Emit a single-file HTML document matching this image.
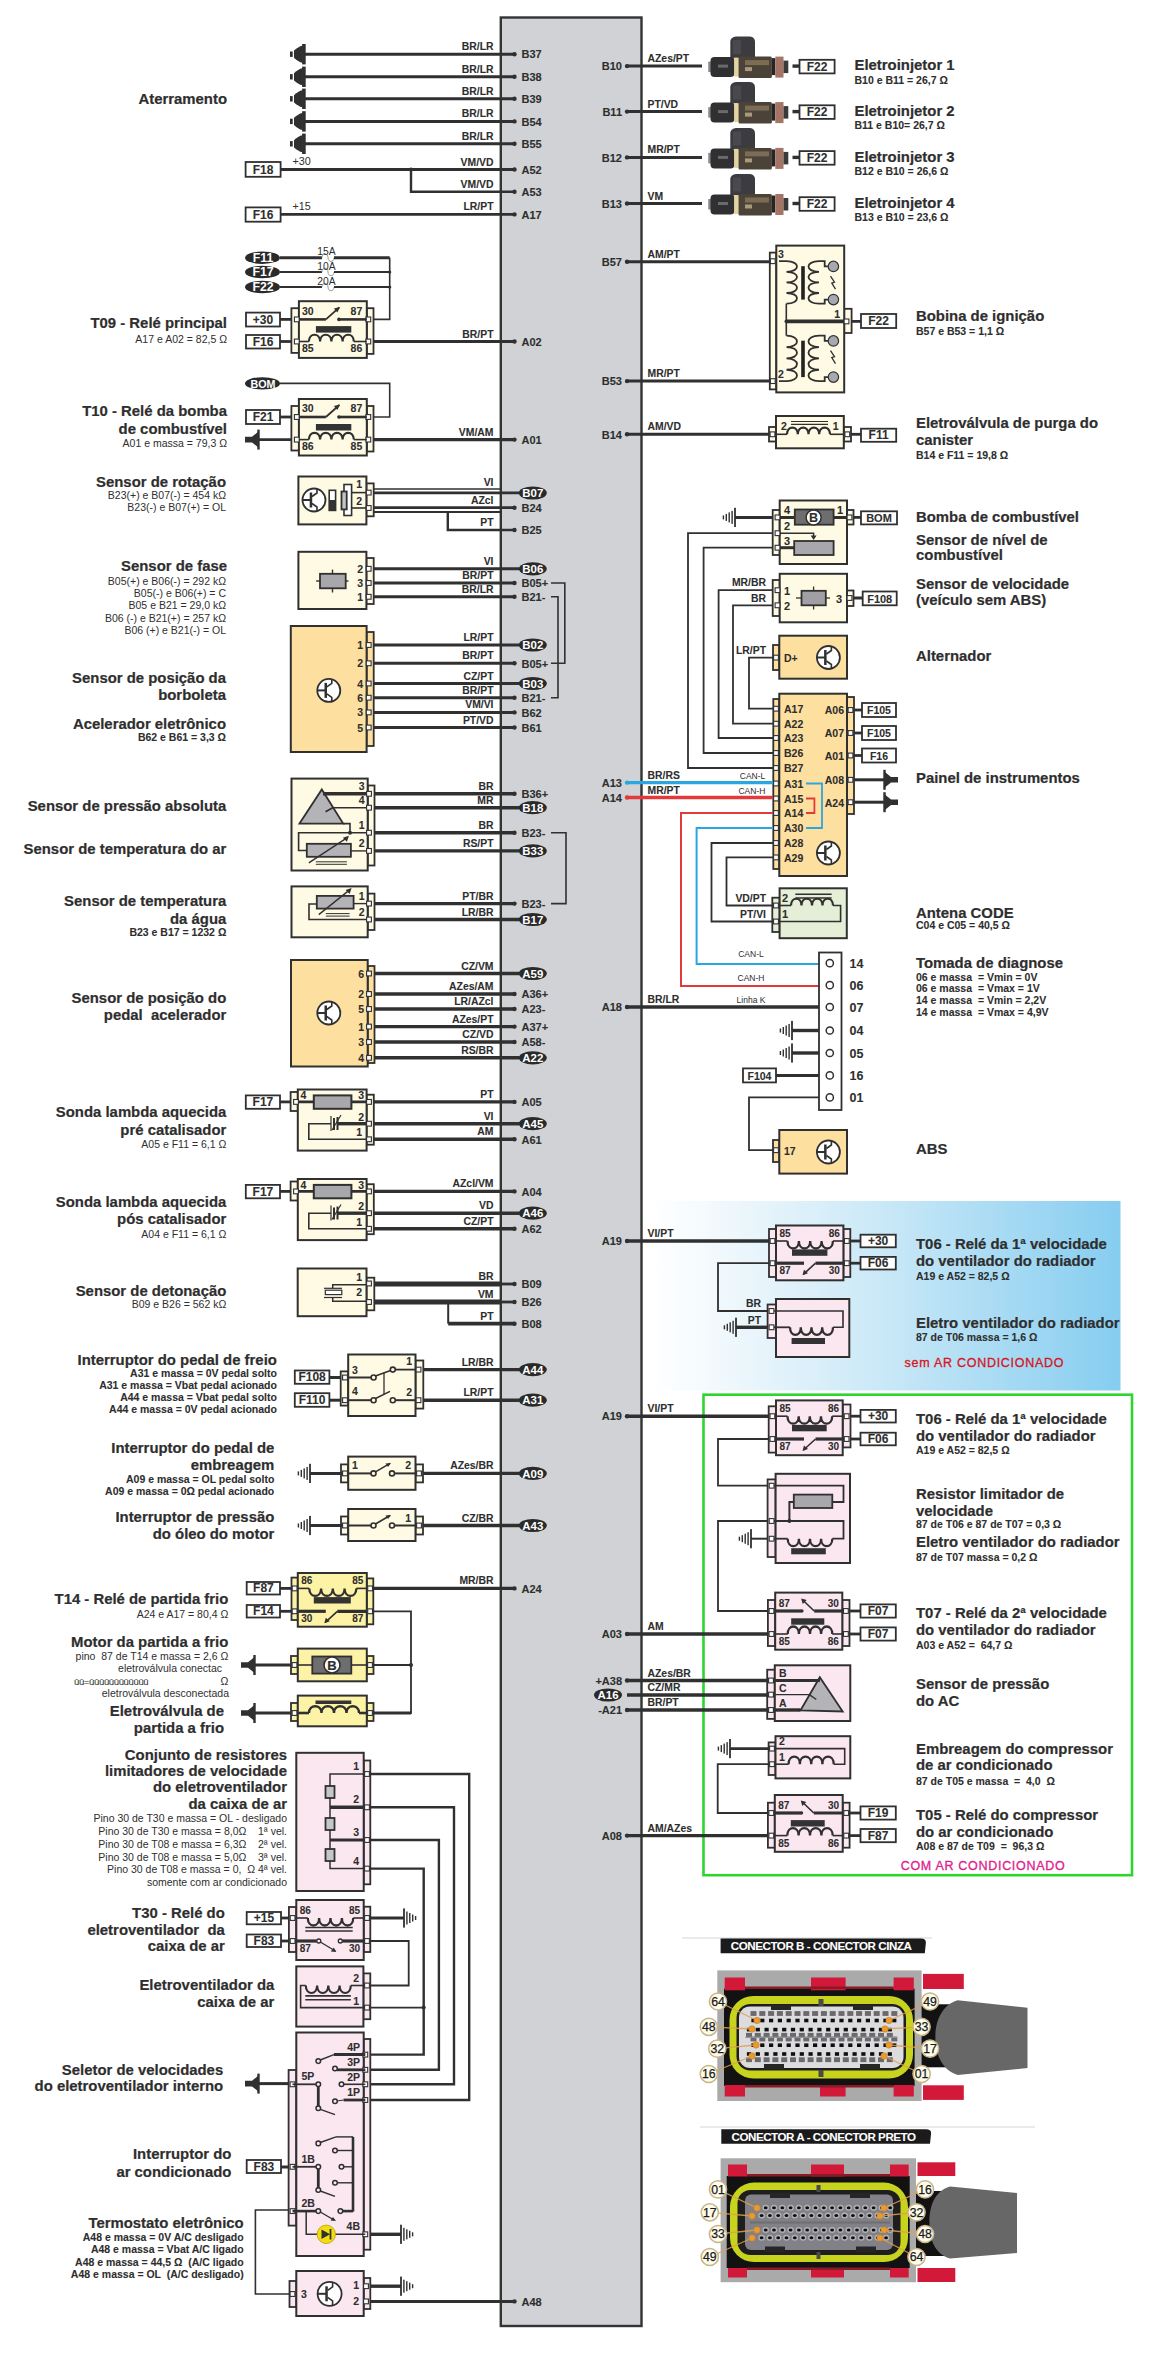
<!DOCTYPE html>
<html><head><meta charset="utf-8"><style>
html,body{margin:0;padding:0;background:#fff;}
svg{display:block;font-family:"Liberation Sans", sans-serif;}
text{white-space:pre;}
</style></head><body>
<svg width="1155" height="2357" viewBox="0 0 1155 2357">
<rect x="500.8" y="17.5" width="140.7" height="2308.5" fill="#d0d2d5" stroke="#333" stroke-width="2.4" rx="0"/>
<text x="227.0" y="104.0" font-size="14.9" font-weight="bold" text-anchor="end" fill="#2e2e2e" stroke="#2e2e2e" stroke-width="0.2" >Aterramento</text>
<rect x="302.1" y="44.0" width="3.6" height="20.4" fill="#303030"/>
<polygon points="302.7,45.7 300.2,46.2 296.2,48.7 294.0,50.6 294.0,57.800000000000004 296.2,59.7 300.2,62.2 302.7,62.7" fill="#303030"/>
<rect x="290.0" y="51.5" width="2.7" height="5.4" fill="#303030"/>
<line x1="305.0" y1="54.2" x2="514.5" y2="54.2" stroke="#303030" stroke-width="3.0"/>
<circle cx="514.5" cy="54.2" r="2.2" fill="#303030"/>
<text x="521.5" y="58.4" font-size="11" font-weight="bold" text-anchor="start" fill="#2e2e2e" stroke="#2e2e2e" stroke-width="0.08" >B37</text>
<text x="493.5" y="50.2" font-size="10.4" font-weight="bold" text-anchor="end" fill="#2e2e2e" stroke="#2e2e2e" stroke-width="0.08" >BR/LR</text>
<rect x="302.1" y="66.6" width="3.6" height="20.4" fill="#303030"/>
<polygon points="302.7,68.3 300.2,68.8 296.2,71.3 294.0,73.2 294.0,80.39999999999999 296.2,82.3 300.2,84.8 302.7,85.3" fill="#303030"/>
<rect x="290.0" y="74.1" width="2.7" height="5.4" fill="#303030"/>
<line x1="305.0" y1="76.8" x2="514.5" y2="76.8" stroke="#303030" stroke-width="3.0"/>
<circle cx="514.5" cy="76.8" r="2.2" fill="#303030"/>
<text x="521.5" y="81.0" font-size="11" font-weight="bold" text-anchor="start" fill="#2e2e2e" stroke="#2e2e2e" stroke-width="0.08" >B38</text>
<text x="493.5" y="72.8" font-size="10.4" font-weight="bold" text-anchor="end" fill="#2e2e2e" stroke="#2e2e2e" stroke-width="0.08" >BR/LR</text>
<rect x="302.1" y="88.6" width="3.6" height="20.4" fill="#303030"/>
<polygon points="302.7,90.3 300.2,90.8 296.2,93.3 294.0,95.2 294.0,102.39999999999999 296.2,104.3 300.2,106.8 302.7,107.3" fill="#303030"/>
<rect x="290.0" y="96.1" width="2.7" height="5.4" fill="#303030"/>
<line x1="305.0" y1="98.8" x2="514.5" y2="98.8" stroke="#303030" stroke-width="3.0"/>
<circle cx="514.5" cy="98.8" r="2.2" fill="#303030"/>
<text x="521.5" y="103.0" font-size="11" font-weight="bold" text-anchor="start" fill="#2e2e2e" stroke="#2e2e2e" stroke-width="0.08" >B39</text>
<text x="493.5" y="94.8" font-size="10.4" font-weight="bold" text-anchor="end" fill="#2e2e2e" stroke="#2e2e2e" stroke-width="0.08" >BR/LR</text>
<rect x="302.1" y="111.2" width="3.6" height="20.4" fill="#303030"/>
<polygon points="302.7,112.9 300.2,113.4 296.2,115.9 294.0,117.80000000000001 294.0,125.0 296.2,126.9 300.2,129.4 302.7,129.9" fill="#303030"/>
<rect x="290.0" y="118.7" width="2.7" height="5.4" fill="#303030"/>
<line x1="305.0" y1="121.4" x2="514.5" y2="121.4" stroke="#303030" stroke-width="3.0"/>
<circle cx="514.5" cy="121.4" r="2.2" fill="#303030"/>
<text x="521.5" y="125.6" font-size="11" font-weight="bold" text-anchor="start" fill="#2e2e2e" stroke="#2e2e2e" stroke-width="0.08" >B54</text>
<text x="493.5" y="117.4" font-size="10.4" font-weight="bold" text-anchor="end" fill="#2e2e2e" stroke="#2e2e2e" stroke-width="0.08" >BR/LR</text>
<rect x="302.1" y="133.6" width="3.6" height="20.4" fill="#303030"/>
<polygon points="302.7,135.3 300.2,135.8 296.2,138.3 294.0,140.20000000000002 294.0,147.4 296.2,149.3 300.2,151.8 302.7,152.3" fill="#303030"/>
<rect x="290.0" y="141.1" width="2.7" height="5.4" fill="#303030"/>
<line x1="305.0" y1="143.8" x2="514.5" y2="143.8" stroke="#303030" stroke-width="3.0"/>
<circle cx="514.5" cy="143.8" r="2.2" fill="#303030"/>
<text x="521.5" y="148.0" font-size="11" font-weight="bold" text-anchor="start" fill="#2e2e2e" stroke="#2e2e2e" stroke-width="0.08" >B55</text>
<text x="493.5" y="139.8" font-size="10.4" font-weight="bold" text-anchor="end" fill="#2e2e2e" stroke="#2e2e2e" stroke-width="0.08" >BR/LR</text>
<rect x="245.6" y="162.0" width="35.0" height="14.8" fill="#fff" stroke="#303030" stroke-width="1.8" rx="0"/>
<text x="263.1" y="173.5" font-size="12" font-weight="bold" text-anchor="middle" fill="#2e2e2e" stroke="#2e2e2e" stroke-width="0.08" >F18</text>
<text x="292.5" y="165.0" font-size="10.8" font-weight="normal" text-anchor="start" fill="#2e2e2e"  >+30</text>
<line x1="280.6" y1="169.5" x2="514.5" y2="169.5" stroke="#303030" stroke-width="2.8"/>
<circle cx="514.5" cy="169.5" r="2.2" fill="#303030"/>
<text x="521.5" y="173.7" font-size="11" font-weight="bold" text-anchor="start" fill="#2e2e2e" stroke="#2e2e2e" stroke-width="0.08" >A52</text>
<text x="493.5" y="165.5" font-size="10.4" font-weight="bold" text-anchor="end" fill="#2e2e2e" stroke="#2e2e2e" stroke-width="0.08" >VM/VD</text>
<polyline points="411.0,169.5 411.0,191.8 514.5,191.8" fill="none" stroke="#303030" stroke-width="2.4" stroke-linejoin="miter"/>
<circle cx="411.0" cy="169.5" r="2" fill="#303030"/>
<circle cx="514.5" cy="191.8" r="2.2" fill="#303030"/>
<text x="521.5" y="196.0" font-size="11" font-weight="bold" text-anchor="start" fill="#2e2e2e" stroke="#2e2e2e" stroke-width="0.08" >A53</text>
<text x="493.5" y="187.8" font-size="10.4" font-weight="bold" text-anchor="end" fill="#2e2e2e" stroke="#2e2e2e" stroke-width="0.08" >VM/VD</text>
<rect x="245.6" y="207.4" width="35.0" height="14.3" fill="#fff" stroke="#303030" stroke-width="1.8" rx="0"/>
<text x="263.1" y="218.7" font-size="12" font-weight="bold" text-anchor="middle" fill="#2e2e2e" stroke="#2e2e2e" stroke-width="0.08" >F16</text>
<text x="292.5" y="210.0" font-size="10.8" font-weight="normal" text-anchor="start" fill="#2e2e2e"  >+15</text>
<line x1="280.6" y1="214.4" x2="514.5" y2="214.4" stroke="#303030" stroke-width="2.8"/>
<circle cx="514.5" cy="214.4" r="2.2" fill="#303030"/>
<text x="521.5" y="218.6" font-size="11" font-weight="bold" text-anchor="start" fill="#2e2e2e" stroke="#2e2e2e" stroke-width="0.08" >A17</text>
<text x="493.5" y="210.4" font-size="10.4" font-weight="bold" text-anchor="end" fill="#2e2e2e" stroke="#2e2e2e" stroke-width="0.08" >LR/PT</text>
<ellipse cx="262.5" cy="257.7" rx="17.5" ry="6.2" fill="#2a2a2a"/>
<text x="263" y="262.09999999999997" font-size="12.3" font-weight="bold" text-anchor="middle" fill="#fff">F11</text>
<line x1="280.0" y1="257.7" x2="322.0" y2="257.7" stroke="#303030" stroke-width="3.0"/>
<path d="M322,257.7 C322,252.7 328,252.7 328,257.7 C328,262.7 334,262.7 334,257.7" fill="none" stroke="#999" stroke-width="1"/>
<line x1="334.0" y1="257.7" x2="389.7" y2="257.7" stroke="#303030" stroke-width="3.0"/>
<text x="326.5" y="255.2" font-size="10.3" font-weight="normal" text-anchor="middle" fill="#2e2e2e"  >15A</text>
<ellipse cx="262.5" cy="272" rx="17.5" ry="6.2" fill="#2a2a2a"/>
<text x="263" y="276.4" font-size="12.3" font-weight="bold" text-anchor="middle" fill="#fff">F17</text>
<line x1="280.0" y1="272.0" x2="322.0" y2="272.0" stroke="#303030" stroke-width="1.8"/>
<path d="M322,272 C322,267 328,267 328,272 C328,277 334,277 334,272" fill="none" stroke="#999" stroke-width="1"/>
<line x1="334.0" y1="272.0" x2="389.7" y2="272.0" stroke="#303030" stroke-width="1.8"/>
<text x="326.5" y="269.5" font-size="10.3" font-weight="normal" text-anchor="middle" fill="#2e2e2e"  >10A</text>
<ellipse cx="262.5" cy="287" rx="17.5" ry="6.2" fill="#2a2a2a"/>
<text x="263" y="291.4" font-size="12.3" font-weight="bold" text-anchor="middle" fill="#fff">F22</text>
<line x1="280.0" y1="287.0" x2="322.0" y2="287.0" stroke="#303030" stroke-width="1.8"/>
<path d="M322,287 C322,282 328,282 328,287 C328,292 334,292 334,287" fill="none" stroke="#999" stroke-width="1"/>
<line x1="334.0" y1="287.0" x2="389.7" y2="287.0" stroke="#303030" stroke-width="1.8"/>
<text x="326.5" y="284.5" font-size="10.3" font-weight="normal" text-anchor="middle" fill="#2e2e2e"  >20A</text>
<polyline points="389.7,257.7 389.7,319.4 373.5,319.4" fill="none" stroke="#303030" stroke-width="1.6" stroke-linejoin="miter"/>
<circle cx="389.7" cy="272.0" r="1.6" fill="#303030"/>
<circle cx="389.7" cy="287.0" r="1.6" fill="#303030"/>
<rect x="291.4" y="308.2" width="7.5" height="44.7" fill="#fefae4" stroke="#303030" stroke-width="1.8" rx="0"/>
<rect x="366.8" y="308.2" width="6.7" height="45.7" fill="#fefae4" stroke="#303030" stroke-width="1.8" rx="0"/>
<rect x="298.9" y="301.2" width="67.9" height="56.7" fill="#fefae4" stroke="#303030" stroke-width="2" rx="0"/>
<rect x="294.4" y="317.0" width="4.8" height="4.8" fill="#fff" stroke="#303030" stroke-width="1.1"/>
<rect x="365.9" y="317.0" width="4.8" height="4.8" fill="#fff" stroke="#303030" stroke-width="1.1"/>
<rect x="294.4" y="339.1" width="4.8" height="4.8" fill="#fff" stroke="#303030" stroke-width="1.1"/>
<rect x="365.9" y="339.1" width="4.8" height="4.8" fill="#fff" stroke="#303030" stroke-width="1.1"/>
<text x="301.9" y="314.7" font-size="10.5" font-weight="bold" text-anchor="start" fill="#2e2e2e" stroke="#2e2e2e" stroke-width="0.08" >30</text>
<text x="362.3" y="314.7" font-size="10.5" font-weight="bold" text-anchor="end" fill="#2e2e2e" stroke="#2e2e2e" stroke-width="0.08" >87</text>
<text x="301.9" y="352.0" font-size="10.5" font-weight="bold" text-anchor="start" fill="#2e2e2e" stroke="#2e2e2e" stroke-width="0.08" >85</text>
<text x="362.3" y="352.0" font-size="10.5" font-weight="bold" text-anchor="end" fill="#2e2e2e" stroke="#2e2e2e" stroke-width="0.08" >86</text>
<line x1="298.9" y1="319.4" x2="325.9" y2="319.4" stroke="#303030" stroke-width="2.6"/>
<line x1="325.9" y1="319.4" x2="339.4" y2="307.4" stroke="#303030" stroke-width="1.8"/>
<polygon points="339.9,306.9 333.9,308.4 337.4,312.4" fill="#303030"/>
<circle cx="338.9" cy="319.4" r="1.8" fill="#303030"/>
<line x1="338.9" y1="319.4" x2="366.8" y2="319.4" stroke="#303030" stroke-width="2.6"/>
<line x1="298.9" y1="341.5" x2="308.9" y2="341.5" stroke="#303030" stroke-width="1.6"/>
<path d="M308.9,341.5 C308.9,332.5 320.1,332.5 320.1,341.5 C320.1,332.5 331.4,332.5 331.4,341.5 C331.4,332.5 342.6,332.5 342.6,341.5 C342.6,332.5 353.8,332.5 353.8,341.5 " fill="none" stroke="#303030" stroke-width="2.2"/>
<line x1="353.8" y1="341.5" x2="366.8" y2="341.5" stroke="#303030" stroke-width="1.6"/>
<rect x="315.9" y="326.1" width="35.4" height="6.5" fill="#333"/>
<rect x="246.0" y="312.6" width="34.0" height="13.9" fill="#fff" stroke="#303030" stroke-width="1.8" rx="0"/>
<text x="263.0" y="323.7" font-size="12" font-weight="bold" text-anchor="middle" fill="#2e2e2e" stroke="#2e2e2e" stroke-width="0.08" >+30</text>
<rect x="246.0" y="335.0" width="34.0" height="13.5" fill="#fff" stroke="#303030" stroke-width="1.8" rx="0"/>
<text x="263.0" y="345.9" font-size="12" font-weight="bold" text-anchor="middle" fill="#2e2e2e" stroke="#2e2e2e" stroke-width="0.08" >F16</text>
<line x1="280.0" y1="319.4" x2="292.0" y2="319.4" stroke="#303030" stroke-width="2.8"/>
<line x1="280.0" y1="341.5" x2="292.0" y2="341.5" stroke="#303030" stroke-width="2.8"/>
<line x1="373.5" y1="341.5" x2="514.5" y2="341.5" stroke="#303030" stroke-width="3.1999999999999997"/>
<circle cx="514.5" cy="341.5" r="2.2" fill="#303030"/>
<text x="521.5" y="345.7" font-size="11" font-weight="bold" text-anchor="start" fill="#2e2e2e" stroke="#2e2e2e" stroke-width="0.08" >A02</text>
<text x="493.5" y="337.5" font-size="10.4" font-weight="bold" text-anchor="end" fill="#2e2e2e" stroke="#2e2e2e" stroke-width="0.08" >BR/PT</text>
<text x="227.0" y="328.0" font-size="14.9" font-weight="bold" text-anchor="end" fill="#2e2e2e" stroke="#2e2e2e" stroke-width="0.2" >T09 - Relé principal</text>
<text x="227.0" y="343.0" font-size="10.5" font-weight="normal" text-anchor="end" fill="#2e2e2e"  >A17 e A02 = 82,5 Ω</text>
<ellipse cx="262.5" cy="383.4" rx="17.5" ry="6.2" fill="#2a2a2a"/>
<text x="263" y="387.6" font-size="11.5" font-weight="bold" text-anchor="middle" fill="#fff" textLength="25" lengthAdjust="spacingAndGlyphs">BOM</text>
<polyline points="280.0,383.4 389.7,383.4 389.7,417.0 373.5,417.0" fill="none" stroke="#303030" stroke-width="1.6" stroke-linejoin="miter"/>
<rect x="291.4" y="406.0" width="7.5" height="44.5" fill="#fefae4" stroke="#303030" stroke-width="1.8" rx="0"/>
<rect x="366.8" y="406.0" width="6.7" height="45.5" fill="#fefae4" stroke="#303030" stroke-width="1.8" rx="0"/>
<rect x="298.9" y="399.0" width="67.9" height="56.5" fill="#fefae4" stroke="#303030" stroke-width="2" rx="0"/>
<rect x="294.4" y="414.6" width="4.8" height="4.8" fill="#fff" stroke="#303030" stroke-width="1.1"/>
<rect x="365.9" y="414.6" width="4.8" height="4.8" fill="#fff" stroke="#303030" stroke-width="1.1"/>
<rect x="294.4" y="437.2" width="4.8" height="4.8" fill="#fff" stroke="#303030" stroke-width="1.1"/>
<rect x="365.9" y="437.2" width="4.8" height="4.8" fill="#fff" stroke="#303030" stroke-width="1.1"/>
<text x="301.9" y="412.3" font-size="10.5" font-weight="bold" text-anchor="start" fill="#2e2e2e" stroke="#2e2e2e" stroke-width="0.08" >30</text>
<text x="362.3" y="412.3" font-size="10.5" font-weight="bold" text-anchor="end" fill="#2e2e2e" stroke="#2e2e2e" stroke-width="0.08" >87</text>
<text x="301.9" y="450.1" font-size="10.5" font-weight="bold" text-anchor="start" fill="#2e2e2e" stroke="#2e2e2e" stroke-width="0.08" >86</text>
<text x="362.3" y="450.1" font-size="10.5" font-weight="bold" text-anchor="end" fill="#2e2e2e" stroke="#2e2e2e" stroke-width="0.08" >85</text>
<line x1="298.9" y1="417.0" x2="325.9" y2="417.0" stroke="#303030" stroke-width="2.6"/>
<line x1="325.9" y1="417.0" x2="339.4" y2="405.0" stroke="#303030" stroke-width="1.8"/>
<polygon points="339.9,404.5 333.9,406 337.4,410" fill="#303030"/>
<circle cx="338.9" cy="417.0" r="1.8" fill="#303030"/>
<line x1="338.9" y1="417.0" x2="366.8" y2="417.0" stroke="#303030" stroke-width="2.6"/>
<line x1="298.9" y1="439.6" x2="308.9" y2="439.6" stroke="#303030" stroke-width="1.6"/>
<path d="M308.9,439.6 C308.9,430.6 320.1,430.6 320.1,439.6 C320.1,430.6 331.4,430.6 331.4,439.6 C331.4,430.6 342.6,430.6 342.6,439.6 C342.6,430.6 353.8,430.6 353.8,439.6 " fill="none" stroke="#303030" stroke-width="2.2"/>
<line x1="353.8" y1="439.6" x2="366.8" y2="439.6" stroke="#303030" stroke-width="1.6"/>
<rect x="315.9" y="424.0" width="35.4" height="6.5" fill="#333"/>
<rect x="246.0" y="410.0" width="34.0" height="14.0" fill="#fff" stroke="#303030" stroke-width="1.8" rx="0"/>
<text x="263.0" y="421.1" font-size="12" font-weight="bold" text-anchor="middle" fill="#2e2e2e" stroke="#2e2e2e" stroke-width="0.08" >F21</text>
<line x1="280.0" y1="417.0" x2="292.0" y2="417.0" stroke="#303030" stroke-width="2.8"/>
<rect x="257.3" y="429.6" width="2.4" height="20.0" fill="#303030"/>
<polygon points="258.5,431.6 252.0,436.8 245.0,436.8 245.0,442.4 252.0,442.4 258.5,447.6" fill="#303030"/>
<line x1="258.5" y1="439.6" x2="292.0" y2="439.6" stroke="#303030" stroke-width="2.8"/>
<line x1="373.5" y1="439.6" x2="514.5" y2="439.6" stroke="#303030" stroke-width="3.1999999999999997"/>
<circle cx="514.5" cy="439.6" r="2.2" fill="#303030"/>
<text x="521.5" y="443.8" font-size="11" font-weight="bold" text-anchor="start" fill="#2e2e2e" stroke="#2e2e2e" stroke-width="0.08" >A01</text>
<text x="493.5" y="435.6" font-size="10.4" font-weight="bold" text-anchor="end" fill="#2e2e2e" stroke="#2e2e2e" stroke-width="0.08" >VM/AM</text>
<text x="227.0" y="416.0" font-size="14.9" font-weight="bold" text-anchor="end" fill="#2e2e2e" stroke="#2e2e2e" stroke-width="0.2" >T10 - Relé da bomba</text>
<text x="227.0" y="433.5" font-size="14.9" font-weight="bold" text-anchor="end" fill="#2e2e2e" stroke="#2e2e2e" stroke-width="0.2" >de combustível</text>
<text x="227.0" y="447.0" font-size="10.5" font-weight="normal" text-anchor="end" fill="#2e2e2e"  >A01 e massa = 79,3 Ω</text>
<rect x="366.4" y="483.4" width="7.3" height="32.9" fill="#fefae4" stroke="#303030" stroke-width="1.8" rx="0"/>
<rect x="298.4" y="476.5" width="68.0" height="47.9" fill="#fefae4" stroke="#303030" stroke-width="2" rx="0"/>
<circle cx="314.0" cy="500.0" r="11.5" fill="#fff" stroke="#303030" stroke-width="1.8"/>
<line x1="302.5" y1="500.0" x2="311.0" y2="500.0" stroke="#303030" stroke-width="2"/>
<rect x="309.7" y="492.5" width="2.5" height="15.0" fill="#303030"/>
<path d="M312,496.5 L317,493 L317,489.0" fill="none" stroke="#303030" stroke-width="1.6"/>
<path d="M312,503.5 L317,507 L317,511.0" fill="none" stroke="#303030" stroke-width="1.6"/>
<rect x="329.2" y="490.3" width="6.4" height="20.1" fill="#fff" stroke="#303030" stroke-width="1.6" rx="0"/>
<rect x="329.2" y="500.0" width="6.4" height="10.4" fill="#333"/>
<rect x="344.0" y="484.5" width="7.6" height="31.0" fill="#fff" stroke="#303030" stroke-width="1.6" rx="0"/>
<line x1="351.6" y1="492.6" x2="367.0" y2="492.6" stroke="#303030" stroke-width="1.6"/>
<line x1="351.6" y1="508.0" x2="367.0" y2="508.0" stroke="#303030" stroke-width="1.6"/>
<rect x="341.5" y="491.5" width="5.2" height="17.9" fill="#c4c4c8" stroke="#303030" stroke-width="1.8" rx="0"/>
<rect x="366.3" y="490.2" width="4.8" height="4.8" fill="#fff" stroke="#303030" stroke-width="1.1"/>
<rect x="366.3" y="505.6" width="4.8" height="4.8" fill="#fff" stroke="#303030" stroke-width="1.1"/>
<text x="362.0" y="488.0" font-size="10.5" font-weight="bold" text-anchor="end" fill="#2e2e2e" stroke="#2e2e2e" stroke-width="0.08" >1</text>
<text x="362.0" y="505.0" font-size="10.5" font-weight="bold" text-anchor="end" fill="#2e2e2e" stroke="#2e2e2e" stroke-width="0.08" >2</text>
<line x1="373.7" y1="489.0" x2="501.0" y2="489.0" stroke="#303030" stroke-width="1.6"/>
<line x1="373.7" y1="492.8" x2="519.0" y2="492.8" stroke="#303030" stroke-width="2.8"/>
<line x1="373.7" y1="507.7" x2="514.5" y2="507.7" stroke="#303030" stroke-width="2.8"/>
<line x1="373.7" y1="512.0" x2="501.0" y2="512.0" stroke="#303030" stroke-width="1.8"/>
<polyline points="447.8,512.0 447.8,530.0 514.5,530.0" fill="none" stroke="#303030" stroke-width="2.4" stroke-linejoin="miter"/>
<ellipse cx="532.8" cy="493.0" rx="14" ry="6.6" fill="#2a2a2a"/>
<text x="532.8" y="497.1" font-size="11" font-weight="bold" text-anchor="middle" fill="#fff" textLength="21" lengthAdjust="spacingAndGlyphs">B07</text>
<text x="493.5" y="486.0" font-size="10.4" font-weight="bold" text-anchor="end" fill="#2e2e2e" stroke="#2e2e2e" stroke-width="0.08" >VI</text>
<circle cx="514.5" cy="507.7" r="2.2" fill="#303030"/>
<text x="521.5" y="511.9" font-size="11" font-weight="bold" text-anchor="start" fill="#2e2e2e" stroke="#2e2e2e" stroke-width="0.08" >B24</text>
<text x="493.5" y="503.7" font-size="10.4" font-weight="bold" text-anchor="end" fill="#2e2e2e" stroke="#2e2e2e" stroke-width="0.08" >AZcl</text>
<circle cx="514.5" cy="530.0" r="2.2" fill="#303030"/>
<text x="521.5" y="534.2" font-size="11" font-weight="bold" text-anchor="start" fill="#2e2e2e" stroke="#2e2e2e" stroke-width="0.08" >B25</text>
<text x="493.5" y="526.0" font-size="10.4" font-weight="bold" text-anchor="end" fill="#2e2e2e" stroke="#2e2e2e" stroke-width="0.08" >PT</text>
<text x="226.0" y="486.6" font-size="14.9" font-weight="bold" text-anchor="end" fill="#2e2e2e" stroke="#2e2e2e" stroke-width="0.2" >Sensor de rotação</text>
<text x="226.0" y="499.0" font-size="10.5" font-weight="normal" text-anchor="end" fill="#2e2e2e"  >B23(+) e B07(-) = 454 kΩ</text>
<text x="226.0" y="511.4" font-size="10.5" font-weight="normal" text-anchor="end" fill="#2e2e2e"  >B23(-) e B07(+) = OL</text>
<rect x="366.4" y="558.0" width="7.3" height="46.0" fill="#fefae4" stroke="#303030" stroke-width="1.8" rx="0"/>
<rect x="298.4" y="551.8" width="68.0" height="57.2" fill="#fefae4" stroke="#303030" stroke-width="2" rx="0"/>
<rect x="320.0" y="573.8" width="25.7" height="14.5" fill="#a8a8ac" stroke="#303030" stroke-width="1.8" rx="0"/>
<line x1="316.1" y1="581.0" x2="320.0" y2="581.0" stroke="#303030" stroke-width="1.4"/>
<line x1="345.7" y1="581.0" x2="348.5" y2="581.0" stroke="#303030" stroke-width="1.4"/>
<line x1="332.5" y1="569.6" x2="332.5" y2="573.8" stroke="#303030" stroke-width="1.4"/>
<line x1="332.5" y1="588.3" x2="332.5" y2="592.5" stroke="#303030" stroke-width="1.4"/>
<rect x="366.3" y="566.4" width="4.8" height="4.8" fill="#fff" stroke="#303030" stroke-width="1.1"/>
<text x="363.0" y="572.8" font-size="10.5" font-weight="bold" text-anchor="end" fill="#2e2e2e" stroke="#2e2e2e" stroke-width="0.08" >2</text>
<line x1="373.7" y1="568.8" x2="519.0" y2="568.8" stroke="#303030" stroke-width="3.0"/>
<rect x="366.3" y="580.6" width="4.8" height="4.8" fill="#fff" stroke="#303030" stroke-width="1.1"/>
<text x="363.0" y="587.0" font-size="10.5" font-weight="bold" text-anchor="end" fill="#2e2e2e" stroke="#2e2e2e" stroke-width="0.08" >3</text>
<line x1="373.7" y1="583.0" x2="514.5" y2="583.0" stroke="#303030" stroke-width="3.0"/>
<rect x="366.3" y="594.4" width="4.8" height="4.8" fill="#fff" stroke="#303030" stroke-width="1.1"/>
<text x="363.0" y="600.8" font-size="10.5" font-weight="bold" text-anchor="end" fill="#2e2e2e" stroke="#2e2e2e" stroke-width="0.08" >1</text>
<line x1="373.7" y1="596.8" x2="514.5" y2="596.8" stroke="#303030" stroke-width="3.0"/>
<ellipse cx="532.8" cy="568.8" rx="14" ry="6.6" fill="#2a2a2a"/>
<text x="532.8" y="572.9" font-size="11" font-weight="bold" text-anchor="middle" fill="#fff" textLength="21" lengthAdjust="spacingAndGlyphs">B06</text>
<text x="493.5" y="564.8" font-size="10.4" font-weight="bold" text-anchor="end" fill="#2e2e2e" stroke="#2e2e2e" stroke-width="0.08" >VI</text>
<circle cx="514.5" cy="583.0" r="2.2" fill="#303030"/>
<text x="521.5" y="587.2" font-size="11" font-weight="bold" text-anchor="start" fill="#2e2e2e" stroke="#2e2e2e" stroke-width="0.08" >B05+</text>
<text x="493.5" y="579.0" font-size="10.4" font-weight="bold" text-anchor="end" fill="#2e2e2e" stroke="#2e2e2e" stroke-width="0.08" >BR/PT</text>
<circle cx="514.5" cy="596.8" r="2.2" fill="#303030"/>
<text x="521.5" y="601.0" font-size="11" font-weight="bold" text-anchor="start" fill="#2e2e2e" stroke="#2e2e2e" stroke-width="0.08" >B21-</text>
<text x="493.5" y="592.8" font-size="10.4" font-weight="bold" text-anchor="end" fill="#2e2e2e" stroke="#2e2e2e" stroke-width="0.08" >BR/LR</text>
<text x="227.0" y="571.0" font-size="14.9" font-weight="bold" text-anchor="end" fill="#2e2e2e" stroke="#2e2e2e" stroke-width="0.2" >Sensor de fase</text>
<text x="226.0" y="584.9" font-size="10.5" font-weight="normal" text-anchor="end" fill="#2e2e2e"  >B05(+) e B06(-) = 292 kΩ</text>
<text x="226.0" y="596.6" font-size="10.5" font-weight="normal" text-anchor="end" fill="#2e2e2e"  >B05(-) e B06(+) = C</text>
<text x="226.0" y="609.4" font-size="10.5" font-weight="normal" text-anchor="end" fill="#2e2e2e"  >B05 e B21 = 29,0 kΩ</text>
<text x="226.0" y="622.4" font-size="10.5" font-weight="normal" text-anchor="end" fill="#2e2e2e"  >B06 (-) e B21(+) = 257 kΩ</text>
<text x="226.0" y="634.2" font-size="10.5" font-weight="normal" text-anchor="end" fill="#2e2e2e"  >B06 (+) e B21(-) = OL</text>
<polyline points="551.0,583.0 564.8,583.0 564.8,663.3 551.0,663.3" fill="none" stroke="#303030" stroke-width="1.6" stroke-linejoin="miter"/>
<polyline points="551.0,596.8 558.0,596.8 558.0,697.7 551.0,697.7" fill="none" stroke="#303030" stroke-width="1.6" stroke-linejoin="miter"/>
<rect x="366.6" y="632.0" width="7.1" height="114.0" fill="#fde0a0" stroke="#303030" stroke-width="1.8" rx="0"/>
<rect x="290.8" y="626.0" width="75.8" height="126.0" fill="#fde0a0" stroke="#303030" stroke-width="2" rx="0"/>
<circle cx="328.8" cy="690.4" r="11.5" fill="#fff" stroke="#303030" stroke-width="1.8"/>
<line x1="317.3" y1="690.4" x2="325.8" y2="690.4" stroke="#303030" stroke-width="2"/>
<rect x="324.5" y="682.9" width="2.5" height="15.0" fill="#303030"/>
<path d="M326.8,686.9 L331.8,683.4 L331.8,679.4" fill="none" stroke="#303030" stroke-width="1.6"/>
<path d="M326.8,693.9 L331.8,697.4 L331.8,701.4" fill="none" stroke="#303030" stroke-width="1.6"/>
<rect x="366.3" y="642.6" width="4.8" height="4.8" fill="#fff" stroke="#303030" stroke-width="1.1"/>
<text x="363.0" y="649.0" font-size="10.5" font-weight="bold" text-anchor="end" fill="#2e2e2e" stroke="#2e2e2e" stroke-width="0.08" >1</text>
<line x1="373.7" y1="645.0" x2="519.0" y2="645.0" stroke="#303030" stroke-width="3.0"/>
<ellipse cx="532.8" cy="645.0" rx="14" ry="6.6" fill="#2a2a2a"/>
<text x="532.8" y="649.1" font-size="11" font-weight="bold" text-anchor="middle" fill="#fff" textLength="21" lengthAdjust="spacingAndGlyphs">B02</text>
<text x="493.5" y="641.0" font-size="10.4" font-weight="bold" text-anchor="end" fill="#2e2e2e" stroke="#2e2e2e" stroke-width="0.08" >LR/PT</text>
<rect x="366.3" y="660.9" width="4.8" height="4.8" fill="#fff" stroke="#303030" stroke-width="1.1"/>
<text x="363.0" y="667.3" font-size="10.5" font-weight="bold" text-anchor="end" fill="#2e2e2e" stroke="#2e2e2e" stroke-width="0.08" >2</text>
<line x1="373.7" y1="663.3" x2="514.5" y2="663.3" stroke="#303030" stroke-width="3.0"/>
<circle cx="514.5" cy="663.3" r="2.2" fill="#303030"/>
<text x="521.5" y="667.5" font-size="11" font-weight="bold" text-anchor="start" fill="#2e2e2e" stroke="#2e2e2e" stroke-width="0.08" >B05+</text>
<text x="493.5" y="659.3" font-size="10.4" font-weight="bold" text-anchor="end" fill="#2e2e2e" stroke="#2e2e2e" stroke-width="0.08" >BR/PT</text>
<rect x="366.3" y="681.1" width="4.8" height="4.8" fill="#fff" stroke="#303030" stroke-width="1.1"/>
<text x="363.0" y="687.5" font-size="10.5" font-weight="bold" text-anchor="end" fill="#2e2e2e" stroke="#2e2e2e" stroke-width="0.08" >4</text>
<line x1="373.7" y1="683.5" x2="519.0" y2="683.5" stroke="#303030" stroke-width="3.0"/>
<ellipse cx="532.8" cy="683.5" rx="14" ry="6.6" fill="#2a2a2a"/>
<text x="532.8" y="687.6" font-size="11" font-weight="bold" text-anchor="middle" fill="#fff" textLength="21" lengthAdjust="spacingAndGlyphs">B03</text>
<text x="493.5" y="679.5" font-size="10.4" font-weight="bold" text-anchor="end" fill="#2e2e2e" stroke="#2e2e2e" stroke-width="0.08" >CZ/PT</text>
<rect x="366.3" y="695.3" width="4.8" height="4.8" fill="#fff" stroke="#303030" stroke-width="1.1"/>
<text x="363.0" y="701.7" font-size="10.5" font-weight="bold" text-anchor="end" fill="#2e2e2e" stroke="#2e2e2e" stroke-width="0.08" >6</text>
<line x1="373.7" y1="697.7" x2="514.5" y2="697.7" stroke="#303030" stroke-width="3.0"/>
<circle cx="514.5" cy="697.7" r="2.2" fill="#303030"/>
<text x="521.5" y="701.9" font-size="11" font-weight="bold" text-anchor="start" fill="#2e2e2e" stroke="#2e2e2e" stroke-width="0.08" >B21-</text>
<text x="493.5" y="693.7" font-size="10.4" font-weight="bold" text-anchor="end" fill="#2e2e2e" stroke="#2e2e2e" stroke-width="0.08" >BR/PT</text>
<rect x="366.3" y="710.0" width="4.8" height="4.8" fill="#fff" stroke="#303030" stroke-width="1.1"/>
<text x="363.0" y="716.4" font-size="10.5" font-weight="bold" text-anchor="end" fill="#2e2e2e" stroke="#2e2e2e" stroke-width="0.08" >3</text>
<line x1="373.7" y1="712.4" x2="514.5" y2="712.4" stroke="#303030" stroke-width="3.0"/>
<circle cx="514.5" cy="712.4" r="2.2" fill="#303030"/>
<text x="521.5" y="716.6" font-size="11" font-weight="bold" text-anchor="start" fill="#2e2e2e" stroke="#2e2e2e" stroke-width="0.08" >B62</text>
<text x="493.5" y="708.4" font-size="10.4" font-weight="bold" text-anchor="end" fill="#2e2e2e" stroke="#2e2e2e" stroke-width="0.08" >VM/VI</text>
<rect x="366.3" y="725.1" width="4.8" height="4.8" fill="#fff" stroke="#303030" stroke-width="1.1"/>
<text x="363.0" y="731.5" font-size="10.5" font-weight="bold" text-anchor="end" fill="#2e2e2e" stroke="#2e2e2e" stroke-width="0.08" >5</text>
<line x1="373.7" y1="727.5" x2="514.5" y2="727.5" stroke="#303030" stroke-width="3.0"/>
<circle cx="514.5" cy="727.5" r="2.2" fill="#303030"/>
<text x="521.5" y="731.7" font-size="11" font-weight="bold" text-anchor="start" fill="#2e2e2e" stroke="#2e2e2e" stroke-width="0.08" >B61</text>
<text x="493.5" y="723.5" font-size="10.4" font-weight="bold" text-anchor="end" fill="#2e2e2e" stroke="#2e2e2e" stroke-width="0.08" >PT/VD</text>
<text x="226.0" y="682.6" font-size="14.9" font-weight="bold" text-anchor="end" fill="#2e2e2e" stroke="#2e2e2e" stroke-width="0.2" >Sensor de posição da</text>
<text x="226.0" y="699.6" font-size="14.9" font-weight="bold" text-anchor="end" fill="#2e2e2e" stroke="#2e2e2e" stroke-width="0.2" >borboleta</text>
<text x="226.0" y="728.5" font-size="14.9" font-weight="bold" text-anchor="end" fill="#2e2e2e" stroke="#2e2e2e" stroke-width="0.2" >Acelerador eletrônico</text>
<text x="226.0" y="741.0" font-size="10.5" font-weight="bold" text-anchor="end" fill="#2e2e2e" stroke="#2e2e2e" stroke-width="0.08" >B62 e B61 = 3,3 Ω</text>
<rect x="367.7" y="785.5" width="6.8" height="80.0" fill="#fefae4" stroke="#303030" stroke-width="1.8" rx="0"/>
<rect x="291.5" y="778.6" width="76.2" height="91.9" fill="#fefae4" stroke="#303030" stroke-width="2" rx="0"/>
<polygon points="299.5,823.6 321.8,789.5 343.2,823.6" fill="#b4b4b8" stroke="#303030" stroke-width="1.8"/>
<line x1="323.0" y1="793.8" x2="369.0" y2="793.8" stroke="#303030" stroke-width="3.4"/>
<line x1="332.7" y1="807.7" x2="369.0" y2="807.7" stroke="#303030" stroke-width="1.4"/>
<line x1="332.7" y1="807.7" x2="325.5" y2="811.8" stroke="#303030" stroke-width="1.6"/>
<polyline points="343.2,823.6 350.0,823.6 350.0,832.7" fill="none" stroke="#303030" stroke-width="1.6" stroke-linejoin="miter"/>
<polyline points="369.0,832.7 298.6,832.7 298.6,850.5 306.8,850.5" fill="none" stroke="#303030" stroke-width="1.6" stroke-linejoin="miter"/>
<circle cx="350.0" cy="832.7" r="2" fill="#303030"/>
<line x1="350.9" y1="850.9" x2="369.0" y2="850.9" stroke="#303030" stroke-width="1.4"/>
<rect x="306.8" y="843.8" width="44.1" height="13.0" fill="#b4b4b8" stroke="#303030" stroke-width="1.8" rx="0"/>
<line x1="308.8" y1="862.8" x2="346.9" y2="837.8" stroke="#303030" stroke-width="1.4"/>
<polygon points="348.9,835.8 342.9,837.8 346.9,841.8" fill="#303030"/>
<line x1="315.8" y1="861.8" x2="346.9" y2="861.8" stroke="#303030" stroke-width="1"/>
<line x1="315.8" y1="864.3" x2="346.9" y2="864.3" stroke="#303030" stroke-width="1"/>
<rect x="366.6" y="791.4" width="4.8" height="4.8" fill="#fff" stroke="#303030" stroke-width="1.1"/>
<text x="364.5" y="790.3" font-size="10.5" font-weight="bold" text-anchor="end" fill="#2e2e2e" stroke="#2e2e2e" stroke-width="0.08" >3</text>
<rect x="366.6" y="805.3" width="4.8" height="4.8" fill="#fff" stroke="#303030" stroke-width="1.1"/>
<text x="364.5" y="804.2" font-size="10.5" font-weight="bold" text-anchor="end" fill="#2e2e2e" stroke="#2e2e2e" stroke-width="0.08" >4</text>
<rect x="366.6" y="830.3" width="4.8" height="4.8" fill="#fff" stroke="#303030" stroke-width="1.1"/>
<text x="364.5" y="829.2" font-size="10.5" font-weight="bold" text-anchor="end" fill="#2e2e2e" stroke="#2e2e2e" stroke-width="0.08" >1</text>
<rect x="366.6" y="848.5" width="4.8" height="4.8" fill="#fff" stroke="#303030" stroke-width="1.1"/>
<text x="364.5" y="847.4" font-size="10.5" font-weight="bold" text-anchor="end" fill="#2e2e2e" stroke="#2e2e2e" stroke-width="0.08" >2</text>
<line x1="374.5" y1="793.8" x2="514.5" y2="793.8" stroke="#303030" stroke-width="3.4"/>
<circle cx="514.5" cy="793.8" r="2.2" fill="#303030"/>
<text x="521.5" y="798.0" font-size="11" font-weight="bold" text-anchor="start" fill="#2e2e2e" stroke="#2e2e2e" stroke-width="0.08" >B36+</text>
<text x="493.5" y="789.8" font-size="10.4" font-weight="bold" text-anchor="end" fill="#2e2e2e" stroke="#2e2e2e" stroke-width="0.08" >BR</text>
<line x1="374.5" y1="807.7" x2="519.0" y2="807.7" stroke="#303030" stroke-width="3.4"/>
<ellipse cx="532.8" cy="807.7" rx="14" ry="6.6" fill="#2a2a2a"/>
<text x="532.8" y="811.8" font-size="11" font-weight="bold" text-anchor="middle" fill="#fff" textLength="21" lengthAdjust="spacingAndGlyphs">B18</text>
<text x="493.5" y="803.7" font-size="10.4" font-weight="bold" text-anchor="end" fill="#2e2e2e" stroke="#2e2e2e" stroke-width="0.08" >MR</text>
<line x1="374.5" y1="832.7" x2="514.5" y2="832.7" stroke="#303030" stroke-width="3.4"/>
<circle cx="514.5" cy="832.7" r="2.2" fill="#303030"/>
<text x="521.5" y="836.9" font-size="11" font-weight="bold" text-anchor="start" fill="#2e2e2e" stroke="#2e2e2e" stroke-width="0.08" >B23-</text>
<text x="493.5" y="828.7" font-size="10.4" font-weight="bold" text-anchor="end" fill="#2e2e2e" stroke="#2e2e2e" stroke-width="0.08" >BR</text>
<line x1="374.5" y1="850.9" x2="519.0" y2="850.9" stroke="#303030" stroke-width="3.4"/>
<ellipse cx="532.8" cy="850.9" rx="14" ry="6.6" fill="#2a2a2a"/>
<text x="532.8" y="855.0" font-size="11" font-weight="bold" text-anchor="middle" fill="#fff" textLength="21" lengthAdjust="spacingAndGlyphs">B33</text>
<text x="493.5" y="846.9" font-size="10.4" font-weight="bold" text-anchor="end" fill="#2e2e2e" stroke="#2e2e2e" stroke-width="0.08" >RS/PT</text>
<text x="226.3" y="811.0" font-size="14.9" font-weight="bold" text-anchor="end" fill="#2e2e2e" stroke="#2e2e2e" stroke-width="0.2" >Sensor de pressão absoluta</text>
<text x="226.3" y="853.5" font-size="14.9" font-weight="bold" text-anchor="end" fill="#2e2e2e" stroke="#2e2e2e" stroke-width="0.2" >Sensor de temperatura do ar</text>
<polyline points="551.0,832.7 566.0,832.7 566.0,903.6 551.0,903.6" fill="none" stroke="#303030" stroke-width="1.6" stroke-linejoin="miter"/>
<rect x="367.7" y="893.6" width="6.8" height="36.4" fill="#fefae4" stroke="#303030" stroke-width="1.8" rx="0"/>
<rect x="291.5" y="886.4" width="76.2" height="50.9" fill="#fefae4" stroke="#303030" stroke-width="2" rx="0"/>
<line x1="353.6" y1="903.6" x2="369.0" y2="903.6" stroke="#303030" stroke-width="1.4"/>
<polyline points="369.0,919.5 309.0,919.5 309.0,904.0 316.8,904.0" fill="none" stroke="#303030" stroke-width="1.6" stroke-linejoin="miter"/>
<rect x="316.8" y="895.9" width="36.8" height="12.7" fill="#b4b4b8" stroke="#303030" stroke-width="1.8" rx="0"/>
<line x1="318.8" y1="914.6" x2="349.6" y2="889.9" stroke="#303030" stroke-width="1.4"/>
<polygon points="351.6,887.9 345.6,889.9 349.6,893.9" fill="#303030"/>
<line x1="325.8" y1="913.6" x2="349.6" y2="913.6" stroke="#303030" stroke-width="1"/>
<line x1="325.8" y1="916.1" x2="349.6" y2="916.1" stroke="#303030" stroke-width="1"/>
<rect x="366.6" y="901.2" width="4.8" height="4.8" fill="#fff" stroke="#303030" stroke-width="1.1"/>
<text x="364.5" y="900.0" font-size="10.5" font-weight="bold" text-anchor="end" fill="#2e2e2e" stroke="#2e2e2e" stroke-width="0.08" >1</text>
<rect x="366.6" y="917.1" width="4.8" height="4.8" fill="#fff" stroke="#303030" stroke-width="1.1"/>
<text x="364.5" y="916.0" font-size="10.5" font-weight="bold" text-anchor="end" fill="#2e2e2e" stroke="#2e2e2e" stroke-width="0.08" >2</text>
<line x1="374.5" y1="903.6" x2="514.5" y2="903.6" stroke="#303030" stroke-width="3.4"/>
<circle cx="514.5" cy="903.6" r="2.2" fill="#303030"/>
<text x="521.5" y="907.8" font-size="11" font-weight="bold" text-anchor="start" fill="#2e2e2e" stroke="#2e2e2e" stroke-width="0.08" >B23-</text>
<text x="493.5" y="899.6" font-size="10.4" font-weight="bold" text-anchor="end" fill="#2e2e2e" stroke="#2e2e2e" stroke-width="0.08" >PT/BR</text>
<line x1="374.5" y1="919.5" x2="519.0" y2="919.5" stroke="#303030" stroke-width="3.4"/>
<ellipse cx="532.8" cy="919.5" rx="14" ry="6.6" fill="#2a2a2a"/>
<text x="532.8" y="923.6" font-size="11" font-weight="bold" text-anchor="middle" fill="#fff" textLength="21" lengthAdjust="spacingAndGlyphs">B17</text>
<text x="493.5" y="915.5" font-size="10.4" font-weight="bold" text-anchor="end" fill="#2e2e2e" stroke="#2e2e2e" stroke-width="0.08" >LR/BR</text>
<text x="226.3" y="905.6" font-size="14.9" font-weight="bold" text-anchor="end" fill="#2e2e2e" stroke="#2e2e2e" stroke-width="0.2" >Sensor de temperatura</text>
<text x="226.3" y="923.5" font-size="14.9" font-weight="bold" text-anchor="end" fill="#2e2e2e" stroke="#2e2e2e" stroke-width="0.2" >da água</text>
<text x="226.3" y="936.2" font-size="10.5" font-weight="bold" text-anchor="end" fill="#2e2e2e" stroke="#2e2e2e" stroke-width="0.08" >B23 e B17 = 1232 Ω</text>
<rect x="367.7" y="966.0" width="6.8" height="97.0" fill="#fde0a0" stroke="#303030" stroke-width="1.8" rx="0"/>
<rect x="291.0" y="960.0" width="76.7" height="106.5" fill="#fde0a0" stroke="#303030" stroke-width="2" rx="0"/>
<circle cx="328.8" cy="1013.0" r="11.5" fill="#fff" stroke="#303030" stroke-width="1.8"/>
<line x1="317.3" y1="1013.0" x2="325.8" y2="1013.0" stroke="#303030" stroke-width="2"/>
<rect x="324.5" y="1005.5" width="2.5" height="15.0" fill="#303030"/>
<path d="M326.8,1009.5 L331.8,1006 L331.8,1002.0" fill="none" stroke="#303030" stroke-width="1.6"/>
<path d="M326.8,1016.5 L331.8,1020 L331.8,1024.0" fill="none" stroke="#303030" stroke-width="1.6"/>
<rect x="366.6" y="971.1" width="4.8" height="4.8" fill="#fff" stroke="#303030" stroke-width="1.1"/>
<text x="364.0" y="977.5" font-size="10.5" font-weight="bold" text-anchor="end" fill="#2e2e2e" stroke="#2e2e2e" stroke-width="0.08" >6</text>
<line x1="374.5" y1="973.5" x2="519.0" y2="973.5" stroke="#303030" stroke-width="3.4"/>
<ellipse cx="532.8" cy="973.5" rx="14" ry="6.6" fill="#2a2a2a"/>
<text x="532.8" y="977.6" font-size="11" font-weight="bold" text-anchor="middle" fill="#fff" textLength="21" lengthAdjust="spacingAndGlyphs">A59</text>
<text x="493.5" y="969.5" font-size="10.4" font-weight="bold" text-anchor="end" fill="#2e2e2e" stroke="#2e2e2e" stroke-width="0.08" >CZ/VM</text>
<rect x="366.6" y="991.6" width="4.8" height="4.8" fill="#fff" stroke="#303030" stroke-width="1.1"/>
<text x="364.0" y="998.0" font-size="10.5" font-weight="bold" text-anchor="end" fill="#2e2e2e" stroke="#2e2e2e" stroke-width="0.08" >2</text>
<line x1="374.5" y1="994.0" x2="514.5" y2="994.0" stroke="#303030" stroke-width="3.4"/>
<circle cx="514.5" cy="994.0" r="2.2" fill="#303030"/>
<text x="521.5" y="998.2" font-size="11" font-weight="bold" text-anchor="start" fill="#2e2e2e" stroke="#2e2e2e" stroke-width="0.08" >A36+</text>
<text x="493.5" y="990.0" font-size="10.4" font-weight="bold" text-anchor="end" fill="#2e2e2e" stroke="#2e2e2e" stroke-width="0.08" >AZes/AM</text>
<rect x="366.6" y="1006.6" width="4.8" height="4.8" fill="#fff" stroke="#303030" stroke-width="1.1"/>
<text x="364.0" y="1013.0" font-size="10.5" font-weight="bold" text-anchor="end" fill="#2e2e2e" stroke="#2e2e2e" stroke-width="0.08" >5</text>
<line x1="374.5" y1="1009.0" x2="514.5" y2="1009.0" stroke="#303030" stroke-width="3.4"/>
<circle cx="514.5" cy="1009.0" r="2.2" fill="#303030"/>
<text x="521.5" y="1013.2" font-size="11" font-weight="bold" text-anchor="start" fill="#2e2e2e" stroke="#2e2e2e" stroke-width="0.08" >A23-</text>
<text x="493.5" y="1005.0" font-size="10.4" font-weight="bold" text-anchor="end" fill="#2e2e2e" stroke="#2e2e2e" stroke-width="0.08" >LR/AZcl</text>
<rect x="366.6" y="1024.2" width="4.8" height="4.8" fill="#fff" stroke="#303030" stroke-width="1.1"/>
<text x="364.0" y="1030.6" font-size="10.5" font-weight="bold" text-anchor="end" fill="#2e2e2e" stroke="#2e2e2e" stroke-width="0.08" >1</text>
<line x1="374.5" y1="1026.6" x2="514.5" y2="1026.6" stroke="#303030" stroke-width="3.4"/>
<circle cx="514.5" cy="1026.6" r="2.2" fill="#303030"/>
<text x="521.5" y="1030.8" font-size="11" font-weight="bold" text-anchor="start" fill="#2e2e2e" stroke="#2e2e2e" stroke-width="0.08" >A37+</text>
<text x="493.5" y="1022.6" font-size="10.4" font-weight="bold" text-anchor="end" fill="#2e2e2e" stroke="#2e2e2e" stroke-width="0.08" >AZes/PT</text>
<rect x="366.6" y="1039.6" width="4.8" height="4.8" fill="#fff" stroke="#303030" stroke-width="1.1"/>
<text x="364.0" y="1046.0" font-size="10.5" font-weight="bold" text-anchor="end" fill="#2e2e2e" stroke="#2e2e2e" stroke-width="0.08" >3</text>
<line x1="374.5" y1="1042.0" x2="514.5" y2="1042.0" stroke="#303030" stroke-width="3.4"/>
<circle cx="514.5" cy="1042.0" r="2.2" fill="#303030"/>
<text x="521.5" y="1046.2" font-size="11" font-weight="bold" text-anchor="start" fill="#2e2e2e" stroke="#2e2e2e" stroke-width="0.08" >A58-</text>
<text x="493.5" y="1038.0" font-size="10.4" font-weight="bold" text-anchor="end" fill="#2e2e2e" stroke="#2e2e2e" stroke-width="0.08" >CZ/VD</text>
<rect x="366.6" y="1055.4" width="4.8" height="4.8" fill="#fff" stroke="#303030" stroke-width="1.1"/>
<text x="364.0" y="1061.8" font-size="10.5" font-weight="bold" text-anchor="end" fill="#2e2e2e" stroke="#2e2e2e" stroke-width="0.08" >4</text>
<line x1="374.5" y1="1057.8" x2="519.0" y2="1057.8" stroke="#303030" stroke-width="3.4"/>
<ellipse cx="532.8" cy="1057.8" rx="14" ry="6.6" fill="#2a2a2a"/>
<text x="532.8" y="1061.9" font-size="11" font-weight="bold" text-anchor="middle" fill="#fff" textLength="21" lengthAdjust="spacingAndGlyphs">A22</text>
<text x="493.5" y="1053.8" font-size="10.4" font-weight="bold" text-anchor="end" fill="#2e2e2e" stroke="#2e2e2e" stroke-width="0.08" >RS/BR</text>
<text x="226.3" y="1002.6" font-size="14.9" font-weight="bold" text-anchor="end" fill="#2e2e2e" stroke="#2e2e2e" stroke-width="0.2" >Sensor de posição do</text>
<text x="226.3" y="1019.5" font-size="14.9" font-weight="bold" text-anchor="end" fill="#2e2e2e" stroke="#2e2e2e" stroke-width="0.2" >pedal  acelerador</text>
<rect x="290.6" y="1092.0" width="7.2" height="19.0" fill="#fefae4" stroke="#303030" stroke-width="1.8" rx="0"/>
<rect x="366.6" y="1094.7" width="7.2" height="50.0" fill="#fefae4" stroke="#303030" stroke-width="1.8" rx="0"/>
<rect x="297.8" y="1089.5" width="68.8" height="61.1" fill="#fefae4" stroke="#303030" stroke-width="2" rx="0"/>
<rect x="245.8" y="1095.4" width="34.2" height="13.4" fill="#fff" stroke="#303030" stroke-width="1.8" rx="0"/>
<text x="262.9" y="1106.2" font-size="12" font-weight="bold" text-anchor="middle" fill="#2e2e2e" stroke="#2e2e2e" stroke-width="0.08" >F17</text>
<line x1="280.0" y1="1101.9" x2="291.0" y2="1101.9" stroke="#303030" stroke-width="2.8"/>
<line x1="296.0" y1="1101.9" x2="369.0" y2="1101.9" stroke="#303030" stroke-width="2.6"/>
<rect x="313.8" y="1095.4" width="37.6" height="13.4" fill="#a8a8ac" stroke="#303030" stroke-width="2" rx="0"/>
<polyline points="369.0,1139.3 308.8,1139.3 308.8,1123.7 331.0,1123.7" fill="none" stroke="#303030" stroke-width="1.6" stroke-linejoin="miter"/>
<line x1="338.0" y1="1123.7" x2="369.0" y2="1123.7" stroke="#303030" stroke-width="3.4"/>
<line x1="331.0" y1="1116.0" x2="331.0" y2="1131.0" stroke="#303030" stroke-width="1.2"/>
<line x1="334.0" y1="1118.0" x2="334.0" y2="1130.0" stroke="#303030" stroke-width="2"/>
<line x1="337.5" y1="1117.0" x2="337.5" y2="1130.0" stroke="#303030" stroke-width="2"/>
<line x1="332.0" y1="1130.0" x2="341.0" y2="1115.0" stroke="#303030" stroke-width="1.2"/>
<rect x="293.6" y="1099.5" width="4.8" height="4.8" fill="#fff" stroke="#303030" stroke-width="1.1"/>
<rect x="366.6" y="1099.5" width="4.8" height="4.8" fill="#fff" stroke="#303030" stroke-width="1.1"/>
<rect x="366.6" y="1121.3" width="4.8" height="4.8" fill="#fff" stroke="#303030" stroke-width="1.1"/>
<rect x="366.6" y="1136.9" width="4.8" height="4.8" fill="#fff" stroke="#303030" stroke-width="1.1"/>
<text x="300.5" y="1099.0" font-size="10.5" font-weight="bold" text-anchor="start" fill="#2e2e2e" stroke="#2e2e2e" stroke-width="0.08" >4</text>
<text x="364.0" y="1099.0" font-size="10.5" font-weight="bold" text-anchor="end" fill="#2e2e2e" stroke="#2e2e2e" stroke-width="0.08" >3</text>
<text x="364.0" y="1120.5" font-size="10.5" font-weight="bold" text-anchor="end" fill="#2e2e2e" stroke="#2e2e2e" stroke-width="0.08" >2</text>
<text x="362.0" y="1136.0" font-size="10.5" font-weight="bold" text-anchor="end" fill="#2e2e2e" stroke="#2e2e2e" stroke-width="0.08" >1</text>
<line x1="373.8" y1="1101.9" x2="514.5" y2="1101.9" stroke="#303030" stroke-width="3.4"/>
<circle cx="514.5" cy="1101.9" r="2.2" fill="#303030"/>
<text x="521.5" y="1106.1" font-size="11" font-weight="bold" text-anchor="start" fill="#2e2e2e" stroke="#2e2e2e" stroke-width="0.08" >A05</text>
<text x="493.5" y="1097.9" font-size="10.4" font-weight="bold" text-anchor="end" fill="#2e2e2e" stroke="#2e2e2e" stroke-width="0.08" >PT</text>
<line x1="373.8" y1="1123.7" x2="519.0" y2="1123.7" stroke="#303030" stroke-width="3.4"/>
<ellipse cx="532.8" cy="1123.7" rx="14" ry="6.6" fill="#2a2a2a"/>
<text x="532.8" y="1127.8" font-size="11" font-weight="bold" text-anchor="middle" fill="#fff" textLength="21" lengthAdjust="spacingAndGlyphs">A45</text>
<text x="493.5" y="1119.7" font-size="10.4" font-weight="bold" text-anchor="end" fill="#2e2e2e" stroke="#2e2e2e" stroke-width="0.08" >VI</text>
<line x1="373.8" y1="1139.3" x2="514.5" y2="1139.3" stroke="#303030" stroke-width="3.4"/>
<circle cx="514.5" cy="1139.3" r="2.2" fill="#303030"/>
<text x="521.5" y="1143.5" font-size="11" font-weight="bold" text-anchor="start" fill="#2e2e2e" stroke="#2e2e2e" stroke-width="0.08" >A61</text>
<text x="493.5" y="1135.3" font-size="10.4" font-weight="bold" text-anchor="end" fill="#2e2e2e" stroke="#2e2e2e" stroke-width="0.08" >AM</text>
<text x="226.3" y="1117.3" font-size="14.9" font-weight="bold" text-anchor="end" fill="#2e2e2e" stroke="#2e2e2e" stroke-width="0.2" >Sonda lambda aquecida</text>
<text x="226.3" y="1134.7" font-size="14.9" font-weight="bold" text-anchor="end" fill="#2e2e2e" stroke="#2e2e2e" stroke-width="0.2" >pré catalisador</text>
<text x="226.3" y="1148.0" font-size="10.5" font-weight="normal" text-anchor="end" fill="#2e2e2e"  >A05 e F11 = 6,1 Ω</text>
<rect x="290.6" y="1181.5" width="7.2" height="19.0" fill="#fefae4" stroke="#303030" stroke-width="1.8" rx="0"/>
<rect x="366.6" y="1184.2" width="7.2" height="50.0" fill="#fefae4" stroke="#303030" stroke-width="1.8" rx="0"/>
<rect x="297.8" y="1179.0" width="68.8" height="61.1" fill="#fefae4" stroke="#303030" stroke-width="2" rx="0"/>
<rect x="245.8" y="1184.9" width="34.2" height="13.4" fill="#fff" stroke="#303030" stroke-width="1.8" rx="0"/>
<text x="262.9" y="1195.7" font-size="12" font-weight="bold" text-anchor="middle" fill="#2e2e2e" stroke="#2e2e2e" stroke-width="0.08" >F17</text>
<line x1="280.0" y1="1191.4" x2="291.0" y2="1191.4" stroke="#303030" stroke-width="2.8"/>
<line x1="296.0" y1="1191.4" x2="369.0" y2="1191.4" stroke="#303030" stroke-width="2.6"/>
<rect x="313.8" y="1184.9" width="37.6" height="13.4" fill="#a8a8ac" stroke="#303030" stroke-width="2" rx="0"/>
<polyline points="369.0,1228.8 308.8,1228.8 308.8,1213.2 331.0,1213.2" fill="none" stroke="#303030" stroke-width="1.6" stroke-linejoin="miter"/>
<line x1="338.0" y1="1213.2" x2="369.0" y2="1213.2" stroke="#303030" stroke-width="3.4"/>
<line x1="331.0" y1="1205.5" x2="331.0" y2="1220.5" stroke="#303030" stroke-width="1.2"/>
<line x1="334.0" y1="1207.5" x2="334.0" y2="1219.5" stroke="#303030" stroke-width="2"/>
<line x1="337.5" y1="1206.5" x2="337.5" y2="1219.5" stroke="#303030" stroke-width="2"/>
<line x1="332.0" y1="1219.5" x2="341.0" y2="1204.5" stroke="#303030" stroke-width="1.2"/>
<rect x="293.6" y="1189.0" width="4.8" height="4.8" fill="#fff" stroke="#303030" stroke-width="1.1"/>
<rect x="366.6" y="1189.0" width="4.8" height="4.8" fill="#fff" stroke="#303030" stroke-width="1.1"/>
<rect x="366.6" y="1210.8" width="4.8" height="4.8" fill="#fff" stroke="#303030" stroke-width="1.1"/>
<rect x="366.6" y="1226.4" width="4.8" height="4.8" fill="#fff" stroke="#303030" stroke-width="1.1"/>
<text x="300.5" y="1188.5" font-size="10.5" font-weight="bold" text-anchor="start" fill="#2e2e2e" stroke="#2e2e2e" stroke-width="0.08" >4</text>
<text x="364.0" y="1188.5" font-size="10.5" font-weight="bold" text-anchor="end" fill="#2e2e2e" stroke="#2e2e2e" stroke-width="0.08" >3</text>
<text x="364.0" y="1210.0" font-size="10.5" font-weight="bold" text-anchor="end" fill="#2e2e2e" stroke="#2e2e2e" stroke-width="0.08" >2</text>
<text x="362.0" y="1225.5" font-size="10.5" font-weight="bold" text-anchor="end" fill="#2e2e2e" stroke="#2e2e2e" stroke-width="0.08" >1</text>
<line x1="373.8" y1="1191.4" x2="514.5" y2="1191.4" stroke="#303030" stroke-width="3.4"/>
<circle cx="514.5" cy="1191.4" r="2.2" fill="#303030"/>
<text x="521.5" y="1195.6" font-size="11" font-weight="bold" text-anchor="start" fill="#2e2e2e" stroke="#2e2e2e" stroke-width="0.08" >A04</text>
<text x="493.5" y="1187.4" font-size="10.4" font-weight="bold" text-anchor="end" fill="#2e2e2e" stroke="#2e2e2e" stroke-width="0.08" >AZcl/VM</text>
<line x1="373.8" y1="1213.2" x2="519.0" y2="1213.2" stroke="#303030" stroke-width="3.4"/>
<ellipse cx="532.8" cy="1213.2" rx="14" ry="6.6" fill="#2a2a2a"/>
<text x="532.8" y="1217.3" font-size="11" font-weight="bold" text-anchor="middle" fill="#fff" textLength="21" lengthAdjust="spacingAndGlyphs">A46</text>
<text x="493.5" y="1209.2" font-size="10.4" font-weight="bold" text-anchor="end" fill="#2e2e2e" stroke="#2e2e2e" stroke-width="0.08" >VD</text>
<line x1="373.8" y1="1228.8" x2="514.5" y2="1228.8" stroke="#303030" stroke-width="3.4"/>
<circle cx="514.5" cy="1228.8" r="2.2" fill="#303030"/>
<text x="521.5" y="1233.0" font-size="11" font-weight="bold" text-anchor="start" fill="#2e2e2e" stroke="#2e2e2e" stroke-width="0.08" >A62</text>
<text x="493.5" y="1224.8" font-size="10.4" font-weight="bold" text-anchor="end" fill="#2e2e2e" stroke="#2e2e2e" stroke-width="0.08" >CZ/PT</text>
<text x="226.3" y="1206.8" font-size="14.9" font-weight="bold" text-anchor="end" fill="#2e2e2e" stroke="#2e2e2e" stroke-width="0.2" >Sonda lambda aquecida</text>
<text x="226.3" y="1224.2" font-size="14.9" font-weight="bold" text-anchor="end" fill="#2e2e2e" stroke="#2e2e2e" stroke-width="0.2" >pós catalisador</text>
<text x="226.3" y="1237.5" font-size="10.5" font-weight="normal" text-anchor="end" fill="#2e2e2e"  >A04 e F11 = 6,1 Ω</text>
<rect x="366.5" y="1277.7" width="7.8" height="32.6" fill="#fefae4" stroke="#303030" stroke-width="1.8" rx="0"/>
<rect x="297.7" y="1268.5" width="68.8" height="47.7" fill="#fefae4" stroke="#303030" stroke-width="2" rx="0"/>
<polyline points="369.0,1284.7 332.7,1284.7 332.7,1288.3" fill="none" stroke="#303030" stroke-width="1.5" stroke-linejoin="miter"/>
<polyline points="369.0,1301.2 332.7,1301.2 332.7,1297.5" fill="none" stroke="#303030" stroke-width="1.5" stroke-linejoin="miter"/>
<line x1="324.0" y1="1288.3" x2="342.0" y2="1288.3" stroke="#303030" stroke-width="1.2"/>
<line x1="324.0" y1="1297.5" x2="342.0" y2="1297.5" stroke="#303030" stroke-width="1.2"/>
<rect x="325.3" y="1290.2" width="16.5" height="4.4" fill="#fff" stroke="#303030" stroke-width="1.2" rx="0"/>
<rect x="366.6" y="1281.1" width="4.8" height="4.8" fill="#fff" stroke="#303030" stroke-width="1.1"/>
<rect x="366.6" y="1299.6" width="4.8" height="4.8" fill="#fff" stroke="#303030" stroke-width="1.1"/>
<text x="362.0" y="1281.0" font-size="10.5" font-weight="bold" text-anchor="end" fill="#2e2e2e" stroke="#2e2e2e" stroke-width="0.08" >1</text>
<text x="362.0" y="1296.0" font-size="10.5" font-weight="bold" text-anchor="end" fill="#2e2e2e" stroke="#2e2e2e" stroke-width="0.08" >2</text>
<line x1="374.3" y1="1284.0" x2="501.0" y2="1284.0" stroke="#303030" stroke-width="5.0"/>
<line x1="501.0" y1="1284.0" x2="514.5" y2="1284.0" stroke="#303030" stroke-width="2.8"/>
<line x1="374.3" y1="1302.0" x2="501.0" y2="1302.0" stroke="#303030" stroke-width="5.0"/>
<line x1="501.0" y1="1302.0" x2="514.5" y2="1302.0" stroke="#303030" stroke-width="2.8"/>
<circle cx="514.5" cy="1284.0" r="2.2" fill="#303030"/>
<text x="521.5" y="1288.2" font-size="11" font-weight="bold" text-anchor="start" fill="#2e2e2e" stroke="#2e2e2e" stroke-width="0.08" >B09</text>
<text x="493.5" y="1280.0" font-size="10.4" font-weight="bold" text-anchor="end" fill="#2e2e2e" stroke="#2e2e2e" stroke-width="0.08" >BR</text>
<circle cx="514.5" cy="1302.0" r="2.2" fill="#303030"/>
<text x="521.5" y="1306.2" font-size="11" font-weight="bold" text-anchor="start" fill="#2e2e2e" stroke="#2e2e2e" stroke-width="0.08" >B26</text>
<text x="493.5" y="1298.0" font-size="10.4" font-weight="bold" text-anchor="end" fill="#2e2e2e" stroke="#2e2e2e" stroke-width="0.08" >VM</text>
<polyline points="448.2,1302.0 448.2,1323.7" fill="none" stroke="#303030" stroke-width="2" stroke-linejoin="miter"/>
<line x1="448.2" y1="1323.7" x2="514.5" y2="1323.7" stroke="#303030" stroke-width="3.8"/>
<circle cx="514.5" cy="1323.7" r="2.2" fill="#303030"/>
<text x="521.5" y="1327.9" font-size="11" font-weight="bold" text-anchor="start" fill="#2e2e2e" stroke="#2e2e2e" stroke-width="0.08" >B08</text>
<text x="493.5" y="1319.7" font-size="10.4" font-weight="bold" text-anchor="end" fill="#2e2e2e" stroke="#2e2e2e" stroke-width="0.08" >PT</text>
<text x="226.3" y="1295.6" font-size="14.9" font-weight="bold" text-anchor="end" fill="#2e2e2e" stroke="#2e2e2e" stroke-width="0.2" >Sensor de detonação</text>
<text x="226.3" y="1308.0" font-size="10.5" font-weight="normal" text-anchor="end" fill="#2e2e2e"  >B09 e B26 = 562 kΩ</text>
<rect x="340.7" y="1371.4" width="7.5" height="34.2" fill="#fefae4" stroke="#303030" stroke-width="1.8" rx="0"/>
<rect x="415.5" y="1360.5" width="7.8" height="48.1" fill="#fefae4" stroke="#303030" stroke-width="1.8" rx="0"/>
<rect x="348.2" y="1354.5" width="67.3" height="61.5" fill="#fefae4" stroke="#303030" stroke-width="2" rx="0"/>
<rect x="294.8" y="1370.5" width="34.6" height="13.3" fill="#fff" stroke="#303030" stroke-width="1.8" rx="0"/>
<text x="312.1" y="1381.2" font-size="12" font-weight="bold" text-anchor="middle" fill="#2e2e2e" stroke="#2e2e2e" stroke-width="0.08" >F108</text>
<rect x="294.8" y="1393.2" width="34.6" height="13.6" fill="#fff" stroke="#303030" stroke-width="1.8" rx="0"/>
<text x="312.1" y="1404.1" font-size="12" font-weight="bold" text-anchor="middle" fill="#2e2e2e" stroke="#2e2e2e" stroke-width="0.08" >F110</text>
<line x1="329.4" y1="1377.5" x2="341.0" y2="1377.5" stroke="#303030" stroke-width="3.0"/>
<line x1="329.4" y1="1400.2" x2="341.0" y2="1400.2" stroke="#303030" stroke-width="3.0"/>
<line x1="345.0" y1="1377.5" x2="371.0" y2="1377.5" stroke="#303030" stroke-width="2"/>
<line x1="345.0" y1="1400.2" x2="371.0" y2="1400.2" stroke="#303030" stroke-width="2"/>
<line x1="395.5" y1="1369.6" x2="418.0" y2="1369.6" stroke="#303030" stroke-width="1.8"/>
<line x1="395.5" y1="1400.2" x2="418.0" y2="1400.2" stroke="#303030" stroke-width="2"/>
<circle cx="373.6" cy="1377.5" r="2.5" fill="#fefae4" stroke="#303030" stroke-width="1.6"/>
<circle cx="392.8" cy="1369.6" r="2.5" fill="#fefae4" stroke="#303030" stroke-width="1.6"/>
<circle cx="373.6" cy="1400.2" r="2.5" fill="#fefae4" stroke="#303030" stroke-width="1.6"/>
<circle cx="392.8" cy="1400.2" r="2.5" fill="#fefae4" stroke="#303030" stroke-width="1.6"/>
<line x1="375.5" y1="1376.0" x2="390.5" y2="1370.5" stroke="#303030" stroke-width="1.5"/>
<line x1="375.5" y1="1398.5" x2="390.0" y2="1391.4" stroke="#303030" stroke-width="1.5"/>
<line x1="384.0" y1="1372.5" x2="384.0" y2="1394.5" stroke="#303030" stroke-width="1.3"/>
<rect x="342.6" y="1375.1" width="4.8" height="4.8" fill="#fff" stroke="#303030" stroke-width="1.1"/>
<rect x="342.6" y="1397.8" width="4.8" height="4.8" fill="#fff" stroke="#303030" stroke-width="1.1"/>
<rect x="416.1" y="1367.2" width="4.8" height="4.8" fill="#fff" stroke="#303030" stroke-width="1.1"/>
<rect x="416.1" y="1397.8" width="4.8" height="4.8" fill="#fff" stroke="#303030" stroke-width="1.1"/>
<text x="352.0" y="1374.0" font-size="10.5" font-weight="bold" text-anchor="start" fill="#2e2e2e" stroke="#2e2e2e" stroke-width="0.08" >3</text>
<text x="352.0" y="1395.0" font-size="10.5" font-weight="bold" text-anchor="start" fill="#2e2e2e" stroke="#2e2e2e" stroke-width="0.08" >4</text>
<text x="412.0" y="1365.0" font-size="10.5" font-weight="bold" text-anchor="end" fill="#2e2e2e" stroke="#2e2e2e" stroke-width="0.08" >1</text>
<text x="412.0" y="1396.0" font-size="10.5" font-weight="bold" text-anchor="end" fill="#2e2e2e" stroke="#2e2e2e" stroke-width="0.08" >2</text>
<line x1="423.3" y1="1369.6" x2="519.0" y2="1369.6" stroke="#303030" stroke-width="3.4"/>
<ellipse cx="532.8" cy="1369.6" rx="14" ry="6.6" fill="#2a2a2a"/>
<text x="532.8" y="1373.7" font-size="11" font-weight="bold" text-anchor="middle" fill="#fff" textLength="21" lengthAdjust="spacingAndGlyphs">A44</text>
<text x="493.5" y="1365.6" font-size="10.4" font-weight="bold" text-anchor="end" fill="#2e2e2e" stroke="#2e2e2e" stroke-width="0.08" >LR/BR</text>
<line x1="423.3" y1="1400.2" x2="519.0" y2="1400.2" stroke="#303030" stroke-width="3.4"/>
<ellipse cx="532.8" cy="1400.2" rx="14" ry="6.6" fill="#2a2a2a"/>
<text x="532.8" y="1404.3" font-size="11" font-weight="bold" text-anchor="middle" fill="#fff" textLength="21" lengthAdjust="spacingAndGlyphs">A31</text>
<text x="493.5" y="1396.2" font-size="10.4" font-weight="bold" text-anchor="end" fill="#2e2e2e" stroke="#2e2e2e" stroke-width="0.08" >LR/PT</text>
<text x="276.9" y="1365.0" font-size="14.9" font-weight="bold" text-anchor="end" fill="#2e2e2e" stroke="#2e2e2e" stroke-width="0.2" >Interruptor do pedal de freio</text>
<text x="276.9" y="1377.3" font-size="10.5" font-weight="bold" text-anchor="end" fill="#2e2e2e" stroke="#2e2e2e" stroke-width="0.08" >A31 e massa = 0V pedal solto</text>
<text x="276.9" y="1389.0" font-size="10.5" font-weight="bold" text-anchor="end" fill="#2e2e2e" stroke="#2e2e2e" stroke-width="0.08" >A31 e massa = Vbat pedal acionado</text>
<text x="276.9" y="1400.8" font-size="10.5" font-weight="bold" text-anchor="end" fill="#2e2e2e" stroke="#2e2e2e" stroke-width="0.08" >A44 e massa = Vbat pedal solto</text>
<text x="276.9" y="1413.0" font-size="10.5" font-weight="bold" text-anchor="end" fill="#2e2e2e" stroke="#2e2e2e" stroke-width="0.08" >A44 e massa = 0V pedal acionado</text>
<rect x="341.0" y="1464.4" width="7.2" height="18.0" fill="#fefae4" stroke="#303030" stroke-width="1.8" rx="0"/>
<rect x="415.5" y="1464.4" width="7.5" height="18.0" fill="#fefae4" stroke="#303030" stroke-width="1.8" rx="0"/>
<rect x="348.2" y="1456.6" width="67.3" height="33.2" fill="#fefae4" stroke="#303030" stroke-width="2" rx="0"/>
<rect x="309.1" y="1463.8" width="1.8" height="19.2" fill="#303030"/>
<rect x="306.4" y="1466.9" width="1.4" height="13.0" fill="#303030"/>
<rect x="303.5" y="1468.4" width="1.4" height="10.0" fill="#303030"/>
<rect x="300.6" y="1469.9" width="1.4" height="7.0" fill="#303030"/>
<rect x="297.7" y="1471.4" width="1.4" height="4.0" fill="#303030"/>
<line x1="310.0" y1="1473.4" x2="345.0" y2="1473.4" stroke="#303030" stroke-width="3.0"/>
<line x1="345.0" y1="1473.4" x2="371.0" y2="1473.4" stroke="#303030" stroke-width="2"/>
<circle cx="373.5" cy="1473.4" r="2.5" fill="#fefae4" stroke="#303030" stroke-width="1.6"/>
<circle cx="392.0" cy="1473.4" r="2.5" fill="#fefae4" stroke="#303030" stroke-width="1.6"/>
<line x1="375.5" y1="1471.9" x2="390.0" y2="1463.4" stroke="#303030" stroke-width="1.5"/>
<polygon points="391,1462.9 385.5,1463.4 388,1466.9" fill="#303030"/>
<line x1="394.5" y1="1473.4" x2="420.0" y2="1473.4" stroke="#303030" stroke-width="2"/>
<rect x="342.6" y="1471.0" width="4.8" height="4.8" fill="#fff" stroke="#303030" stroke-width="1.1"/>
<rect x="416.6" y="1471.0" width="4.8" height="4.8" fill="#fff" stroke="#303030" stroke-width="1.1"/>
<text x="352.0" y="1469.4" font-size="10.5" font-weight="bold" text-anchor="start" fill="#2e2e2e" stroke="#2e2e2e" stroke-width="0.08" >1</text>
<text x="411.0" y="1469.4" font-size="10.5" font-weight="bold" text-anchor="end" fill="#2e2e2e" stroke="#2e2e2e" stroke-width="0.08" >2</text>
<line x1="423.0" y1="1473.4" x2="519.0" y2="1473.4" stroke="#303030" stroke-width="3.4"/>
<ellipse cx="532.8" cy="1473.4" rx="14" ry="6.6" fill="#2a2a2a"/>
<text x="532.8" y="1477.5" font-size="11" font-weight="bold" text-anchor="middle" fill="#fff" textLength="21" lengthAdjust="spacingAndGlyphs">A09</text>
<text x="493.5" y="1469.4" font-size="10.4" font-weight="bold" text-anchor="end" fill="#2e2e2e" stroke="#2e2e2e" stroke-width="0.08" >AZes/BR</text>
<text x="274.3" y="1453.0" font-size="14.9" font-weight="bold" text-anchor="end" fill="#2e2e2e" stroke="#2e2e2e" stroke-width="0.2" >Interruptor do pedal de</text>
<text x="274.3" y="1469.8" font-size="14.9" font-weight="bold" text-anchor="end" fill="#2e2e2e" stroke="#2e2e2e" stroke-width="0.2" >embreagem</text>
<rect x="341.0" y="1516.5" width="7.2" height="18.0" fill="#fefae4" stroke="#303030" stroke-width="1.8" rx="0"/>
<rect x="415.5" y="1516.5" width="7.5" height="18.0" fill="#fefae4" stroke="#303030" stroke-width="1.8" rx="0"/>
<rect x="348.2" y="1509.0" width="67.3" height="32.0" fill="#fefae4" stroke="#303030" stroke-width="2" rx="0"/>
<rect x="309.1" y="1515.9" width="1.8" height="19.2" fill="#303030"/>
<rect x="306.4" y="1519.0" width="1.4" height="13.0" fill="#303030"/>
<rect x="303.5" y="1520.5" width="1.4" height="10.0" fill="#303030"/>
<rect x="300.6" y="1522.0" width="1.4" height="7.0" fill="#303030"/>
<rect x="297.7" y="1523.5" width="1.4" height="4.0" fill="#303030"/>
<line x1="310.0" y1="1525.5" x2="345.0" y2="1525.5" stroke="#303030" stroke-width="3.0"/>
<line x1="345.0" y1="1525.5" x2="371.0" y2="1525.5" stroke="#303030" stroke-width="2"/>
<circle cx="373.5" cy="1525.5" r="2.5" fill="#fefae4" stroke="#303030" stroke-width="1.6"/>
<circle cx="392.0" cy="1525.5" r="2.5" fill="#fefae4" stroke="#303030" stroke-width="1.6"/>
<line x1="375.5" y1="1524.0" x2="390.0" y2="1515.5" stroke="#303030" stroke-width="1.5"/>
<polygon points="391,1515.0 385.5,1515.5 388,1519.0" fill="#303030"/>
<line x1="394.5" y1="1525.5" x2="420.0" y2="1525.5" stroke="#303030" stroke-width="2"/>
<rect x="342.6" y="1523.1" width="4.8" height="4.8" fill="#fff" stroke="#303030" stroke-width="1.1"/>
<rect x="416.6" y="1523.1" width="4.8" height="4.8" fill="#fff" stroke="#303030" stroke-width="1.1"/>
<text x="411.0" y="1521.5" font-size="10.5" font-weight="bold" text-anchor="end" fill="#2e2e2e" stroke="#2e2e2e" stroke-width="0.08" >1</text>
<line x1="423.0" y1="1525.5" x2="519.0" y2="1525.5" stroke="#303030" stroke-width="3.4"/>
<ellipse cx="532.8" cy="1525.5" rx="14" ry="6.6" fill="#2a2a2a"/>
<text x="532.8" y="1529.6" font-size="11" font-weight="bold" text-anchor="middle" fill="#fff" textLength="21" lengthAdjust="spacingAndGlyphs">A43</text>
<text x="493.5" y="1521.5" font-size="10.4" font-weight="bold" text-anchor="end" fill="#2e2e2e" stroke="#2e2e2e" stroke-width="0.08" >CZ/BR</text>
<text x="274.3" y="1522.0" font-size="14.9" font-weight="bold" text-anchor="end" fill="#2e2e2e" stroke="#2e2e2e" stroke-width="0.2" >Interruptor de pressão</text>
<text x="274.3" y="1538.8" font-size="14.9" font-weight="bold" text-anchor="end" fill="#2e2e2e" stroke="#2e2e2e" stroke-width="0.2" >do óleo do motor</text>
<text x="274.3" y="1482.6" font-size="10.5" font-weight="bold" text-anchor="end" fill="#2e2e2e" stroke="#2e2e2e" stroke-width="0.08" >A09 e massa = OL pedal solto</text>
<text x="274.3" y="1494.9" font-size="10.5" font-weight="bold" text-anchor="end" fill="#2e2e2e" stroke="#2e2e2e" stroke-width="0.08" >A09 e massa = 0Ω pedal acionado</text>
<rect x="291.5" y="1577.6" width="6.3" height="42.4" fill="#fcf3a6" stroke="#303030" stroke-width="1.8" rx="0"/>
<rect x="366.8" y="1578.4" width="6.5" height="45.9" fill="#fcf3a6" stroke="#303030" stroke-width="1.8" rx="0"/>
<rect x="297.8" y="1573.0" width="69.0" height="53.7" fill="#fcf3a6" stroke="#303030" stroke-width="2" rx="0"/>
<text x="301.3" y="1583.9" font-size="10" font-weight="bold" text-anchor="start" fill="#2e2e2e" stroke="#2e2e2e" stroke-width="0.08" >86</text>
<text x="363.3" y="1583.9" font-size="10" font-weight="bold" text-anchor="end" fill="#2e2e2e" stroke="#2e2e2e" stroke-width="0.08" >85</text>
<text x="301.3" y="1622.3" font-size="10" font-weight="bold" text-anchor="start" fill="#2e2e2e" stroke="#2e2e2e" stroke-width="0.08" >30</text>
<text x="363.3" y="1622.3" font-size="10" font-weight="bold" text-anchor="end" fill="#2e2e2e" stroke="#2e2e2e" stroke-width="0.08" >87</text>
<line x1="294.6" y1="1588.4" x2="309.3" y2="1588.4" stroke="#303030" stroke-width="1.6"/>
<path d="M309.3,1588.4 C309.3,1598.4 321.1,1598.4 321.1,1588.4 C321.1,1598.4 332.8,1598.4 332.8,1588.4 C332.8,1598.4 344.6,1598.4 344.6,1588.4 C344.6,1598.4 356.3,1598.4 356.3,1588.4 " fill="none" stroke="#303030" stroke-width="2.3"/>
<line x1="356.3" y1="1588.4" x2="370.1" y2="1588.4" stroke="#303030" stroke-width="1.6"/>
<rect x="313.8" y="1597.1" width="37.0" height="6.4" fill="#333"/>
<line x1="294.6" y1="1611.3" x2="325.8" y2="1611.3" stroke="#303030" stroke-width="3.1999999999999997"/>
<line x1="337.3" y1="1611.3" x2="370.1" y2="1611.3" stroke="#303030" stroke-width="3.1999999999999997"/>
<line x1="337.3" y1="1611.3" x2="325.3" y2="1622.3" stroke="#303030" stroke-width="1.6"/>
<polygon points="324.3,1623.3 325.8,1617.8 329.8,1621.3" fill="#303030"/>
<rect x="292.2" y="1586.0" width="4.8" height="4.8" fill="#fff" stroke="#303030" stroke-width="1.1"/>
<rect x="367.7" y="1586.0" width="4.8" height="4.8" fill="#fff" stroke="#303030" stroke-width="1.1"/>
<rect x="292.2" y="1608.9" width="4.8" height="4.8" fill="#fff" stroke="#303030" stroke-width="1.1"/>
<rect x="367.7" y="1608.9" width="4.8" height="4.8" fill="#fff" stroke="#303030" stroke-width="1.1"/>
<rect x="246.7" y="1582.0" width="33.3" height="12.5" fill="#fff" stroke="#303030" stroke-width="1.8" rx="0"/>
<text x="263.4" y="1592.3" font-size="12" font-weight="bold" text-anchor="middle" fill="#2e2e2e" stroke="#2e2e2e" stroke-width="0.08" >F87</text>
<rect x="246.7" y="1605.0" width="33.3" height="12.5" fill="#fff" stroke="#303030" stroke-width="1.8" rx="0"/>
<text x="263.4" y="1615.3" font-size="12" font-weight="bold" text-anchor="middle" fill="#2e2e2e" stroke="#2e2e2e" stroke-width="0.08" >F14</text>
<line x1="280.0" y1="1588.4" x2="291.0" y2="1588.4" stroke="#303030" stroke-width="2.8"/>
<line x1="280.0" y1="1611.3" x2="291.0" y2="1611.3" stroke="#303030" stroke-width="2.8"/>
<line x1="373.5" y1="1588.4" x2="514.5" y2="1588.4" stroke="#303030" stroke-width="3.4"/>
<circle cx="514.5" cy="1588.4" r="2.2" fill="#303030"/>
<text x="521.5" y="1592.6" font-size="11" font-weight="bold" text-anchor="start" fill="#2e2e2e" stroke="#2e2e2e" stroke-width="0.08" >A24</text>
<text x="493.5" y="1584.4" font-size="10.4" font-weight="bold" text-anchor="end" fill="#2e2e2e" stroke="#2e2e2e" stroke-width="0.08" >MR/BR</text>
<polyline points="373.5,1611.3 411.0,1611.3 411.0,1713.0 373.5,1713.0" fill="none" stroke="#303030" stroke-width="1.8" stroke-linejoin="miter"/>
<line x1="373.5" y1="1713.0" x2="411.0" y2="1713.0" stroke="#303030" stroke-width="3.0"/>
<text x="228.3" y="1603.7" font-size="14.9" font-weight="bold" text-anchor="end" fill="#2e2e2e" stroke="#2e2e2e" stroke-width="0.2" >T14 - Relé de partida frio</text>
<text x="228.3" y="1617.5" font-size="10.5" font-weight="normal" text-anchor="end" fill="#2e2e2e"  >A24 e A17 = 80,4 Ω</text>
<rect x="291.0" y="1656.0" width="6.8" height="18.0" fill="#fcf3a6" stroke="#303030" stroke-width="1.8" rx="0"/>
<rect x="366.8" y="1656.0" width="6.7" height="18.0" fill="#fcf3a6" stroke="#303030" stroke-width="1.8" rx="0"/>
<rect x="297.8" y="1648.6" width="69.0" height="32.7" fill="#fcf3a6" stroke="#303030" stroke-width="2" rx="0"/>
<line x1="297.8" y1="1665.0" x2="312.6" y2="1665.0" stroke="#303030" stroke-width="1.6"/>
<line x1="351.4" y1="1665.0" x2="366.8" y2="1665.0" stroke="#303030" stroke-width="1.6"/>
<rect x="312.3" y="1656.5" width="39.0" height="17.1" fill="#6e6e6e" stroke="#303030" stroke-width="1.8" rx="0"/>
<circle cx="332.0" cy="1665.0" r="8" fill="#fff" stroke="#303030" stroke-width="1.6"/>
<text x="332.0" y="1669.8" font-size="13" font-weight="bold" text-anchor="middle" fill="#2e2e2e" stroke="#2e2e2e" stroke-width="0.2" >B</text>
<rect x="292.1" y="1662.6" width="4.8" height="4.8" fill="#fff" stroke="#303030" stroke-width="1.1"/>
<rect x="367.6" y="1662.6" width="4.8" height="4.8" fill="#fff" stroke="#303030" stroke-width="1.1"/>
<rect x="253.3" y="1655.0" width="2.4" height="20.0" fill="#303030"/>
<polygon points="254.5,1657.0 248.0,1662.2 241.0,1662.2 241.0,1667.8 248.0,1667.8 254.5,1673.0" fill="#303030"/>
<line x1="254.5" y1="1665.0" x2="291.0" y2="1665.0" stroke="#303030" stroke-width="3.0"/>
<line x1="373.5" y1="1665.0" x2="411.0" y2="1665.0" stroke="#303030" stroke-width="1.8"/>
<circle cx="411.0" cy="1665.0" r="2" fill="#303030"/>
<rect x="291.0" y="1703.0" width="6.8" height="18.0" fill="#fcf3a6" stroke="#303030" stroke-width="1.8" rx="0"/>
<rect x="366.8" y="1703.0" width="6.7" height="18.0" fill="#fcf3a6" stroke="#303030" stroke-width="1.8" rx="0"/>
<rect x="297.8" y="1695.6" width="69.0" height="30.7" fill="#fcf3a6" stroke="#303030" stroke-width="2" rx="0"/>
<line x1="297.8" y1="1713.0" x2="309.0" y2="1713.0" stroke="#303030" stroke-width="2.6"/>
<path d="M309.0,1713.0 C309.0,1704.0 321.5,1704.0 321.5,1713.0 C321.5,1704.0 334.0,1704.0 334.0,1713.0 C334.0,1704.0 346.5,1704.0 346.5,1713.0 C346.5,1704.0 359.0,1704.0 359.0,1713.0 " fill="none" stroke="#303030" stroke-width="2.4"/>
<line x1="359.0" y1="1713.0" x2="366.8" y2="1713.0" stroke="#303030" stroke-width="2.6"/>
<rect x="315.5" y="1700.5" width="35.8" height="3.5" fill="#333"/>
<rect x="292.1" y="1710.6" width="4.8" height="4.8" fill="#fff" stroke="#303030" stroke-width="1.1"/>
<rect x="367.6" y="1710.6" width="4.8" height="4.8" fill="#fff" stroke="#303030" stroke-width="1.1"/>
<rect x="253.3" y="1703.0" width="2.4" height="20.0" fill="#303030"/>
<polygon points="254.5,1705.0 248.0,1710.2 241.0,1710.2 241.0,1715.8 248.0,1715.8 254.5,1721.0" fill="#303030"/>
<line x1="254.5" y1="1713.0" x2="291.0" y2="1713.0" stroke="#303030" stroke-width="3.0"/>
<text x="228.3" y="1647.0" font-size="14.9" font-weight="bold" text-anchor="end" fill="#2e2e2e" stroke="#2e2e2e" stroke-width="0.2" >Motor da partida a frio</text>
<text x="228.3" y="1659.9" font-size="10.5" font-weight="normal" text-anchor="end" fill="#2e2e2e"  >pino  87 de T14 e massa = 2,6 Ω</text>
<text x="222.0" y="1671.6" font-size="10.5" font-weight="normal" text-anchor="end" fill="#2e2e2e"  >eletroválvula conectac</text>
<text x="74.0" y="1685.4" font-size="9.6" font-weight="normal" text-anchor="start" fill="#2e2e2e"  letter-spacing="-0.4">ūū=ūūūūūūūūūūūū</text>
<text x="228.3" y="1685.4" font-size="10.5" font-weight="normal" text-anchor="end" fill="#2e2e2e"  >Ω</text>
<text x="229.0" y="1696.6" font-size="10.5" font-weight="normal" text-anchor="end" fill="#2e2e2e"  >eletroválvula desconectada</text>
<text x="224.0" y="1716.0" font-size="14.9" font-weight="bold" text-anchor="end" fill="#2e2e2e" stroke="#2e2e2e" stroke-width="0.2" >Eletroválvula de</text>
<text x="224.0" y="1733.0" font-size="14.9" font-weight="bold" text-anchor="end" fill="#2e2e2e" stroke="#2e2e2e" stroke-width="0.2" >partida a frio</text>
<rect x="363.7" y="1760.5" width="6.6" height="123.8" fill="#fbe7f0" stroke="#303030" stroke-width="1.8" rx="0"/>
<rect x="296.3" y="1752.8" width="67.4" height="138.2" fill="#fbe7f0" stroke="#303030" stroke-width="2" rx="0"/>
<rect x="364.6" y="1771.6" width="4.8" height="4.8" fill="#fff" stroke="#303030" stroke-width="1.1"/>
<text x="359.0" y="1770.0" font-size="10.5" font-weight="bold" text-anchor="end" fill="#2e2e2e" stroke="#2e2e2e" stroke-width="0.08" >1</text>
<rect x="364.6" y="1804.9" width="4.8" height="4.8" fill="#fff" stroke="#303030" stroke-width="1.1"/>
<text x="359.0" y="1803.3" font-size="10.5" font-weight="bold" text-anchor="end" fill="#2e2e2e" stroke="#2e2e2e" stroke-width="0.08" >2</text>
<rect x="364.6" y="1837.6" width="4.8" height="4.8" fill="#fff" stroke="#303030" stroke-width="1.1"/>
<text x="359.0" y="1836.0" font-size="10.5" font-weight="bold" text-anchor="end" fill="#2e2e2e" stroke="#2e2e2e" stroke-width="0.08" >3</text>
<rect x="364.6" y="1866.2" width="4.8" height="4.8" fill="#fff" stroke="#303030" stroke-width="1.1"/>
<text x="359.0" y="1864.6" font-size="10.5" font-weight="bold" text-anchor="end" fill="#2e2e2e" stroke="#2e2e2e" stroke-width="0.08" >4</text>
<polyline points="364.0,1774.0 330.0,1774.0 330.0,1868.6 364.0,1868.6" fill="none" stroke="#303030" stroke-width="1.5" stroke-linejoin="miter"/>
<line x1="330.0" y1="1807.3" x2="364.0" y2="1807.3" stroke="#303030" stroke-width="3.6"/>
<line x1="330.0" y1="1840.0" x2="364.0" y2="1840.0" stroke="#303030" stroke-width="2.8"/>
<rect x="325.5" y="1786.0" width="9.0" height="12.0" fill="#c4c6c8" stroke="#303030" stroke-width="1.8" rx="0"/>
<rect x="325.5" y="1818.0" width="9.0" height="12.0" fill="#c4c6c8" stroke="#303030" stroke-width="1.8" rx="0"/>
<rect x="325.5" y="1849.0" width="9.0" height="12.0" fill="#c4c6c8" stroke="#303030" stroke-width="1.8" rx="0"/>
<polyline points="370.0,1774.0 469.2,1774.0 469.2,2100.0 370.0,2100.0" fill="none" stroke="#303030" stroke-width="2.4" stroke-linejoin="miter"/>
<polyline points="370.0,1807.3 454.0,1807.3 454.0,2084.3 370.0,2084.3" fill="none" stroke="#303030" stroke-width="2.4" stroke-linejoin="miter"/>
<polyline points="370.0,1840.0 438.9,1840.0 438.9,2069.8 370.0,2069.8" fill="none" stroke="#303030" stroke-width="2.4" stroke-linejoin="miter"/>
<polyline points="370.0,1868.6 423.7,1868.6 423.7,2054.6 370.0,2054.6" fill="none" stroke="#303030" stroke-width="2.4" stroke-linejoin="miter"/>
<text x="287.0" y="1759.5" font-size="14.9" font-weight="bold" text-anchor="end" fill="#2e2e2e" stroke="#2e2e2e" stroke-width="0.2" >Conjunto de resistores</text>
<text x="287.0" y="1775.8" font-size="14.9" font-weight="bold" text-anchor="end" fill="#2e2e2e" stroke="#2e2e2e" stroke-width="0.2" >limitadores de velocidade</text>
<text x="287.0" y="1792.0" font-size="14.9" font-weight="bold" text-anchor="end" fill="#2e2e2e" stroke="#2e2e2e" stroke-width="0.2" >do eletroventilador</text>
<text x="287.0" y="1809.3" font-size="14.9" font-weight="bold" text-anchor="end" fill="#2e2e2e" stroke="#2e2e2e" stroke-width="0.2" >da caixa de ar</text>
<text x="287.0" y="1821.5" font-size="10.5" font-weight="normal" text-anchor="end" fill="#2e2e2e"  >Pino 30 de T30 e massa = OL - desligado</text>
<text x="287.0" y="1835.0" font-size="10.5" font-weight="normal" text-anchor="end" fill="#2e2e2e"  >Pino 30 de T30 e massa = 8,0Ω    1ª vel.</text>
<text x="287.0" y="1848.0" font-size="10.5" font-weight="normal" text-anchor="end" fill="#2e2e2e"  >Pino 30 de T08 e massa = 6,3Ω    2ª vel.</text>
<text x="287.0" y="1860.8" font-size="10.5" font-weight="normal" text-anchor="end" fill="#2e2e2e"  >Pino 30 de T08 e massa = 5,0Ω    3ª vel.</text>
<text x="287.0" y="1873.3" font-size="10.5" font-weight="normal" text-anchor="end" fill="#2e2e2e"  >Pino 30 de T08 e massa = 0,  Ω 4ª vel.</text>
<text x="287.0" y="1885.5" font-size="10.5" font-weight="normal" text-anchor="end" fill="#2e2e2e"  >somente com ar condicionado</text>
<rect x="288.9" y="1907.0" width="7.4" height="45.0" fill="#fbe7f0" stroke="#303030" stroke-width="1.8" rx="0"/>
<rect x="363.7" y="1906.7" width="6.6" height="45.3" fill="#fbe7f0" stroke="#303030" stroke-width="1.8" rx="0"/>
<rect x="296.3" y="1900.0" width="67.4" height="60.0" fill="#fbe7f0" stroke="#303030" stroke-width="2" rx="0"/>
<text x="299.8" y="1913.5" font-size="10" font-weight="bold" text-anchor="start" fill="#2e2e2e" stroke="#2e2e2e" stroke-width="0.08" >86</text>
<text x="360.2" y="1913.5" font-size="10" font-weight="bold" text-anchor="end" fill="#2e2e2e" stroke="#2e2e2e" stroke-width="0.08" >85</text>
<text x="299.8" y="1952.0" font-size="10" font-weight="bold" text-anchor="start" fill="#2e2e2e" stroke="#2e2e2e" stroke-width="0.08" >87</text>
<text x="360.2" y="1952.0" font-size="10" font-weight="bold" text-anchor="end" fill="#2e2e2e" stroke="#2e2e2e" stroke-width="0.08" >30</text>
<line x1="292.6" y1="1918.0" x2="307.8" y2="1918.0" stroke="#303030" stroke-width="1.6"/>
<path d="M307.8,1918 C307.8,1928 319.1,1928 319.1,1918 C319.1,1928 330.5,1928 330.5,1918 C330.5,1928 341.9,1928 341.9,1918 C341.9,1928 353.2,1928 353.2,1918 " fill="none" stroke="#303030" stroke-width="2.3"/>
<line x1="353.2" y1="1918.0" x2="367.0" y2="1918.0" stroke="#303030" stroke-width="1.6"/>
<line x1="305.3" y1="1927.5" x2="352.7" y2="1927.5" stroke="#303030" stroke-width="1.6"/>
<line x1="305.3" y1="1931.0" x2="352.7" y2="1931.0" stroke="#303030" stroke-width="1.6"/>
<line x1="292.6" y1="1941.0" x2="316.8" y2="1941.0" stroke="#303030" stroke-width="3.1999999999999997"/>
<circle cx="318.8" cy="1941.0" r="2" fill="#fbe7f0" stroke="#303030" stroke-width="1.3"/>
<line x1="320.3" y1="1942.0" x2="335.3" y2="1951.0" stroke="#303030" stroke-width="1.3"/>
<polygon points="336.3,1952 330.8,1951.5 333.8,1947.5" fill="#303030"/>
<circle cx="340.3" cy="1941.0" r="2" fill="#fbe7f0" stroke="#303030" stroke-width="1.3"/>
<line x1="342.3" y1="1941.0" x2="367.0" y2="1941.0" stroke="#303030" stroke-width="3.1999999999999997"/>
<rect x="290.2" y="1915.6" width="4.8" height="4.8" fill="#fff" stroke="#303030" stroke-width="1.1"/>
<rect x="364.6" y="1915.6" width="4.8" height="4.8" fill="#fff" stroke="#303030" stroke-width="1.1"/>
<rect x="290.2" y="1938.6" width="4.8" height="4.8" fill="#fff" stroke="#303030" stroke-width="1.1"/>
<rect x="364.6" y="1938.6" width="4.8" height="4.8" fill="#fff" stroke="#303030" stroke-width="1.1"/>
<rect x="246.7" y="1912.0" width="34.3" height="12.3" fill="#fff" stroke="#303030" stroke-width="1.8" rx="0"/>
<text x="263.9" y="1922.2" font-size="12" font-weight="bold" text-anchor="middle" fill="#2e2e2e" stroke="#2e2e2e" stroke-width="0.08" >+15</text>
<rect x="246.7" y="1934.5" width="34.3" height="12.5" fill="#fff" stroke="#303030" stroke-width="1.8" rx="0"/>
<text x="263.9" y="1944.8" font-size="12" font-weight="bold" text-anchor="middle" fill="#2e2e2e" stroke="#2e2e2e" stroke-width="0.08" >F83</text>
<line x1="281.0" y1="1918.0" x2="289.0" y2="1918.0" stroke="#303030" stroke-width="2.8"/>
<line x1="281.0" y1="1941.0" x2="289.0" y2="1941.0" stroke="#303030" stroke-width="2.8"/>
<line x1="370.0" y1="1918.0" x2="404.0" y2="1918.0" stroke="#303030" stroke-width="3.0"/>
<rect x="403.1" y="1908.4" width="1.8" height="19.2" fill="#303030"/>
<rect x="406.2" y="1911.5" width="1.4" height="13.0" fill="#303030"/>
<rect x="409.1" y="1913.0" width="1.4" height="10.0" fill="#303030"/>
<rect x="412.0" y="1914.5" width="1.4" height="7.0" fill="#303030"/>
<rect x="414.9" y="1916.0" width="1.4" height="4.0" fill="#303030"/>
<polyline points="370.0,1941.0 408.7,1941.0 408.7,1985.5 370.0,1985.5" fill="none" stroke="#303030" stroke-width="1.8" stroke-linejoin="miter"/>
<text x="224.8" y="1918.0" font-size="14.9" font-weight="bold" text-anchor="end" fill="#2e2e2e" stroke="#2e2e2e" stroke-width="0.2" >T30 - Relé do</text>
<text x="224.8" y="1935.0" font-size="14.9" font-weight="bold" text-anchor="end" fill="#2e2e2e" stroke="#2e2e2e" stroke-width="0.2" >eletroventilador  da</text>
<text x="224.8" y="1951.3" font-size="14.9" font-weight="bold" text-anchor="end" fill="#2e2e2e" stroke="#2e2e2e" stroke-width="0.2" >caixa de ar</text>
<rect x="363.4" y="1973.4" width="6.9" height="45.8" fill="#fbe7f0" stroke="#303030" stroke-width="1.8" rx="0"/>
<rect x="296.3" y="1966.4" width="67.1" height="60.2" fill="#fbe7f0" stroke="#303030" stroke-width="2" rx="0"/>
<line x1="367.0" y1="1985.5" x2="350.8" y2="1985.5" stroke="#303030" stroke-width="1.6"/>
<path d="M350.8,1985.5 C350.8,1995.5 339.6,1995.5 339.6,1985.5 C339.6,1995.5 328.3,1995.5 328.3,1985.5 C328.3,1995.5 317.1,1995.5 317.1,1985.5 C317.1,1995.5 305.8,1995.5 305.8,1985.5 " fill="none" stroke="#303030" stroke-width="2.2"/>
<polyline points="305.8,1985.5 300.6,1985.5 300.6,2007.6 367.0,2007.6" fill="none" stroke="#303030" stroke-width="1.6" stroke-linejoin="miter"/>
<line x1="305.3" y1="1995.9" x2="350.8" y2="1995.9" stroke="#303030" stroke-width="1.6"/>
<line x1="305.3" y1="1999.8" x2="350.8" y2="1999.8" stroke="#303030" stroke-width="1.6"/>
<rect x="364.6" y="1983.1" width="4.8" height="4.8" fill="#fff" stroke="#303030" stroke-width="1.1"/>
<rect x="364.6" y="2005.2" width="4.8" height="4.8" fill="#fff" stroke="#303030" stroke-width="1.1"/>
<text x="359.0" y="1982.0" font-size="10.5" font-weight="bold" text-anchor="end" fill="#2e2e2e" stroke="#2e2e2e" stroke-width="0.08" >2</text>
<text x="359.0" y="2005.0" font-size="10.5" font-weight="bold" text-anchor="end" fill="#2e2e2e" stroke="#2e2e2e" stroke-width="0.08" >1</text>
<line x1="370.0" y1="2007.6" x2="423.7" y2="2007.6" stroke="#303030" stroke-width="1.8"/>
<circle cx="423.7" cy="2007.6" r="2" fill="#303030"/>
<text x="274.3" y="1989.7" font-size="14.9" font-weight="bold" text-anchor="end" fill="#2e2e2e" stroke="#2e2e2e" stroke-width="0.2" >Eletroventilador da</text>
<text x="274.3" y="2006.5" font-size="14.9" font-weight="bold" text-anchor="end" fill="#2e2e2e" stroke="#2e2e2e" stroke-width="0.2" >caixa de ar</text>
<rect x="288.6" y="2070.0" width="7.7" height="155.6" fill="#fbe7f0" stroke="#303030" stroke-width="1.8" rx="0"/>
<rect x="363.7" y="2039.0" width="6.6" height="210.7" fill="#fbe7f0" stroke="#303030" stroke-width="1.8" rx="0"/>
<rect x="296.3" y="2032.5" width="67.4" height="223.5" fill="#fbe7f0" stroke="#303030" stroke-width="2" rx="0"/>
<rect x="362.9" y="2052.2" width="4.8" height="4.8" fill="#fff" stroke="#303030" stroke-width="1.1"/>
<text x="360.0" y="2050.8" font-size="10.5" font-weight="bold" text-anchor="end" fill="#2e2e2e" stroke="#2e2e2e" stroke-width="0.08" >4P</text>
<rect x="362.9" y="2067.4" width="4.8" height="4.8" fill="#fff" stroke="#303030" stroke-width="1.1"/>
<text x="360.0" y="2066.0" font-size="10.5" font-weight="bold" text-anchor="end" fill="#2e2e2e" stroke="#2e2e2e" stroke-width="0.08" >3P</text>
<rect x="362.9" y="2081.9" width="4.8" height="4.8" fill="#fff" stroke="#303030" stroke-width="1.1"/>
<text x="360.0" y="2080.5" font-size="10.5" font-weight="bold" text-anchor="end" fill="#2e2e2e" stroke="#2e2e2e" stroke-width="0.08" >2P</text>
<rect x="362.9" y="2097.6" width="4.8" height="4.8" fill="#fff" stroke="#303030" stroke-width="1.1"/>
<text x="360.0" y="2096.2" font-size="10.5" font-weight="bold" text-anchor="end" fill="#2e2e2e" stroke="#2e2e2e" stroke-width="0.08" >1P</text>
<line x1="333.9" y1="2054.6" x2="365.3" y2="2054.6" stroke="#303030" stroke-width="3.0"/>
<line x1="320.3" y1="2060.0" x2="333.9" y2="2054.6" stroke="#303030" stroke-width="1.4"/>
<circle cx="318.3" cy="2061.1" r="2.3" fill="#fbe7f0" stroke="#303030" stroke-width="1.5"/>
<line x1="337.0" y1="2069.8" x2="365.3" y2="2069.8" stroke="#303030" stroke-width="2.8"/>
<circle cx="335.0" cy="2068.5" r="2.3" fill="#fbe7f0" stroke="#303030" stroke-width="1.5"/>
<line x1="343.8" y1="2084.3" x2="365.3" y2="2084.3" stroke="#303030" stroke-width="1.6"/>
<circle cx="341.5" cy="2084.3" r="2.3" fill="#fbe7f0" stroke="#303030" stroke-width="1.5"/>
<line x1="343.6" y1="2100.0" x2="365.3" y2="2100.0" stroke="#303030" stroke-width="2.8"/>
<line x1="337.0" y1="2101.0" x2="343.6" y2="2100.0" stroke="#303030" stroke-width="1.2"/>
<circle cx="335.0" cy="2101.2" r="2.3" fill="#fbe7f0" stroke="#303030" stroke-width="1.5"/>
<rect x="290.1" y="2081.9" width="4.8" height="4.8" fill="#fff" stroke="#303030" stroke-width="1.1"/>
<text x="301.5" y="2080.0" font-size="10.5" font-weight="bold" text-anchor="start" fill="#2e2e2e" stroke="#2e2e2e" stroke-width="0.08" >5P</text>
<line x1="292.5" y1="2084.3" x2="316.0" y2="2084.3" stroke="#303030" stroke-width="1.8"/>
<circle cx="318.3" cy="2084.3" r="2.3" fill="#fbe7f0" stroke="#303030" stroke-width="1.5"/>
<line x1="318.3" y1="2086.5" x2="318.3" y2="2106.0" stroke="#303030" stroke-width="2.8"/>
<circle cx="318.3" cy="2108.3" r="2.3" fill="#fbe7f0" stroke="#303030" stroke-width="1.5"/>
<line x1="320.3" y1="2109.3" x2="335.0" y2="2114.6" stroke="#303030" stroke-width="1.4"/>
<rect x="257.3" y="2073.6" width="2.4" height="20.0" fill="#303030"/>
<polygon points="258.5,2075.6 252.0,2080.8 245.0,2080.8 245.0,2086.4 252.0,2086.4 258.5,2091.6" fill="#303030"/>
<line x1="258.5" y1="2083.6" x2="289.0" y2="2083.6" stroke="#303030" stroke-width="3.0"/>
<text x="223.2" y="2075.0" font-size="14.9" font-weight="bold" text-anchor="end" fill="#2e2e2e" stroke="#2e2e2e" stroke-width="0.2" >Seletor de velocidades</text>
<text x="223.2" y="2091.3" font-size="14.9" font-weight="bold" text-anchor="end" fill="#2e2e2e" stroke="#2e2e2e" stroke-width="0.2" >do eletroventilador interno</text>
<rect x="290.1" y="2164.4" width="4.8" height="4.8" fill="#fff" stroke="#303030" stroke-width="1.1"/>
<text x="301.5" y="2162.5" font-size="10.5" font-weight="bold" text-anchor="start" fill="#2e2e2e" stroke="#2e2e2e" stroke-width="0.08" >1B</text>
<rect x="290.1" y="2208.7" width="4.8" height="4.8" fill="#fff" stroke="#303030" stroke-width="1.1"/>
<text x="301.5" y="2207.0" font-size="10.5" font-weight="bold" text-anchor="start" fill="#2e2e2e" stroke="#2e2e2e" stroke-width="0.08" >2B</text>
<rect x="362.9" y="2231.9" width="4.8" height="4.8" fill="#fff" stroke="#303030" stroke-width="1.1"/>
<text x="360.0" y="2230.0" font-size="10.5" font-weight="bold" text-anchor="end" fill="#2e2e2e" stroke="#2e2e2e" stroke-width="0.08" >4B</text>
<circle cx="318.3" cy="2143.4" r="2.3" fill="#fbe7f0" stroke="#303030" stroke-width="1.5"/>
<line x1="320.3" y1="2142.5" x2="336.0" y2="2136.9" stroke="#303030" stroke-width="1.4"/>
<line x1="336.0" y1="2136.9" x2="353.0" y2="2136.9" stroke="#303030" stroke-width="1.4"/>
<line x1="353.0" y1="2136.9" x2="353.0" y2="2211.6" stroke="#303030" stroke-width="2.6"/>
<circle cx="335.0" cy="2150.5" r="2.3" fill="#fbe7f0" stroke="#303030" stroke-width="1.5"/>
<line x1="337.3" y1="2150.5" x2="353.0" y2="2150.5" stroke="#303030" stroke-width="1.4"/>
<circle cx="341.5" cy="2166.8" r="2.3" fill="#fbe7f0" stroke="#303030" stroke-width="1.5"/>
<line x1="343.8" y1="2166.8" x2="353.0" y2="2166.8" stroke="#303030" stroke-width="1.4"/>
<circle cx="335.0" cy="2182.8" r="2.3" fill="#fbe7f0" stroke="#303030" stroke-width="1.5"/>
<line x1="337.3" y1="2182.8" x2="353.0" y2="2182.8" stroke="#303030" stroke-width="1.4"/>
<line x1="292.5" y1="2166.8" x2="316.0" y2="2166.8" stroke="#303030" stroke-width="1.8"/>
<circle cx="318.3" cy="2166.8" r="2.3" fill="#fbe7f0" stroke="#303030" stroke-width="1.5"/>
<line x1="318.3" y1="2169.0" x2="318.3" y2="2188.0" stroke="#303030" stroke-width="2.8"/>
<circle cx="318.3" cy="2190.0" r="2.3" fill="#fbe7f0" stroke="#303030" stroke-width="1.5"/>
<line x1="320.3" y1="2191.0" x2="335.0" y2="2196.4" stroke="#303030" stroke-width="1.4"/>
<line x1="292.5" y1="2211.1" x2="316.0" y2="2211.1" stroke="#303030" stroke-width="2.6"/>
<circle cx="318.3" cy="2211.1" r="2.3" fill="#fbe7f0" stroke="#303030" stroke-width="1.5"/>
<line x1="320.3" y1="2212.0" x2="334.0" y2="2220.0" stroke="#303030" stroke-width="1.4"/>
<polygon points="336,2221 330.5,2220.5 333,2217" fill="#303030"/>
<circle cx="340.4" cy="2211.1" r="2.3" fill="#fbe7f0" stroke="#303030" stroke-width="1.5"/>
<line x1="342.7" y1="2211.1" x2="353.0" y2="2211.1" stroke="#303030" stroke-width="2.6"/>
<polyline points="306.2,2211.1 306.2,2234.3 365.3,2234.3" fill="none" stroke="#303030" stroke-width="1.5" stroke-linejoin="miter"/>
<circle cx="326.3" cy="2234.3" r="9.2" fill="#f2de10" stroke="#b8a000" stroke-width="0.8"/>
<polygon points="321.5,2229.5 321.5,2239 330,2234.3" fill="#303030"/>
<line x1="330.5" y1="2229.0" x2="330.5" y2="2239.5" stroke="#303030" stroke-width="1.8"/>
<line x1="370.0" y1="2234.3" x2="401.0" y2="2234.3" stroke="#303030" stroke-width="3.4"/>
<rect x="400.1" y="2224.7" width="1.8" height="19.2" fill="#303030"/>
<rect x="403.2" y="2227.8" width="1.4" height="13.0" fill="#303030"/>
<rect x="406.1" y="2229.3" width="1.4" height="10.0" fill="#303030"/>
<rect x="409.0" y="2230.8" width="1.4" height="7.0" fill="#303030"/>
<rect x="411.9" y="2232.3" width="1.4" height="4.0" fill="#303030"/>
<rect x="246.7" y="2160.0" width="34.3" height="13.0" fill="#fff" stroke="#303030" stroke-width="1.8" rx="0"/>
<text x="263.9" y="2170.6" font-size="12" font-weight="bold" text-anchor="middle" fill="#2e2e2e" stroke="#2e2e2e" stroke-width="0.08" >F83</text>
<line x1="281.0" y1="2167.0" x2="289.0" y2="2167.0" stroke="#303030" stroke-width="3.0"/>
<polyline points="289.0,2210.0 255.4,2210.0 255.4,2294.0 290.0,2294.0" fill="none" stroke="#303030" stroke-width="1.6" stroke-linejoin="miter"/>
<text x="231.4" y="2159.2" font-size="14.9" font-weight="bold" text-anchor="end" fill="#2e2e2e" stroke="#2e2e2e" stroke-width="0.2" >Interruptor do</text>
<text x="231.4" y="2176.6" font-size="14.9" font-weight="bold" text-anchor="end" fill="#2e2e2e" stroke="#2e2e2e" stroke-width="0.2" >ar condicionado</text>
<text x="243.7" y="2228.2" font-size="14.9" font-weight="bold" text-anchor="end" fill="#2e2e2e" stroke="#2e2e2e" stroke-width="0.2" >Termostato eletrônico</text>
<text x="243.7" y="2241.0" font-size="10.5" font-weight="bold" text-anchor="end" fill="#2e2e2e" stroke="#2e2e2e" stroke-width="0.08" >A48 e massa = 0V A/C desligado</text>
<text x="243.7" y="2253.2" font-size="10.5" font-weight="bold" text-anchor="end" fill="#2e2e2e" stroke="#2e2e2e" stroke-width="0.08" >A48 e massa = Vbat A/C ligado</text>
<text x="243.7" y="2266.0" font-size="10.5" font-weight="bold" text-anchor="end" fill="#2e2e2e" stroke="#2e2e2e" stroke-width="0.08" >A48 e massa = 44,5 Ω  (A/C ligado</text>
<text x="243.7" y="2277.7" font-size="10.5" font-weight="bold" text-anchor="end" fill="#2e2e2e" stroke="#2e2e2e" stroke-width="0.08" >A48 e massa = OL  (A/C desligado)</text>
<rect x="289.5" y="2281.0" width="6.8" height="26.0" fill="#fbe7f0" stroke="#303030" stroke-width="1.8" rx="0"/>
<rect x="363.7" y="2278.0" width="6.6" height="31.0" fill="#fbe7f0" stroke="#303030" stroke-width="1.8" rx="0"/>
<rect x="296.3" y="2271.0" width="67.4" height="45.0" fill="#fbe7f0" stroke="#303030" stroke-width="2" rx="0"/>
<circle cx="329.6" cy="2293.8" r="12" fill="#fff" stroke="#303030" stroke-width="1.8"/>
<line x1="317.6" y1="2293.8" x2="326.6" y2="2293.8" stroke="#303030" stroke-width="2"/>
<rect x="325.3" y="2286.3" width="2.5" height="15.0" fill="#303030"/>
<path d="M327.6,2290.3 L332.6,2286.8 L332.6,2282.3" fill="none" stroke="#303030" stroke-width="1.6"/>
<path d="M327.6,2297.3 L332.6,2300.8 L332.6,2305.3" fill="none" stroke="#303030" stroke-width="1.6"/>
<rect x="290.1" y="2291.6" width="4.8" height="4.8" fill="#fff" stroke="#303030" stroke-width="1.1"/>
<text x="301.0" y="2298.0" font-size="10.5" font-weight="bold" text-anchor="start" fill="#2e2e2e" stroke="#2e2e2e" stroke-width="0.08" >3</text>
<rect x="363.6" y="2283.8" width="4.8" height="4.8" fill="#fff" stroke="#303030" stroke-width="1.1"/>
<rect x="363.6" y="2299.0" width="4.8" height="4.8" fill="#fff" stroke="#303030" stroke-width="1.1"/>
<text x="359.0" y="2289.0" font-size="10.5" font-weight="bold" text-anchor="end" fill="#2e2e2e" stroke="#2e2e2e" stroke-width="0.08" >1</text>
<text x="359.0" y="2304.5" font-size="10.5" font-weight="bold" text-anchor="end" fill="#2e2e2e" stroke="#2e2e2e" stroke-width="0.08" >2</text>
<line x1="370.0" y1="2286.2" x2="401.0" y2="2286.2" stroke="#303030" stroke-width="3.4"/>
<rect x="400.1" y="2276.6" width="1.8" height="19.2" fill="#303030"/>
<rect x="403.2" y="2279.7" width="1.4" height="13.0" fill="#303030"/>
<rect x="406.1" y="2281.2" width="1.4" height="10.0" fill="#303030"/>
<rect x="409.0" y="2282.7" width="1.4" height="7.0" fill="#303030"/>
<rect x="411.9" y="2284.2" width="1.4" height="4.0" fill="#303030"/>
<line x1="370.0" y1="2301.4" x2="514.5" y2="2301.4" stroke="#303030" stroke-width="3.0"/>
<circle cx="514.5" cy="2301.4" r="2.2" fill="#303030"/>
<text x="521.5" y="2305.6" font-size="11" font-weight="bold" text-anchor="start" fill="#2e2e2e" stroke="#2e2e2e" stroke-width="0.08" >A48</text>
<line x1="627.0" y1="66.1" x2="702.0" y2="66.1" stroke="#303030" stroke-width="3.0"/>
<circle cx="627.0" cy="66.1" r="2.2" fill="#303030"/>
<text x="622.0" y="70.3" font-size="11" font-weight="bold" text-anchor="end" fill="#2e2e2e" stroke="#2e2e2e" stroke-width="0.08" >B10</text>
<text x="647.5" y="62.1" font-size="10.4" font-weight="bold" text-anchor="start" fill="#2e2e2e" stroke="#2e2e2e" stroke-width="0.08" >AZes/PT</text>
<path d="M730.3,58.099999999999994 L730.3,41.099999999999994 Q731,37.099999999999994 736,36.599999999999994 L750,36.599999999999994 Q755,37.099999999999994 755,42.099999999999994 L755,58.099999999999994 Z" fill="#3c3b40"/>
<rect x="733.0" y="40.1" width="8.0" height="14.0" fill="#4a4950"/>
<rect x="708.2" y="61.6" width="3.3" height="10.5" fill="#8d8d8d"/>
<rect x="710.5" y="57.099999999999994" width="24" height="20" rx="4" fill="#303033"/>
<rect x="718.0" y="64.6" width="10.0" height="3.0" fill="#6a6a6e"/>
<rect x="734.2" y="57.6" width="4.3" height="19.0" fill="#e2d49a"/>
<rect x="738.5" y="56.599999999999994" width="33.4" height="21.5" rx="1.5" fill="#4b4238"/>
<rect x="745.0" y="60.1" width="24.0" height="5.0" fill="#7d6c55"/>
<rect x="745.0" y="67.1" width="7.0" height="4.0" fill="#a89a7a"/>
<rect x="771.9" y="58.1" width="3.4" height="17.0" fill="#262626"/>
<rect x="775.3" y="56.6" width="8.2" height="21.0" fill="#a47464"/>
<rect x="783.5" y="60.6" width="4.8" height="12.5" fill="#3a3a3a"/>
<line x1="792.5" y1="66.1" x2="799.5" y2="66.1" stroke="#303030" stroke-width="3.4"/>
<rect x="799.5" y="59.8" width="35.1" height="13.6" fill="#fff" stroke="#303030" stroke-width="1.8" rx="0"/>
<text x="817.0" y="70.7" font-size="12" font-weight="bold" text-anchor="middle" fill="#2e2e2e" stroke="#2e2e2e" stroke-width="0.08" >F22</text>
<text x="854.5" y="70.4" font-size="14.9" font-weight="bold" text-anchor="start" fill="#2e2e2e" stroke="#2e2e2e" stroke-width="0.2" >Eletroinjetor 1</text>
<text x="854.5" y="83.9" font-size="10.5" font-weight="bold" text-anchor="start" fill="#2e2e2e" stroke="#2e2e2e" stroke-width="0.08" >B10 e B11 = 26,7 Ω</text>
<line x1="627.0" y1="111.6" x2="702.0" y2="111.6" stroke="#303030" stroke-width="3.0"/>
<circle cx="627.0" cy="111.6" r="2.2" fill="#303030"/>
<text x="622.0" y="115.8" font-size="11" font-weight="bold" text-anchor="end" fill="#2e2e2e" stroke="#2e2e2e" stroke-width="0.08" >B11</text>
<text x="647.5" y="107.6" font-size="10.4" font-weight="bold" text-anchor="start" fill="#2e2e2e" stroke="#2e2e2e" stroke-width="0.08" >PT/VD</text>
<path d="M730.3,103.6 L730.3,86.6 Q731,82.6 736,82.1 L750,82.1 Q755,82.6 755,87.6 L755,103.6 Z" fill="#3c3b40"/>
<rect x="733.0" y="85.6" width="8.0" height="14.0" fill="#4a4950"/>
<rect x="708.2" y="107.1" width="3.3" height="10.5" fill="#8d8d8d"/>
<rect x="710.5" y="102.6" width="24" height="20" rx="4" fill="#303033"/>
<rect x="718.0" y="110.1" width="10.0" height="3.0" fill="#6a6a6e"/>
<rect x="734.2" y="103.1" width="4.3" height="19.0" fill="#e2d49a"/>
<rect x="738.5" y="102.1" width="33.4" height="21.5" rx="1.5" fill="#4b4238"/>
<rect x="745.0" y="105.6" width="24.0" height="5.0" fill="#7d6c55"/>
<rect x="745.0" y="112.6" width="7.0" height="4.0" fill="#a89a7a"/>
<rect x="771.9" y="103.6" width="3.4" height="17.0" fill="#262626"/>
<rect x="775.3" y="102.1" width="8.2" height="21.0" fill="#a47464"/>
<rect x="783.5" y="106.1" width="4.8" height="12.5" fill="#3a3a3a"/>
<line x1="792.5" y1="111.6" x2="799.5" y2="111.6" stroke="#303030" stroke-width="3.4"/>
<rect x="799.5" y="105.3" width="35.1" height="13.6" fill="#fff" stroke="#303030" stroke-width="1.8" rx="0"/>
<text x="817.0" y="116.2" font-size="12" font-weight="bold" text-anchor="middle" fill="#2e2e2e" stroke="#2e2e2e" stroke-width="0.08" >F22</text>
<text x="854.5" y="115.9" font-size="14.9" font-weight="bold" text-anchor="start" fill="#2e2e2e" stroke="#2e2e2e" stroke-width="0.2" >Eletroinjetor 2</text>
<text x="854.5" y="129.4" font-size="10.5" font-weight="bold" text-anchor="start" fill="#2e2e2e" stroke="#2e2e2e" stroke-width="0.08" >B11 e B10= 26,7 Ω</text>
<line x1="627.0" y1="157.4" x2="702.0" y2="157.4" stroke="#303030" stroke-width="3.0"/>
<circle cx="627.0" cy="157.4" r="2.2" fill="#303030"/>
<text x="622.0" y="161.6" font-size="11" font-weight="bold" text-anchor="end" fill="#2e2e2e" stroke="#2e2e2e" stroke-width="0.08" >B12</text>
<text x="647.5" y="153.4" font-size="10.4" font-weight="bold" text-anchor="start" fill="#2e2e2e" stroke="#2e2e2e" stroke-width="0.08" >MR/PT</text>
<path d="M730.3,149.4 L730.3,132.4 Q731,128.4 736,127.9 L750,127.9 Q755,128.4 755,133.4 L755,149.4 Z" fill="#3c3b40"/>
<rect x="733.0" y="131.4" width="8.0" height="14.0" fill="#4a4950"/>
<rect x="708.2" y="152.9" width="3.3" height="10.5" fill="#8d8d8d"/>
<rect x="710.5" y="148.4" width="24" height="20" rx="4" fill="#303033"/>
<rect x="718.0" y="155.9" width="10.0" height="3.0" fill="#6a6a6e"/>
<rect x="734.2" y="148.9" width="4.3" height="19.0" fill="#e2d49a"/>
<rect x="738.5" y="147.9" width="33.4" height="21.5" rx="1.5" fill="#4b4238"/>
<rect x="745.0" y="151.4" width="24.0" height="5.0" fill="#7d6c55"/>
<rect x="745.0" y="158.4" width="7.0" height="4.0" fill="#a89a7a"/>
<rect x="771.9" y="149.4" width="3.4" height="17.0" fill="#262626"/>
<rect x="775.3" y="147.9" width="8.2" height="21.0" fill="#a47464"/>
<rect x="783.5" y="151.9" width="4.8" height="12.5" fill="#3a3a3a"/>
<line x1="792.5" y1="157.4" x2="799.5" y2="157.4" stroke="#303030" stroke-width="3.4"/>
<rect x="799.5" y="151.1" width="35.1" height="13.6" fill="#fff" stroke="#303030" stroke-width="1.8" rx="0"/>
<text x="817.0" y="162.0" font-size="12" font-weight="bold" text-anchor="middle" fill="#2e2e2e" stroke="#2e2e2e" stroke-width="0.08" >F22</text>
<text x="854.5" y="161.7" font-size="14.9" font-weight="bold" text-anchor="start" fill="#2e2e2e" stroke="#2e2e2e" stroke-width="0.2" >Eletroinjetor 3</text>
<text x="854.5" y="175.2" font-size="10.5" font-weight="bold" text-anchor="start" fill="#2e2e2e" stroke="#2e2e2e" stroke-width="0.08" >B12 e B10 = 26,6 Ω</text>
<line x1="627.0" y1="203.5" x2="702.0" y2="203.5" stroke="#303030" stroke-width="3.0"/>
<circle cx="627.0" cy="203.5" r="2.2" fill="#303030"/>
<text x="622.0" y="207.7" font-size="11" font-weight="bold" text-anchor="end" fill="#2e2e2e" stroke="#2e2e2e" stroke-width="0.08" >B13</text>
<text x="647.5" y="199.5" font-size="10.4" font-weight="bold" text-anchor="start" fill="#2e2e2e" stroke="#2e2e2e" stroke-width="0.08" >VM</text>
<path d="M730.3,195.5 L730.3,178.5 Q731,174.5 736,174.0 L750,174.0 Q755,174.5 755,179.5 L755,195.5 Z" fill="#3c3b40"/>
<rect x="733.0" y="177.5" width="8.0" height="14.0" fill="#4a4950"/>
<rect x="708.2" y="199.0" width="3.3" height="10.5" fill="#8d8d8d"/>
<rect x="710.5" y="194.5" width="24" height="20" rx="4" fill="#303033"/>
<rect x="718.0" y="202.0" width="10.0" height="3.0" fill="#6a6a6e"/>
<rect x="734.2" y="195.0" width="4.3" height="19.0" fill="#e2d49a"/>
<rect x="738.5" y="194.0" width="33.4" height="21.5" rx="1.5" fill="#4b4238"/>
<rect x="745.0" y="197.5" width="24.0" height="5.0" fill="#7d6c55"/>
<rect x="745.0" y="204.5" width="7.0" height="4.0" fill="#a89a7a"/>
<rect x="771.9" y="195.5" width="3.4" height="17.0" fill="#262626"/>
<rect x="775.3" y="194.0" width="8.2" height="21.0" fill="#a47464"/>
<rect x="783.5" y="198.0" width="4.8" height="12.5" fill="#3a3a3a"/>
<line x1="792.5" y1="203.5" x2="799.5" y2="203.5" stroke="#303030" stroke-width="3.4"/>
<rect x="799.5" y="197.2" width="35.1" height="13.6" fill="#fff" stroke="#303030" stroke-width="1.8" rx="0"/>
<text x="817.0" y="208.1" font-size="12" font-weight="bold" text-anchor="middle" fill="#2e2e2e" stroke="#2e2e2e" stroke-width="0.08" >F22</text>
<text x="854.5" y="207.8" font-size="14.9" font-weight="bold" text-anchor="start" fill="#2e2e2e" stroke="#2e2e2e" stroke-width="0.2" >Eletroinjetor 4</text>
<text x="854.5" y="221.3" font-size="10.5" font-weight="bold" text-anchor="start" fill="#2e2e2e" stroke="#2e2e2e" stroke-width="0.08" >B13 e B10 = 23,6 Ω</text>
<rect x="769.8" y="252.6" width="6.5" height="136.8" fill="#fefae4" stroke="#303030" stroke-width="1.8" rx="0"/>
<rect x="844.2" y="308.8" width="7.4" height="24.2" fill="#fefae4" stroke="#303030" stroke-width="1.8" rx="0"/>
<rect x="776.3" y="245.6" width="67.9" height="146.8" fill="#fefae4" stroke="#303030" stroke-width="2" rx="0"/>
<path d="M779,261.2 L786.5,261.2 C800.5,261.2 800.5,271.8 786.5,271.8 C800.5,271.8 800.5,282.40000000000003 786.5,282.40000000000003 C800.5,282.4 800.5,293.0 786.5,293.0 C800.5,293.0 800.5,303.6 786.5,303.6 " fill="none" stroke="#303030" stroke-width="1.8"/>
<rect x="801.2" y="266.2" width="3.6" height="33.4" fill="#222"/>
<path d="M828.5,266.4 L824.7,266.4 L824.7,261.2 L819,261.2 C805,261.2 805,271.8 819,271.8 C805,271.8 805,282.40000000000003 819,282.40000000000003 C805,282.4 805,293.0 819,293.0 C805,293.0 805,303.6 819,303.6 L824.7,303.6 L824.7,299.6 L828.5,299.6" fill="none" stroke="#303030" stroke-width="1.8"/>
<circle cx="833.4" cy="266.4" r="5.2" fill="#a8a8b0" stroke="#303030" stroke-width="1.2"/>
<circle cx="833.4" cy="299.6" r="5.2" fill="#a8a8b0" stroke="#303030" stroke-width="1.2"/>
<path d="M830.5,276.2 L834.5,282.2 L831.8,283.2 L835.5,289.2" fill="none" stroke="#303030" stroke-width="1.3"/>
<path d="M786.5,335.7 C800.5,335.7 800.5,347.05 786.5,347.05 C800.5,347.05 800.5,358.40000000000003 786.5,358.40000000000003 C800.5,358.4 800.5,369.75 786.5,369.75 C800.5,369.75 800.5,381.1 786.5,381.1 L779,381.1" fill="none" stroke="#303030" stroke-width="1.8"/>
<rect x="801.2" y="340.7" width="3.6" height="36.4" fill="#222"/>
<path d="M828.5,340.9 L824.7,340.9 L824.7,335.7 L819,335.7 C805,335.7 805,347.05 819,347.05 C805,347.05 805,358.40000000000003 819,358.40000000000003 C805,358.4 805,369.75 819,369.75 C805,369.75 805,381.1 819,381.1 L824.7,381.1 L824.7,377.1 L828.5,377.1" fill="none" stroke="#303030" stroke-width="1.8"/>
<circle cx="833.4" cy="340.9" r="5.2" fill="#a8a8b0" stroke="#303030" stroke-width="1.2"/>
<circle cx="833.4" cy="377.1" r="5.2" fill="#a8a8b0" stroke="#303030" stroke-width="1.2"/>
<path d="M830.5,350.7 L834.5,356.7 L831.8,357.7 L835.5,363.7" fill="none" stroke="#303030" stroke-width="1.3"/>
<line x1="786.3" y1="303.6" x2="786.3" y2="335.7" stroke="#303030" stroke-width="1.6"/>
<line x1="786.3" y1="321.4" x2="848.0" y2="321.4" stroke="#303030" stroke-width="3.6"/>
<circle cx="786.3" cy="321.4" r="1.8" fill="#303030"/>
<rect x="770.4" y="258.8" width="4.8" height="4.8" fill="#fff" stroke="#303030" stroke-width="1.1"/>
<rect x="770.4" y="378.7" width="4.8" height="4.8" fill="#fff" stroke="#303030" stroke-width="1.1"/>
<rect x="844.1" y="319.0" width="4.8" height="4.8" fill="#fff" stroke="#303030" stroke-width="1.1"/>
<text x="778.0" y="258.0" font-size="10.5" font-weight="bold" text-anchor="start" fill="#2e2e2e" stroke="#2e2e2e" stroke-width="0.08" >3</text>
<text x="778.0" y="378.0" font-size="10.5" font-weight="bold" text-anchor="start" fill="#2e2e2e" stroke="#2e2e2e" stroke-width="0.08" >2</text>
<text x="840.0" y="318.0" font-size="10.5" font-weight="bold" text-anchor="end" fill="#2e2e2e" stroke="#2e2e2e" stroke-width="0.08" >1</text>
<line x1="851.6" y1="321.4" x2="861.0" y2="321.4" stroke="#303030" stroke-width="2.8"/>
<rect x="861.0" y="314.0" width="35.2" height="14.0" fill="#fff" stroke="#303030" stroke-width="1.8" rx="0"/>
<text x="878.6" y="325.1" font-size="12" font-weight="bold" text-anchor="middle" fill="#2e2e2e" stroke="#2e2e2e" stroke-width="0.08" >F22</text>
<line x1="627.0" y1="261.8" x2="770.0" y2="261.8" stroke="#303030" stroke-width="3.0"/>
<circle cx="627.0" cy="261.8" r="2.2" fill="#303030"/>
<text x="622.0" y="266.0" font-size="11" font-weight="bold" text-anchor="end" fill="#2e2e2e" stroke="#2e2e2e" stroke-width="0.08" >B57</text>
<text x="647.5" y="257.8" font-size="10.4" font-weight="bold" text-anchor="start" fill="#2e2e2e" stroke="#2e2e2e" stroke-width="0.08" >AM/PT</text>
<line x1="627.0" y1="381.1" x2="770.0" y2="381.1" stroke="#303030" stroke-width="3.0"/>
<circle cx="627.0" cy="381.1" r="2.2" fill="#303030"/>
<text x="622.0" y="385.3" font-size="11" font-weight="bold" text-anchor="end" fill="#2e2e2e" stroke="#2e2e2e" stroke-width="0.08" >B53</text>
<text x="647.5" y="377.1" font-size="10.4" font-weight="bold" text-anchor="start" fill="#2e2e2e" stroke="#2e2e2e" stroke-width="0.08" >MR/PT</text>
<text x="916.0" y="321.0" font-size="14.9" font-weight="bold" text-anchor="start" fill="#2e2e2e" stroke="#2e2e2e" stroke-width="0.2" >Bobina de ignição</text>
<text x="916.0" y="335.2" font-size="10.5" font-weight="bold" text-anchor="start" fill="#2e2e2e" stroke="#2e2e2e" stroke-width="0.08" >B57 e B53 = 1,1 Ω</text>
<rect x="769.0" y="427.0" width="7.0" height="14.5" fill="#fefae4" stroke="#303030" stroke-width="1.8" rx="0"/>
<rect x="843.8" y="427.0" width="7.2" height="14.5" fill="#fefae4" stroke="#303030" stroke-width="1.8" rx="0"/>
<rect x="776.0" y="416.0" width="67.8" height="32.3" fill="#fefae4" stroke="#303030" stroke-width="2" rx="0"/>
<line x1="772.5" y1="434.3" x2="787.0" y2="434.3" stroke="#303030" stroke-width="1.6"/>
<path d="M787.0,434.3 C787.0,425.3 797.8,425.3 797.8,434.3 C797.8,425.3 808.5,425.3 808.5,434.3 C808.5,425.3 819.2,425.3 819.2,434.3 C819.2,425.3 830.0,425.3 830.0,434.3 " fill="none" stroke="#303030" stroke-width="2.2"/>
<line x1="830.0" y1="434.3" x2="848.0" y2="434.3" stroke="#303030" stroke-width="1.6"/>
<line x1="791.0" y1="421.5" x2="828.0" y2="421.5" stroke="#303030" stroke-width="1.2"/>
<line x1="791.0" y1="424.3" x2="828.0" y2="424.3" stroke="#303030" stroke-width="1.2"/>
<rect x="770.1" y="431.9" width="4.8" height="4.8" fill="#fff" stroke="#303030" stroke-width="1.1"/>
<rect x="844.9" y="431.9" width="4.8" height="4.8" fill="#fff" stroke="#303030" stroke-width="1.1"/>
<text x="781.0" y="430.0" font-size="10.5" font-weight="bold" text-anchor="start" fill="#2e2e2e" stroke="#2e2e2e" stroke-width="0.08" >2</text>
<text x="838.5" y="430.0" font-size="10.5" font-weight="bold" text-anchor="end" fill="#2e2e2e" stroke="#2e2e2e" stroke-width="0.08" >1</text>
<line x1="851.0" y1="434.3" x2="861.0" y2="434.3" stroke="#303030" stroke-width="2.8"/>
<rect x="861.0" y="428.7" width="35.2" height="13.1" fill="#fff" stroke="#303030" stroke-width="1.8" rx="0"/>
<text x="878.6" y="439.4" font-size="12" font-weight="bold" text-anchor="middle" fill="#2e2e2e" stroke="#2e2e2e" stroke-width="0.08" >F11</text>
<line x1="627.0" y1="434.3" x2="769.0" y2="434.3" stroke="#303030" stroke-width="3.0"/>
<circle cx="627.0" cy="434.3" r="2.2" fill="#303030"/>
<text x="622.0" y="438.5" font-size="11" font-weight="bold" text-anchor="end" fill="#2e2e2e" stroke="#2e2e2e" stroke-width="0.08" >B14</text>
<text x="647.5" y="430.3" font-size="10.4" font-weight="bold" text-anchor="start" fill="#2e2e2e" stroke="#2e2e2e" stroke-width="0.08" >AM/VD</text>
<text x="916.0" y="427.8" font-size="14.9" font-weight="bold" text-anchor="start" fill="#2e2e2e" stroke="#2e2e2e" stroke-width="0.2" >Eletroválvula de purga do</text>
<text x="916.0" y="445.0" font-size="14.9" font-weight="bold" text-anchor="start" fill="#2e2e2e" stroke="#2e2e2e" stroke-width="0.2" >canister</text>
<text x="916.0" y="459.0" font-size="10.5" font-weight="bold" text-anchor="start" fill="#2e2e2e" stroke="#2e2e2e" stroke-width="0.08" >B14 e F11 = 19,8 Ω</text>
<rect x="772.7" y="510.0" width="7.0" height="45.0" fill="#fefae4" stroke="#303030" stroke-width="1.8" rx="0"/>
<rect x="847.0" y="510.0" width="6.5" height="14.5" fill="#fefae4" stroke="#303030" stroke-width="1.8" rx="0"/>
<rect x="779.7" y="500.5" width="67.3" height="63.5" fill="#fefae4" stroke="#303030" stroke-width="2" rx="0"/>
<line x1="777.5" y1="517.4" x2="850.0" y2="517.4" stroke="#303030" stroke-width="3.0"/>
<rect x="794.8" y="509.5" width="38.8" height="15.2" fill="#6e6e6e" stroke="#303030" stroke-width="1.8" rx="0"/>
<circle cx="813.6" cy="517.4" r="7.5" fill="#fff" stroke="#303030" stroke-width="1.5"/>
<text x="813.6" y="522.0" font-size="12.5" font-weight="bold" text-anchor="middle" fill="#2e2e2e" stroke="#2e2e2e" stroke-width="0.08" >B</text>
<polyline points="777.5,533.2 813.6,533.2 813.6,537.0" fill="none" stroke="#303030" stroke-width="1.5" stroke-linejoin="miter"/>
<polygon points="810.6,535.5 816.6,535.5 813.6,540" fill="#303030"/>
<line x1="777.5" y1="547.7" x2="794.2" y2="547.7" stroke="#303030" stroke-width="3.0"/>
<rect x="794.2" y="541.0" width="39.4" height="14.0" fill="#a8a8ac" stroke="#303030" stroke-width="1.8" rx="0"/>
<rect x="775.1" y="515.0" width="4.8" height="4.8" fill="#fff" stroke="#303030" stroke-width="1.1"/>
<rect x="775.1" y="530.8" width="4.8" height="4.8" fill="#fff" stroke="#303030" stroke-width="1.1"/>
<rect x="775.1" y="545.3" width="4.8" height="4.8" fill="#fff" stroke="#303030" stroke-width="1.1"/>
<rect x="847.1" y="515.0" width="4.8" height="4.8" fill="#fff" stroke="#303030" stroke-width="1.1"/>
<text x="784.0" y="514.0" font-size="11" font-weight="bold" text-anchor="start" fill="#2e2e2e" stroke="#2e2e2e" stroke-width="0.08" >4</text>
<text x="784.0" y="529.5" font-size="11" font-weight="bold" text-anchor="start" fill="#2e2e2e" stroke="#2e2e2e" stroke-width="0.08" >2</text>
<text x="784.0" y="545.0" font-size="11" font-weight="bold" text-anchor="start" fill="#2e2e2e" stroke="#2e2e2e" stroke-width="0.08" >3</text>
<text x="843.0" y="514.0" font-size="11" font-weight="bold" text-anchor="end" fill="#2e2e2e" stroke="#2e2e2e" stroke-width="0.08" >1</text>
<rect x="734.1" y="507.8" width="1.8" height="19.2" fill="#303030"/>
<rect x="731.4" y="510.9" width="1.4" height="13.0" fill="#303030"/>
<rect x="728.5" y="512.4" width="1.4" height="10.0" fill="#303030"/>
<rect x="725.6" y="513.9" width="1.4" height="7.0" fill="#303030"/>
<rect x="722.7" y="515.4" width="1.4" height="4.0" fill="#303030"/>
<line x1="735.0" y1="517.4" x2="772.7" y2="517.4" stroke="#303030" stroke-width="3.0"/>
<line x1="853.5" y1="517.4" x2="861.0" y2="517.4" stroke="#303030" stroke-width="2.8"/>
<rect x="861.0" y="511.3" width="36.0" height="13.1" fill="#fff" stroke="#303030" stroke-width="1.8" rx="0"/>
<text x="879.0" y="522.0" font-size="11" font-weight="bold" text-anchor="middle" fill="#2e2e2e" stroke="#2e2e2e" stroke-width="0.08" >BOM</text>
<text x="916.0" y="522.0" font-size="14.9" font-weight="bold" text-anchor="start" fill="#2e2e2e" stroke="#2e2e2e" stroke-width="0.2" >Bomba de combustível</text>
<text x="916.0" y="544.5" font-size="14.9" font-weight="bold" text-anchor="start" fill="#2e2e2e" stroke="#2e2e2e" stroke-width="0.2" >Sensor de nível de</text>
<text x="916.0" y="560.4" font-size="14.9" font-weight="bold" text-anchor="start" fill="#2e2e2e" stroke="#2e2e2e" stroke-width="0.2" >combustível</text>
<rect x="772.7" y="580.0" width="7.0" height="36.0" fill="#fefae4" stroke="#303030" stroke-width="1.8" rx="0"/>
<rect x="847.0" y="590.5" width="6.5" height="15.5" fill="#fefae4" stroke="#303030" stroke-width="1.8" rx="0"/>
<rect x="779.7" y="573.8" width="67.3" height="48.5" fill="#fefae4" stroke="#303030" stroke-width="2" rx="0"/>
<rect x="801.5" y="590.8" width="24.3" height="14.5" fill="#a0a0a4" stroke="#303030" stroke-width="1.8" rx="0"/>
<line x1="796.0" y1="598.0" x2="801.5" y2="598.0" stroke="#303030" stroke-width="1.3"/>
<line x1="825.8" y1="598.0" x2="830.0" y2="598.0" stroke="#303030" stroke-width="1.3"/>
<line x1="813.6" y1="586.5" x2="813.6" y2="590.8" stroke="#303030" stroke-width="1.3"/>
<line x1="813.6" y1="605.3" x2="813.6" y2="609.5" stroke="#303030" stroke-width="1.3"/>
<rect x="775.1" y="587.8" width="4.8" height="4.8" fill="#fff" stroke="#303030" stroke-width="1.1"/>
<rect x="775.1" y="602.9" width="4.8" height="4.8" fill="#fff" stroke="#303030" stroke-width="1.1"/>
<rect x="847.1" y="595.6" width="4.8" height="4.8" fill="#fff" stroke="#303030" stroke-width="1.1"/>
<text x="784.0" y="594.5" font-size="11" font-weight="bold" text-anchor="start" fill="#2e2e2e" stroke="#2e2e2e" stroke-width="0.08" >1</text>
<text x="784.0" y="610.0" font-size="11" font-weight="bold" text-anchor="start" fill="#2e2e2e" stroke="#2e2e2e" stroke-width="0.08" >2</text>
<text x="842.0" y="602.5" font-size="11" font-weight="bold" text-anchor="end" fill="#2e2e2e" stroke="#2e2e2e" stroke-width="0.08" >3</text>
<line x1="853.5" y1="598.0" x2="862.7" y2="598.0" stroke="#303030" stroke-width="3.0"/>
<rect x="862.7" y="591.5" width="34.0" height="13.8" fill="#fff" stroke="#303030" stroke-width="1.8" rx="0"/>
<text x="879.7" y="602.5" font-size="11" font-weight="bold" text-anchor="middle" fill="#2e2e2e" stroke="#2e2e2e" stroke-width="0.08" >F108</text>
<polyline points="772.7,590.2 718.6,590.2 718.6,738.0 773.0,738.0" fill="none" stroke="#303030" stroke-width="1.8" stroke-linejoin="miter"/>
<polyline points="772.7,605.3 733.0,605.3 733.0,723.7 773.0,723.7" fill="none" stroke="#303030" stroke-width="1.8" stroke-linejoin="miter"/>
<text x="766.0" y="586.0" font-size="10.4" font-weight="bold" text-anchor="end" fill="#2e2e2e" stroke="#2e2e2e" stroke-width="0.08" >MR/BR</text>
<text x="766.0" y="601.5" font-size="10.4" font-weight="bold" text-anchor="end" fill="#2e2e2e" stroke="#2e2e2e" stroke-width="0.08" >BR</text>
<text x="916.0" y="588.5" font-size="14.9" font-weight="bold" text-anchor="start" fill="#2e2e2e" stroke="#2e2e2e" stroke-width="0.2" >Sensor de velocidade</text>
<text x="916.0" y="605.3" font-size="14.9" font-weight="bold" text-anchor="start" fill="#2e2e2e" stroke="#2e2e2e" stroke-width="0.2" >(veículo sem ABS)</text>
<polyline points="772.7,533.2 688.0,533.2 688.0,768.0 773.0,768.0" fill="none" stroke="#303030" stroke-width="1.8" stroke-linejoin="miter"/>
<polyline points="772.7,547.7 703.6,547.7 703.6,753.0 773.0,753.0" fill="none" stroke="#303030" stroke-width="1.8" stroke-linejoin="miter"/>
<rect x="773.0" y="645.0" width="6.3" height="25.0" fill="#fde0a0" stroke="#303030" stroke-width="1.8" rx="0"/>
<rect x="779.3" y="635.7" width="67.7" height="43.0" fill="#fde0a0" stroke="#303030" stroke-width="2" rx="0"/>
<circle cx="828.4" cy="657.5" r="11.5" fill="#fff" stroke="#303030" stroke-width="1.8"/>
<line x1="816.9" y1="657.5" x2="825.4" y2="657.5" stroke="#303030" stroke-width="2"/>
<rect x="824.1" y="650.0" width="2.5" height="15.0" fill="#303030"/>
<path d="M826.4,654.0 L831.4,650.5 L831.4,646.5" fill="none" stroke="#303030" stroke-width="1.6"/>
<path d="M826.4,661.0 L831.4,664.5 L831.4,668.5" fill="none" stroke="#303030" stroke-width="1.6"/>
<rect x="773.6" y="655.2" width="4.8" height="4.8" fill="#fff" stroke="#303030" stroke-width="1.1"/>
<text x="784.0" y="662.0" font-size="10.5" font-weight="bold" text-anchor="start" fill="#2e2e2e" stroke="#2e2e2e" stroke-width="0.08" >D+</text>
<polyline points="773.0,657.6 749.0,657.6 749.0,708.7 773.0,708.7" fill="none" stroke="#303030" stroke-width="1.8" stroke-linejoin="miter"/>
<text x="766.0" y="653.5" font-size="10.4" font-weight="bold" text-anchor="end" fill="#2e2e2e" stroke="#2e2e2e" stroke-width="0.08" >LR/PT</text>
<text x="916.0" y="661.4" font-size="14.9" font-weight="bold" text-anchor="start" fill="#2e2e2e" stroke="#2e2e2e" stroke-width="0.2" >Alternador</text>
<rect x="773.3" y="699.0" width="6.0" height="170.0" fill="#fde0a0" stroke="#303030" stroke-width="1.8" rx="0"/>
<rect x="847.0" y="697.0" width="7.0" height="117.0" fill="#fde0a0" stroke="#303030" stroke-width="1.8" rx="0"/>
<rect x="779.3" y="693.7" width="67.7" height="182.3" fill="#fde0a0" stroke="#303030" stroke-width="2" rx="0"/>
<rect x="773.6" y="706.3" width="4.8" height="4.8" fill="#fff" stroke="#303030" stroke-width="1.1"/>
<text x="784.0" y="713.0" font-size="10.5" font-weight="bold" text-anchor="start" fill="#2e2e2e" stroke="#2e2e2e" stroke-width="0.08" >A17</text>
<rect x="773.6" y="721.3" width="4.8" height="4.8" fill="#fff" stroke="#303030" stroke-width="1.1"/>
<text x="784.0" y="728.0" font-size="10.5" font-weight="bold" text-anchor="start" fill="#2e2e2e" stroke="#2e2e2e" stroke-width="0.08" >A22</text>
<rect x="773.6" y="735.6" width="4.8" height="4.8" fill="#fff" stroke="#303030" stroke-width="1.1"/>
<text x="784.0" y="742.3" font-size="10.5" font-weight="bold" text-anchor="start" fill="#2e2e2e" stroke="#2e2e2e" stroke-width="0.08" >A23</text>
<rect x="773.6" y="750.6" width="4.8" height="4.8" fill="#fff" stroke="#303030" stroke-width="1.1"/>
<text x="784.0" y="757.3" font-size="10.5" font-weight="bold" text-anchor="start" fill="#2e2e2e" stroke="#2e2e2e" stroke-width="0.08" >B26</text>
<rect x="773.6" y="765.6" width="4.8" height="4.8" fill="#fff" stroke="#303030" stroke-width="1.1"/>
<text x="784.0" y="772.3" font-size="10.5" font-weight="bold" text-anchor="start" fill="#2e2e2e" stroke="#2e2e2e" stroke-width="0.08" >B27</text>
<rect x="773.6" y="781.1" width="4.8" height="4.8" fill="#fff" stroke="#303030" stroke-width="1.1"/>
<text x="784.0" y="787.8" font-size="10.5" font-weight="bold" text-anchor="start" fill="#2e2e2e" stroke="#2e2e2e" stroke-width="0.08" >A31</text>
<rect x="773.6" y="796.1" width="4.8" height="4.8" fill="#fff" stroke="#303030" stroke-width="1.1"/>
<text x="784.0" y="802.8" font-size="10.5" font-weight="bold" text-anchor="start" fill="#2e2e2e" stroke="#2e2e2e" stroke-width="0.08" >A15</text>
<rect x="773.6" y="810.6" width="4.8" height="4.8" fill="#fff" stroke="#303030" stroke-width="1.1"/>
<text x="784.0" y="817.3" font-size="10.5" font-weight="bold" text-anchor="start" fill="#2e2e2e" stroke="#2e2e2e" stroke-width="0.08" >A14</text>
<rect x="773.6" y="825.6" width="4.8" height="4.8" fill="#fff" stroke="#303030" stroke-width="1.1"/>
<text x="784.0" y="832.3" font-size="10.5" font-weight="bold" text-anchor="start" fill="#2e2e2e" stroke="#2e2e2e" stroke-width="0.08" >A30</text>
<rect x="773.6" y="840.6" width="4.8" height="4.8" fill="#fff" stroke="#303030" stroke-width="1.1"/>
<text x="784.0" y="847.3" font-size="10.5" font-weight="bold" text-anchor="start" fill="#2e2e2e" stroke="#2e2e2e" stroke-width="0.08" >A28</text>
<rect x="773.6" y="855.0" width="4.8" height="4.8" fill="#fff" stroke="#303030" stroke-width="1.1"/>
<text x="784.0" y="861.7" font-size="10.5" font-weight="bold" text-anchor="start" fill="#2e2e2e" stroke="#2e2e2e" stroke-width="0.08" >A29</text>
<rect x="848.1" y="707.6" width="4.8" height="4.8" fill="#fff" stroke="#303030" stroke-width="1.1"/>
<text x="844.0" y="714.3" font-size="10.5" font-weight="bold" text-anchor="end" fill="#2e2e2e" stroke="#2e2e2e" stroke-width="0.08" >A06</text>
<rect x="848.1" y="730.6" width="4.8" height="4.8" fill="#fff" stroke="#303030" stroke-width="1.1"/>
<text x="844.0" y="737.3" font-size="10.5" font-weight="bold" text-anchor="end" fill="#2e2e2e" stroke="#2e2e2e" stroke-width="0.08" >A07</text>
<rect x="848.1" y="753.1" width="4.8" height="4.8" fill="#fff" stroke="#303030" stroke-width="1.1"/>
<text x="844.0" y="759.8" font-size="10.5" font-weight="bold" text-anchor="end" fill="#2e2e2e" stroke="#2e2e2e" stroke-width="0.08" >A01</text>
<rect x="848.1" y="777.4" width="4.8" height="4.8" fill="#fff" stroke="#303030" stroke-width="1.1"/>
<text x="844.0" y="784.1" font-size="10.5" font-weight="bold" text-anchor="end" fill="#2e2e2e" stroke="#2e2e2e" stroke-width="0.08" >A08</text>
<rect x="848.1" y="799.8" width="4.8" height="4.8" fill="#fff" stroke="#303030" stroke-width="1.1"/>
<text x="844.0" y="806.5" font-size="10.5" font-weight="bold" text-anchor="end" fill="#2e2e2e" stroke="#2e2e2e" stroke-width="0.08" >A24</text>
<circle cx="828.4" cy="853.0" r="11.5" fill="#fff" stroke="#303030" stroke-width="1.8"/>
<line x1="816.9" y1="853.0" x2="825.4" y2="853.0" stroke="#303030" stroke-width="2"/>
<rect x="824.1" y="845.5" width="2.5" height="15.0" fill="#303030"/>
<path d="M826.4,849.5 L831.4,846 L831.4,842.0" fill="none" stroke="#303030" stroke-width="1.6"/>
<path d="M826.4,856.5 L831.4,860 L831.4,864.0" fill="none" stroke="#303030" stroke-width="1.6"/>
<line x1="854.0" y1="710.0" x2="862.0" y2="710.0" stroke="#303030" stroke-width="2.8"/>
<rect x="862.0" y="703.0" width="34.0" height="14.0" fill="#fff" stroke="#303030" stroke-width="1.8" rx="0"/>
<text x="879.0" y="714.1" font-size="10.5" font-weight="bold" text-anchor="middle" fill="#2e2e2e" stroke="#2e2e2e" stroke-width="0.08" >F105</text>
<line x1="854.0" y1="733.0" x2="862.0" y2="733.0" stroke="#303030" stroke-width="2.8"/>
<rect x="862.0" y="726.0" width="34.0" height="14.0" fill="#fff" stroke="#303030" stroke-width="1.8" rx="0"/>
<text x="879.0" y="737.1" font-size="10.5" font-weight="bold" text-anchor="middle" fill="#2e2e2e" stroke="#2e2e2e" stroke-width="0.08" >F105</text>
<line x1="854.0" y1="755.5" x2="862.0" y2="755.5" stroke="#303030" stroke-width="2.8"/>
<rect x="862.0" y="748.5" width="34.0" height="14.0" fill="#fff" stroke="#303030" stroke-width="1.8" rx="0"/>
<text x="879.0" y="759.6" font-size="10.5" font-weight="bold" text-anchor="middle" fill="#2e2e2e" stroke="#2e2e2e" stroke-width="0.08" >F16</text>
<line x1="854.0" y1="779.8" x2="884.5" y2="779.8" stroke="#303030" stroke-width="3.0"/>
<rect x="883.3" y="769.8" width="2.4" height="20.0" fill="#303030"/>
<polygon points="884.5,771.8 891.0,777.0 898.0,777.0 898.0,782.6 891.0,782.6 884.5,787.8" fill="#303030"/>
<line x1="854.0" y1="802.2" x2="884.5" y2="802.2" stroke="#303030" stroke-width="3.0"/>
<rect x="883.3" y="792.2" width="2.4" height="20.0" fill="#303030"/>
<polygon points="884.5,794.2 891.0,799.4 898.0,799.4 898.0,805.0 891.0,805.0 884.5,810.2" fill="#303030"/>
<text x="916.0" y="782.6" font-size="14.9" font-weight="bold" text-anchor="start" fill="#2e2e2e" stroke="#2e2e2e" stroke-width="0.2" >Painel de instrumentos</text>
<line x1="627.0" y1="782.6" x2="773.0" y2="782.6" stroke="#2aa6e0" stroke-width="3.4"/>
<circle cx="627.0" cy="782.6" r="2.2" fill="#2aa6e0"/>
<text x="622.0" y="786.8" font-size="11" font-weight="bold" text-anchor="end" fill="#2e2e2e" stroke="#2e2e2e" stroke-width="0.08" >A13</text>
<text x="647.5" y="778.6" font-size="10.4" font-weight="bold" text-anchor="start" fill="#2e2e2e" stroke="#2e2e2e" stroke-width="0.08" >BR/RS</text>
<line x1="627.0" y1="797.5" x2="773.0" y2="797.5" stroke="#e13a3a" stroke-width="3.4"/>
<circle cx="627.0" cy="797.5" r="2.2" fill="#e13a3a"/>
<text x="622.0" y="801.7" font-size="11" font-weight="bold" text-anchor="end" fill="#2e2e2e" stroke="#2e2e2e" stroke-width="0.08" >A14</text>
<text x="647.5" y="793.5" font-size="10.4" font-weight="bold" text-anchor="start" fill="#2e2e2e" stroke="#2e2e2e" stroke-width="0.08" >MR/PT</text>
<text x="765.3" y="778.8" font-size="8.5" font-weight="normal" text-anchor="end" fill="#2e2e2e"  >CAN-L</text>
<text x="765.3" y="793.8" font-size="8.5" font-weight="normal" text-anchor="end" fill="#2e2e2e"  >CAN-H</text>
<polyline points="806.0,783.5 822.0,783.5 822.0,828.0 806.0,828.0" fill="none" stroke="#2aa6e0" stroke-width="1.8" stroke-linejoin="miter"/>
<polyline points="806.0,798.5 814.4,798.5 814.4,813.0 806.0,813.0" fill="none" stroke="#e13a3a" stroke-width="1.8" stroke-linejoin="miter"/>
<polyline points="773.0,813.0 681.0,813.0 681.0,986.0 819.0,986.0" fill="none" stroke="#e13a3a" stroke-width="2" stroke-linejoin="miter"/>
<polyline points="773.0,828.0 696.6,828.0 696.6,964.0 819.0,964.0" fill="none" stroke="#2aa6e0" stroke-width="2" stroke-linejoin="miter"/>
<polyline points="773.0,843.0 711.5,843.0 711.5,921.5 773.0,921.5" fill="none" stroke="#303030" stroke-width="1.8" stroke-linejoin="miter"/>
<polyline points="773.0,857.4 726.5,857.4 726.5,905.5 773.0,905.5" fill="none" stroke="#303030" stroke-width="1.8" stroke-linejoin="miter"/>
<rect x="772.3" y="897.7" width="7.3" height="34.3" fill="#e5eed6" stroke="#303030" stroke-width="1.8" rx="0"/>
<rect x="779.6" y="888.3" width="67.2" height="49.9" fill="#e5eed6" stroke="#303030" stroke-width="2" rx="0"/>
<rect x="773.6" y="903.1" width="4.8" height="4.8" fill="#fff" stroke="#303030" stroke-width="1.1"/>
<rect x="773.6" y="919.1" width="4.8" height="4.8" fill="#fff" stroke="#303030" stroke-width="1.1"/>
<text x="782.0" y="902.0" font-size="11" font-weight="bold" text-anchor="start" fill="#2e2e2e" stroke="#2e2e2e" stroke-width="0.08" >2</text>
<text x="782.0" y="918.0" font-size="11" font-weight="bold" text-anchor="start" fill="#2e2e2e" stroke="#2e2e2e" stroke-width="0.08" >1</text>
<line x1="779.3" y1="905.5" x2="791.0" y2="905.5" stroke="#303030" stroke-width="1.6"/>
<path d="M791.0,905.5 C791.0,896.5 801.5,896.5 801.5,905.5 C801.5,896.5 812.0,896.5 812.0,905.5 C812.0,896.5 822.5,896.5 822.5,905.5 C822.5,896.5 833.0,896.5 833.0,905.5 " fill="none" stroke="#303030" stroke-width="2.2"/>
<polyline points="833.0,905.5 840.6,905.5 840.6,921.5 779.3,921.5" fill="none" stroke="#303030" stroke-width="1.6" stroke-linejoin="miter"/>
<line x1="795.3" y1="894.3" x2="831.6" y2="894.3" stroke="#303030" stroke-width="1.6"/>
<line x1="795.3" y1="898.0" x2="831.6" y2="898.0" stroke="#303030" stroke-width="1.6"/>
<text x="766.0" y="901.5" font-size="10.4" font-weight="bold" text-anchor="end" fill="#2e2e2e" stroke="#2e2e2e" stroke-width="0.08" >VD/PT</text>
<text x="766.0" y="917.5" font-size="10.4" font-weight="bold" text-anchor="end" fill="#2e2e2e" stroke="#2e2e2e" stroke-width="0.08" >PT/VI</text>
<text x="916.0" y="918.0" font-size="14.9" font-weight="bold" text-anchor="start" fill="#2e2e2e" stroke="#2e2e2e" stroke-width="0.2" >Antena CODE</text>
<text x="916.0" y="929.4" font-size="10.5" font-weight="bold" text-anchor="start" fill="#2e2e2e" stroke="#2e2e2e" stroke-width="0.08" >C04 e C05 = 40,5 Ω</text>
<rect x="819.0" y="952.5" width="22.5" height="157.5" fill="#fff" stroke="#303030" stroke-width="1.8" rx="0"/>
<circle cx="829.8" cy="963.2" r="3.6" fill="#fff" stroke="#303030" stroke-width="1.5"/>
<text x="849.5" y="967.7" font-size="12.5" font-weight="bold" text-anchor="start" fill="#2e2e2e" stroke="#2e2e2e" stroke-width="0.08" >14</text>
<circle cx="829.8" cy="985.2" r="3.6" fill="#fff" stroke="#303030" stroke-width="1.5"/>
<text x="849.5" y="989.7" font-size="12.5" font-weight="bold" text-anchor="start" fill="#2e2e2e" stroke="#2e2e2e" stroke-width="0.08" >06</text>
<circle cx="829.8" cy="1007.0" r="3.6" fill="#fff" stroke="#303030" stroke-width="1.5"/>
<text x="849.5" y="1011.5" font-size="12.5" font-weight="bold" text-anchor="start" fill="#2e2e2e" stroke="#2e2e2e" stroke-width="0.08" >07</text>
<circle cx="829.8" cy="1030.5" r="3.6" fill="#fff" stroke="#303030" stroke-width="1.5"/>
<text x="849.5" y="1035.0" font-size="12.5" font-weight="bold" text-anchor="start" fill="#2e2e2e" stroke="#2e2e2e" stroke-width="0.08" >04</text>
<circle cx="829.8" cy="1053.0" r="3.6" fill="#fff" stroke="#303030" stroke-width="1.5"/>
<text x="849.5" y="1057.5" font-size="12.5" font-weight="bold" text-anchor="start" fill="#2e2e2e" stroke="#2e2e2e" stroke-width="0.08" >05</text>
<circle cx="829.8" cy="1075.4" r="3.6" fill="#fff" stroke="#303030" stroke-width="1.5"/>
<text x="849.5" y="1079.9" font-size="12.5" font-weight="bold" text-anchor="start" fill="#2e2e2e" stroke="#2e2e2e" stroke-width="0.08" >16</text>
<circle cx="829.8" cy="1097.4" r="3.6" fill="#fff" stroke="#303030" stroke-width="1.5"/>
<text x="849.5" y="1101.9" font-size="12.5" font-weight="bold" text-anchor="start" fill="#2e2e2e" stroke="#2e2e2e" stroke-width="0.08" >01</text>
<text x="751.0" y="957.0" font-size="8.5" font-weight="normal" text-anchor="middle" fill="#2e2e2e"  >CAN-L</text>
<text x="751.0" y="980.5" font-size="8.5" font-weight="normal" text-anchor="middle" fill="#2e2e2e"  >CAN-H</text>
<text x="751.0" y="1002.5" font-size="8.5" font-weight="normal" text-anchor="middle" fill="#2e2e2e"  >Linha K</text>
<line x1="627.0" y1="1007.0" x2="819.0" y2="1007.0" stroke="#303030" stroke-width="3.4"/>
<circle cx="627.0" cy="1007.0" r="2.2" fill="#303030"/>
<text x="622.0" y="1011.2" font-size="11" font-weight="bold" text-anchor="end" fill="#2e2e2e" stroke="#2e2e2e" stroke-width="0.08" >A18</text>
<text x="647.5" y="1003.0" font-size="10.4" font-weight="bold" text-anchor="start" fill="#2e2e2e" stroke="#2e2e2e" stroke-width="0.08" >BR/LR</text>
<rect x="791.1" y="1020.9" width="1.8" height="19.2" fill="#303030"/>
<rect x="788.4" y="1024.0" width="1.4" height="13.0" fill="#303030"/>
<rect x="785.5" y="1025.5" width="1.4" height="10.0" fill="#303030"/>
<rect x="782.6" y="1027.0" width="1.4" height="7.0" fill="#303030"/>
<rect x="779.7" y="1028.5" width="1.4" height="4.0" fill="#303030"/>
<line x1="792.0" y1="1030.5" x2="819.0" y2="1030.5" stroke="#303030" stroke-width="3.4"/>
<rect x="791.1" y="1043.4" width="1.8" height="19.2" fill="#303030"/>
<rect x="788.4" y="1046.5" width="1.4" height="13.0" fill="#303030"/>
<rect x="785.5" y="1048.0" width="1.4" height="10.0" fill="#303030"/>
<rect x="782.6" y="1049.5" width="1.4" height="7.0" fill="#303030"/>
<rect x="779.7" y="1051.0" width="1.4" height="4.0" fill="#303030"/>
<line x1="792.0" y1="1053.0" x2="819.0" y2="1053.0" stroke="#303030" stroke-width="3.4"/>
<rect x="743.0" y="1068.4" width="33.0" height="14.0" fill="#fff" stroke="#303030" stroke-width="1.8" rx="0"/>
<text x="759.5" y="1079.5" font-size="10.5" font-weight="bold" text-anchor="middle" fill="#2e2e2e" stroke="#2e2e2e" stroke-width="0.08" >F104</text>
<line x1="776.0" y1="1075.4" x2="819.0" y2="1075.4" stroke="#303030" stroke-width="3.0"/>
<polyline points="819.0,1097.4 749.0,1097.4 749.0,1150.2 773.0,1150.2" fill="none" stroke="#303030" stroke-width="1.8" stroke-linejoin="miter"/>
<text x="916.0" y="968.0" font-size="14.9" font-weight="bold" text-anchor="start" fill="#2e2e2e" stroke="#2e2e2e" stroke-width="0.2" >Tomada de diagnose</text>
<text x="916.0" y="980.5" font-size="10.5" font-weight="bold" text-anchor="start" fill="#2e2e2e" stroke="#2e2e2e" stroke-width="0.08" >06 e massa  = Vmin = 0V</text>
<text x="916.0" y="992.2" font-size="10.5" font-weight="bold" text-anchor="start" fill="#2e2e2e" stroke="#2e2e2e" stroke-width="0.08" >06 e massa  = Vmax = 1V</text>
<text x="916.0" y="1004.0" font-size="10.5" font-weight="bold" text-anchor="start" fill="#2e2e2e" stroke="#2e2e2e" stroke-width="0.08" >14 e massa  = Vmin = 2,2V</text>
<text x="916.0" y="1015.6" font-size="10.5" font-weight="bold" text-anchor="start" fill="#2e2e2e" stroke="#2e2e2e" stroke-width="0.08" >14 e massa  = Vmax = 4,9V</text>
<rect x="773.0" y="1140.0" width="6.3" height="22.0" fill="#fde0a0" stroke="#303030" stroke-width="1.8" rx="0"/>
<rect x="779.3" y="1130.0" width="67.7" height="43.6" fill="#fde0a0" stroke="#303030" stroke-width="2" rx="0"/>
<rect x="773.6" y="1147.8" width="4.8" height="4.8" fill="#fff" stroke="#303030" stroke-width="1.1"/>
<text x="784.0" y="1154.5" font-size="10.5" font-weight="bold" text-anchor="start" fill="#2e2e2e" stroke="#2e2e2e" stroke-width="0.08" >17</text>
<circle cx="828.4" cy="1152.0" r="11.5" fill="#fff" stroke="#303030" stroke-width="1.8"/>
<line x1="816.9" y1="1152.0" x2="825.4" y2="1152.0" stroke="#303030" stroke-width="2"/>
<rect x="824.1" y="1144.5" width="2.5" height="15.0" fill="#303030"/>
<path d="M826.4,1148.5 L831.4,1145 L831.4,1141.0" fill="none" stroke="#303030" stroke-width="1.6"/>
<path d="M826.4,1155.5 L831.4,1159 L831.4,1163.0" fill="none" stroke="#303030" stroke-width="1.6"/>
<text x="916.0" y="1153.5" font-size="14.9" font-weight="bold" text-anchor="start" fill="#2e2e2e" stroke="#2e2e2e" stroke-width="0.2" >ABS</text>
<defs><linearGradient id="bg" x1="0" y1="0" x2="1" y2="0"><stop offset="0" stop-color="#ffffff"/><stop offset="0.12" stop-color="#f4fafd"/><stop offset="0.5" stop-color="#c9e8f7"/><stop offset="1" stop-color="#86cdf0"/></linearGradient></defs>
<rect x="650" y="1201" width="470.5" height="189.5" fill="url(#bg)"/>
<rect x="769.0" y="1229.0" width="7.0" height="48.0" fill="#fbe7f0" stroke="#303030" stroke-width="1.8" rx="0"/>
<rect x="843.4" y="1229.0" width="6.9" height="48.0" fill="#fbe7f0" stroke="#303030" stroke-width="1.8" rx="0"/>
<rect x="776.0" y="1225.5" width="67.4" height="54.8" fill="#fbe7f0" stroke="#303030" stroke-width="2" rx="0"/>
<text x="779.5" y="1236.5" font-size="10" font-weight="bold" text-anchor="start" fill="#2e2e2e" stroke="#2e2e2e" stroke-width="0.08" >85</text>
<text x="839.9" y="1236.5" font-size="10" font-weight="bold" text-anchor="end" fill="#2e2e2e" stroke="#2e2e2e" stroke-width="0.08" >86</text>
<text x="779.5" y="1274.2" font-size="10" font-weight="bold" text-anchor="start" fill="#2e2e2e" stroke="#2e2e2e" stroke-width="0.08" >87</text>
<text x="839.9" y="1274.2" font-size="10" font-weight="bold" text-anchor="end" fill="#2e2e2e" stroke="#2e2e2e" stroke-width="0.08" >30</text>
<line x1="772.5" y1="1241.0" x2="787.5" y2="1241.0" stroke="#303030" stroke-width="1.6"/>
<path d="M787.5,1241 C787.5,1251 798.9,1251 798.9,1241 C798.9,1251 810.2,1251 810.2,1241 C810.2,1251 821.6,1251 821.6,1241 C821.5,1251 832.9,1251 832.9,1241 " fill="none" stroke="#303030" stroke-width="2.3"/>
<line x1="832.9" y1="1241.0" x2="846.8" y2="1241.0" stroke="#303030" stroke-width="1.6"/>
<rect x="792.0" y="1249.4" width="35.4" height="6.4" fill="#333"/>
<line x1="772.5" y1="1263.2" x2="804.0" y2="1263.2" stroke="#303030" stroke-width="3.1999999999999997"/>
<line x1="815.5" y1="1263.2" x2="846.8" y2="1263.2" stroke="#303030" stroke-width="3.1999999999999997"/>
<line x1="815.5" y1="1263.2" x2="803.5" y2="1274.2" stroke="#303030" stroke-width="1.6"/>
<polygon points="802.5,1275.2 804,1269.7 808,1273.2" fill="#303030"/>
<rect x="770.1" y="1238.6" width="4.8" height="4.8" fill="#fff" stroke="#303030" stroke-width="1.1"/>
<rect x="844.4" y="1238.6" width="4.8" height="4.8" fill="#fff" stroke="#303030" stroke-width="1.1"/>
<rect x="770.1" y="1260.8" width="4.8" height="4.8" fill="#fff" stroke="#303030" stroke-width="1.1"/>
<rect x="844.4" y="1260.8" width="4.8" height="4.8" fill="#fff" stroke="#303030" stroke-width="1.1"/>
<line x1="850.3" y1="1241.0" x2="860.5" y2="1241.0" stroke="#303030" stroke-width="2.8"/>
<rect x="860.5" y="1234.7" width="35.3" height="12.6" fill="#fff" stroke="#303030" stroke-width="1.8" rx="0"/>
<text x="878.1" y="1245.1" font-size="12" font-weight="bold" text-anchor="middle" fill="#2e2e2e" stroke="#2e2e2e" stroke-width="0.08" >+30</text>
<line x1="850.3" y1="1263.2" x2="860.5" y2="1263.2" stroke="#303030" stroke-width="2.8"/>
<rect x="860.5" y="1256.9" width="35.3" height="12.6" fill="#fff" stroke="#303030" stroke-width="1.8" rx="0"/>
<text x="878.1" y="1267.3" font-size="12" font-weight="bold" text-anchor="middle" fill="#2e2e2e" stroke="#2e2e2e" stroke-width="0.08" >F06</text>
<line x1="627.0" y1="1241.0" x2="769.0" y2="1241.0" stroke="#303030" stroke-width="3.4"/>
<circle cx="627.0" cy="1241.0" r="2.2" fill="#303030"/>
<text x="622.0" y="1245.2" font-size="11" font-weight="bold" text-anchor="end" fill="#2e2e2e" stroke="#2e2e2e" stroke-width="0.08" >A19</text>
<text x="647.5" y="1237.0" font-size="10.4" font-weight="bold" text-anchor="start" fill="#2e2e2e" stroke="#2e2e2e" stroke-width="0.08" >VI/PT</text>
<polyline points="769.0,1263.2 718.0,1263.2 718.0,1311.0 772.0,1311.0" fill="none" stroke="#303030" stroke-width="1.8" stroke-linejoin="miter"/>
<text x="916.0" y="1248.5" font-size="14.9" font-weight="bold" text-anchor="start" fill="#2e2e2e" stroke="#2e2e2e" stroke-width="0.2" >T06 - Relé da 1ª velocidade</text>
<text x="916.0" y="1265.6" font-size="14.9" font-weight="bold" text-anchor="start" fill="#2e2e2e" stroke="#2e2e2e" stroke-width="0.2" >do ventilador do radiador</text>
<text x="916.0" y="1280.3" font-size="10.5" font-weight="bold" text-anchor="start" fill="#2e2e2e" stroke="#2e2e2e" stroke-width="0.08" >A19 e A52 = 82,5 Ω</text>
<rect x="767.6" y="1304.5" width="8.4" height="33.5" fill="#fbe7f0" stroke="#303030" stroke-width="1.8" rx="0"/>
<rect x="776.0" y="1299.0" width="73.3" height="58.0" fill="#fbe7f0" stroke="#303030" stroke-width="2" rx="0"/>
<polyline points="772.0,1311.0 843.0,1311.0 843.0,1327.3 833.0,1327.3" fill="none" stroke="#303030" stroke-width="1.6" stroke-linejoin="miter"/>
<path d="M833,1327.3 C833.0,1337.3 822.2,1337.3 822.2,1327.3 C822.2,1337.3 811.5,1337.3 811.5,1327.3 C811.5,1337.3 800.8,1337.3 800.8,1327.3 C800.8,1337.3 790.0,1337.3 790.0,1327.3 " fill="none" stroke="#303030" stroke-width="2.3"/>
<line x1="772.0" y1="1327.3" x2="790.0" y2="1327.3" stroke="#303030" stroke-width="1.8"/>
<rect x="791.6" y="1338.0" width="33.4" height="6.0" fill="#333"/>
<rect x="769.1" y="1308.6" width="4.8" height="4.8" fill="#fff" stroke="#303030" stroke-width="1.1"/>
<rect x="769.1" y="1324.9" width="4.8" height="4.8" fill="#fff" stroke="#303030" stroke-width="1.1"/>
<text x="761.0" y="1307.0" font-size="10.4" font-weight="bold" text-anchor="end" fill="#2e2e2e" stroke="#2e2e2e" stroke-width="0.08" >BR</text>
<text x="761.0" y="1323.5" font-size="10.4" font-weight="bold" text-anchor="end" fill="#2e2e2e" stroke="#2e2e2e" stroke-width="0.08" >PT</text>
<rect x="735.1" y="1317.7" width="1.8" height="19.2" fill="#303030"/>
<rect x="732.4" y="1320.8" width="1.4" height="13.0" fill="#303030"/>
<rect x="729.5" y="1322.3" width="1.4" height="10.0" fill="#303030"/>
<rect x="726.6" y="1323.8" width="1.4" height="7.0" fill="#303030"/>
<rect x="723.7" y="1325.3" width="1.4" height="4.0" fill="#303030"/>
<line x1="736.0" y1="1327.3" x2="768.0" y2="1327.3" stroke="#303030" stroke-width="3.4"/>
<text x="916.0" y="1328.0" font-size="14.9" font-weight="bold" text-anchor="start" fill="#2e2e2e" stroke="#2e2e2e" stroke-width="0.2" >Eletro ventilador do radiador</text>
<text x="916.0" y="1341.4" font-size="10.5" font-weight="bold" text-anchor="start" fill="#2e2e2e" stroke="#2e2e2e" stroke-width="0.08" >87 de T06 massa = 1,6 Ω</text>
<text x="904.6" y="1367.4" font-size="12.5" font-weight="normal" text-anchor="start" fill="#d8141c"  letter-spacing="0.73" stroke="#d8141c" stroke-width="0.3">sem AR CONDICIONADO</text>
<rect x="703.5" y="1394.7" width="428.5" height="480.5" fill="none" stroke="#2ed52e" stroke-width="2.6"/>
<rect x="768.7" y="1406.3" width="7.3" height="46.3" fill="#fbe7f0" stroke="#303030" stroke-width="1.8" rx="0"/>
<rect x="842.7" y="1404.5" width="7.8" height="42.9" fill="#fbe7f0" stroke="#303030" stroke-width="1.8" rx="0"/>
<rect x="776.0" y="1400.4" width="66.7" height="54.8" fill="#fbe7f0" stroke="#303030" stroke-width="2" rx="0"/>
<text x="779.5" y="1411.7" font-size="10" font-weight="bold" text-anchor="start" fill="#2e2e2e" stroke="#2e2e2e" stroke-width="0.08" >85</text>
<text x="839.2" y="1411.7" font-size="10" font-weight="bold" text-anchor="end" fill="#2e2e2e" stroke="#2e2e2e" stroke-width="0.08" >86</text>
<text x="779.5" y="1450.0" font-size="10" font-weight="bold" text-anchor="start" fill="#2e2e2e" stroke="#2e2e2e" stroke-width="0.08" >87</text>
<text x="839.2" y="1450.0" font-size="10" font-weight="bold" text-anchor="end" fill="#2e2e2e" stroke="#2e2e2e" stroke-width="0.08" >30</text>
<line x1="772.4" y1="1416.2" x2="787.5" y2="1416.2" stroke="#303030" stroke-width="1.6"/>
<path d="M787.5,1416.2 C787.5,1426.2 798.7,1426.2 798.7,1416.2 C798.7,1426.2 809.8,1426.2 809.8,1416.2 C809.9,1426.2 821.0,1426.2 821.0,1416.2 C821.0,1426.2 832.2,1426.2 832.2,1416.2 " fill="none" stroke="#303030" stroke-width="2.3"/>
<line x1="832.2" y1="1416.2" x2="846.6" y2="1416.2" stroke="#303030" stroke-width="1.6"/>
<rect x="792.0" y="1424.9" width="34.7" height="6.4" fill="#333"/>
<line x1="772.4" y1="1439.0" x2="804.0" y2="1439.0" stroke="#303030" stroke-width="3.1999999999999997"/>
<line x1="815.5" y1="1439.0" x2="846.6" y2="1439.0" stroke="#303030" stroke-width="3.1999999999999997"/>
<line x1="815.5" y1="1439.0" x2="803.5" y2="1450.0" stroke="#303030" stroke-width="1.6"/>
<polygon points="802.5,1451 804,1445.5 808,1449" fill="#303030"/>
<rect x="770.0" y="1413.8" width="4.8" height="4.8" fill="#fff" stroke="#303030" stroke-width="1.1"/>
<rect x="844.2" y="1413.8" width="4.8" height="4.8" fill="#fff" stroke="#303030" stroke-width="1.1"/>
<rect x="770.0" y="1436.6" width="4.8" height="4.8" fill="#fff" stroke="#303030" stroke-width="1.1"/>
<rect x="844.2" y="1436.6" width="4.8" height="4.8" fill="#fff" stroke="#303030" stroke-width="1.1"/>
<line x1="850.5" y1="1416.2" x2="860.5" y2="1416.2" stroke="#303030" stroke-width="2.8"/>
<rect x="860.5" y="1409.9" width="35.3" height="12.6" fill="#fff" stroke="#303030" stroke-width="1.8" rx="0"/>
<text x="878.1" y="1420.3" font-size="12" font-weight="bold" text-anchor="middle" fill="#2e2e2e" stroke="#2e2e2e" stroke-width="0.08" >+30</text>
<line x1="850.5" y1="1439.0" x2="860.5" y2="1439.0" stroke="#303030" stroke-width="2.8"/>
<rect x="860.5" y="1432.7" width="35.3" height="12.6" fill="#fff" stroke="#303030" stroke-width="1.8" rx="0"/>
<text x="878.1" y="1443.1" font-size="12" font-weight="bold" text-anchor="middle" fill="#2e2e2e" stroke="#2e2e2e" stroke-width="0.08" >F06</text>
<line x1="627.0" y1="1416.2" x2="768.7" y2="1416.2" stroke="#303030" stroke-width="3.4"/>
<circle cx="627.0" cy="1416.2" r="2.2" fill="#303030"/>
<text x="622.0" y="1420.4" font-size="11" font-weight="bold" text-anchor="end" fill="#2e2e2e" stroke="#2e2e2e" stroke-width="0.08" >A19</text>
<text x="647.5" y="1412.2" font-size="10.4" font-weight="bold" text-anchor="start" fill="#2e2e2e" stroke="#2e2e2e" stroke-width="0.08" >VI/PT</text>
<polyline points="768.7,1439.0 718.0,1439.0 718.0,1485.7 771.6,1485.7" fill="none" stroke="#303030" stroke-width="1.8" stroke-linejoin="miter"/>
<text x="916.0" y="1424.0" font-size="14.9" font-weight="bold" text-anchor="start" fill="#2e2e2e" stroke="#2e2e2e" stroke-width="0.2" >T06 - Relé da 1ª velocidade</text>
<text x="916.0" y="1441.0" font-size="14.9" font-weight="bold" text-anchor="start" fill="#2e2e2e" stroke="#2e2e2e" stroke-width="0.2" >do ventilador do radiador</text>
<text x="916.0" y="1454.4" font-size="10.5" font-weight="bold" text-anchor="start" fill="#2e2e2e" stroke="#2e2e2e" stroke-width="0.08" >A19 e A52 = 82,5 Ω</text>
<rect x="767.6" y="1479.4" width="8.0" height="77.6" fill="#fbe7f0" stroke="#303030" stroke-width="1.8" rx="0"/>
<rect x="775.6" y="1473.8" width="74.4" height="89.2" fill="#fbe7f0" stroke="#303030" stroke-width="2" rx="0"/>
<polyline points="771.6,1485.7 843.5,1485.7 843.5,1502.0 832.3,1502.0" fill="none" stroke="#303030" stroke-width="1.8" stroke-linejoin="miter"/>
<rect x="793.8" y="1494.6" width="38.5" height="13.4" fill="#a8a8ac" stroke="#303030" stroke-width="1.8" rx="0"/>
<polyline points="793.8,1502.0 789.4,1502.0 789.4,1521.0" fill="none" stroke="#303030" stroke-width="2" stroke-linejoin="miter"/>
<circle cx="789.4" cy="1521.0" r="2" fill="#303030"/>
<polyline points="771.6,1521.0 843.5,1521.0 843.5,1538.7 832.3,1538.7" fill="none" stroke="#303030" stroke-width="1.8" stroke-linejoin="miter"/>
<path d="M832.3,1538.7 C832.3,1548.7 821.1,1548.7 821.1,1538.7 C821.1,1548.7 810.0,1548.7 810.0,1538.7 C810.0,1548.7 798.9,1548.7 798.9,1538.7 C798.9,1548.7 787.7,1548.7 787.7,1538.7 " fill="none" stroke="#303030" stroke-width="2.3"/>
<line x1="771.6" y1="1538.7" x2="787.7" y2="1538.7" stroke="#303030" stroke-width="1.8"/>
<rect x="791.2" y="1548.2" width="34.6" height="6.1" fill="#333"/>
<rect x="769.2" y="1483.3" width="4.8" height="4.8" fill="#fff" stroke="#303030" stroke-width="1.1"/>
<rect x="769.2" y="1518.6" width="4.8" height="4.8" fill="#fff" stroke="#303030" stroke-width="1.1"/>
<rect x="769.2" y="1536.3" width="4.8" height="4.8" fill="#fff" stroke="#303030" stroke-width="1.1"/>
<polyline points="767.6,1521.0 718.0,1521.0 718.0,1611.0 767.9,1611.0" fill="none" stroke="#303030" stroke-width="1.8" stroke-linejoin="miter"/>
<rect x="750.1" y="1529.1" width="1.8" height="19.2" fill="#303030"/>
<rect x="747.4" y="1532.2" width="1.4" height="13.0" fill="#303030"/>
<rect x="744.5" y="1533.7" width="1.4" height="10.0" fill="#303030"/>
<rect x="741.6" y="1535.2" width="1.4" height="7.0" fill="#303030"/>
<rect x="738.7" y="1536.7" width="1.4" height="4.0" fill="#303030"/>
<line x1="751.0" y1="1538.7" x2="767.6" y2="1538.7" stroke="#303030" stroke-width="2"/>
<text x="916.0" y="1499.0" font-size="14.9" font-weight="bold" text-anchor="start" fill="#2e2e2e" stroke="#2e2e2e" stroke-width="0.2" >Resistor limitador de</text>
<text x="916.0" y="1515.5" font-size="14.9" font-weight="bold" text-anchor="start" fill="#2e2e2e" stroke="#2e2e2e" stroke-width="0.2" >velocidade</text>
<text x="916.0" y="1528.2" font-size="10.5" font-weight="bold" text-anchor="start" fill="#2e2e2e" stroke="#2e2e2e" stroke-width="0.08" >87 de T06 e 87 de T07 = 0,3 Ω</text>
<text x="916.0" y="1547.3" font-size="14.9" font-weight="bold" text-anchor="start" fill="#2e2e2e" stroke="#2e2e2e" stroke-width="0.2" >Eletro ventilador do radiador</text>
<text x="916.0" y="1561.0" font-size="10.5" font-weight="bold" text-anchor="start" fill="#2e2e2e" stroke="#2e2e2e" stroke-width="0.08" >87 de T07 massa = 0,2 Ω</text>
<rect x="767.9" y="1600.0" width="7.3" height="46.0" fill="#fbe7f0" stroke="#303030" stroke-width="1.8" rx="0"/>
<rect x="842.3" y="1600.0" width="7.2" height="46.0" fill="#fbe7f0" stroke="#303030" stroke-width="1.8" rx="0"/>
<rect x="775.2" y="1592.6" width="67.1" height="57.1" fill="#fbe7f0" stroke="#303030" stroke-width="2" rx="0"/>
<text x="778.7" y="1606.5" font-size="10" font-weight="bold" text-anchor="start" fill="#2e2e2e" stroke="#2e2e2e" stroke-width="0.08" >87</text>
<text x="838.8" y="1606.5" font-size="10" font-weight="bold" text-anchor="end" fill="#2e2e2e" stroke="#2e2e2e" stroke-width="0.08" >30</text>
<text x="778.7" y="1645.0" font-size="10" font-weight="bold" text-anchor="start" fill="#2e2e2e" stroke="#2e2e2e" stroke-width="0.08" >85</text>
<text x="838.8" y="1645.0" font-size="10" font-weight="bold" text-anchor="end" fill="#2e2e2e" stroke="#2e2e2e" stroke-width="0.08" >86</text>
<line x1="771.5" y1="1611.0" x2="802.2" y2="1611.0" stroke="#303030" stroke-width="3.1999999999999997"/>
<circle cx="802.2" cy="1611.0" r="1.4" fill="#303030"/>
<line x1="814.2" y1="1611.0" x2="845.9" y2="1611.0" stroke="#303030" stroke-width="3.1999999999999997"/>
<line x1="814.2" y1="1611.0" x2="802.2" y2="1599.5" stroke="#303030" stroke-width="1.6"/>
<polygon points="801.2,1598.5 806.7,1600 802.7,1604" fill="#303030"/>
<rect x="791.2" y="1618.3" width="33.1" height="6.4" fill="#333"/>
<line x1="771.5" y1="1634.0" x2="787.7" y2="1634.0" stroke="#303030" stroke-width="1.6"/>
<path d="M787.7,1634 C787.7,1624 798.9,1624 798.9,1634 C798.9,1624 810.0,1624 810.0,1634 C810.0,1624 821.1,1624 821.1,1634 C821.1,1624 832.3,1624 832.3,1634 " fill="none" stroke="#303030" stroke-width="2.3"/>
<line x1="832.3" y1="1634.0" x2="845.9" y2="1634.0" stroke="#303030" stroke-width="1.6"/>
<rect x="769.1" y="1608.6" width="4.8" height="4.8" fill="#fff" stroke="#303030" stroke-width="1.1"/>
<rect x="843.5" y="1608.6" width="4.8" height="4.8" fill="#fff" stroke="#303030" stroke-width="1.1"/>
<rect x="769.1" y="1631.6" width="4.8" height="4.8" fill="#fff" stroke="#303030" stroke-width="1.1"/>
<rect x="843.5" y="1631.6" width="4.8" height="4.8" fill="#fff" stroke="#303030" stroke-width="1.1"/>
<line x1="849.5" y1="1611.0" x2="860.5" y2="1611.0" stroke="#303030" stroke-width="2.8"/>
<rect x="860.5" y="1604.4" width="35.3" height="13.2" fill="#fff" stroke="#303030" stroke-width="1.8" rx="0"/>
<text x="878.1" y="1615.1" font-size="12" font-weight="bold" text-anchor="middle" fill="#2e2e2e" stroke="#2e2e2e" stroke-width="0.08" >F07</text>
<line x1="849.5" y1="1634.0" x2="860.5" y2="1634.0" stroke="#303030" stroke-width="2.8"/>
<rect x="860.5" y="1627.4" width="35.3" height="13.2" fill="#fff" stroke="#303030" stroke-width="1.8" rx="0"/>
<text x="878.1" y="1638.1" font-size="12" font-weight="bold" text-anchor="middle" fill="#2e2e2e" stroke="#2e2e2e" stroke-width="0.08" >F07</text>
<line x1="627.0" y1="1634.0" x2="767.9" y2="1634.0" stroke="#303030" stroke-width="3.4"/>
<circle cx="627.0" cy="1634.0" r="2.2" fill="#303030"/>
<text x="622.0" y="1638.2" font-size="11" font-weight="bold" text-anchor="end" fill="#2e2e2e" stroke="#2e2e2e" stroke-width="0.08" >A03</text>
<text x="647.5" y="1630.0" font-size="10.4" font-weight="bold" text-anchor="start" fill="#2e2e2e" stroke="#2e2e2e" stroke-width="0.08" >AM</text>
<text x="916.0" y="1618.0" font-size="14.9" font-weight="bold" text-anchor="start" fill="#2e2e2e" stroke="#2e2e2e" stroke-width="0.2" >T07 - Relé da 2ª velocidade</text>
<text x="916.0" y="1635.0" font-size="14.9" font-weight="bold" text-anchor="start" fill="#2e2e2e" stroke="#2e2e2e" stroke-width="0.2" >do ventilador do radiador</text>
<text x="916.0" y="1648.7" font-size="10.5" font-weight="bold" text-anchor="start" fill="#2e2e2e" stroke="#2e2e2e" stroke-width="0.08" >A03 e A52 =  64,7 Ω</text>
<rect x="767.2" y="1669.7" width="7.6" height="49.2" fill="#fbe7f0" stroke="#303030" stroke-width="1.8" rx="0"/>
<rect x="774.8" y="1665.3" width="75.5" height="55.7" fill="#fbe7f0" stroke="#303030" stroke-width="2" rx="0"/>
<polygon points="800.4,1710.5 819.8,1677.3 842.7,1711.5" fill="#b4b4b8" stroke="#303030" stroke-width="1.8"/>
<line x1="771.0" y1="1680.5" x2="820.0" y2="1680.5" stroke="#303030" stroke-width="3.0"/>
<line x1="771.0" y1="1694.6" x2="809.4" y2="1694.6" stroke="#303030" stroke-width="1.4"/>
<line x1="809.4" y1="1694.6" x2="816.3" y2="1699.5" stroke="#303030" stroke-width="1.4"/>
<line x1="771.0" y1="1710.0" x2="800.4" y2="1710.0" stroke="#303030" stroke-width="3.4"/>
<rect x="768.6" y="1678.1" width="4.8" height="4.8" fill="#fff" stroke="#303030" stroke-width="1.1"/>
<rect x="768.6" y="1692.2" width="4.8" height="4.8" fill="#fff" stroke="#303030" stroke-width="1.1"/>
<rect x="768.6" y="1707.6" width="4.8" height="4.8" fill="#fff" stroke="#303030" stroke-width="1.1"/>
<text x="779.0" y="1677.0" font-size="10.5" font-weight="bold" text-anchor="start" fill="#2e2e2e" stroke="#2e2e2e" stroke-width="0.08" >B</text>
<text x="779.0" y="1692.0" font-size="10.5" font-weight="bold" text-anchor="start" fill="#2e2e2e" stroke="#2e2e2e" stroke-width="0.08" >C</text>
<text x="779.0" y="1706.5" font-size="10.5" font-weight="bold" text-anchor="start" fill="#2e2e2e" stroke="#2e2e2e" stroke-width="0.08" >A</text>
<line x1="627.0" y1="1680.5" x2="767.2" y2="1680.5" stroke="#303030" stroke-width="3.4"/>
<circle cx="627.0" cy="1680.5" r="2.2" fill="#303030"/>
<text x="622.0" y="1684.7" font-size="11" font-weight="bold" text-anchor="end" fill="#2e2e2e" stroke="#2e2e2e" stroke-width="0.08" >+A38</text>
<text x="647.5" y="1676.5" font-size="10.4" font-weight="bold" text-anchor="start" fill="#2e2e2e" stroke="#2e2e2e" stroke-width="0.08" >AZes/BR</text>
<line x1="627.0" y1="1695.0" x2="767.2" y2="1695.0" stroke="#303030" stroke-width="3.6"/>
<ellipse cx="608.0" cy="1695.0" rx="14" ry="6.6" fill="#2a2a2a"/>
<text x="608.0" y="1699.1" font-size="11" font-weight="bold" text-anchor="middle" fill="#fff" textLength="21" lengthAdjust="spacingAndGlyphs">A16</text>
<text x="647.5" y="1691.0" font-size="10.4" font-weight="bold" text-anchor="start" fill="#2e2e2e" stroke="#2e2e2e" stroke-width="0.08" >CZ/MR</text>
<line x1="627.0" y1="1710.0" x2="767.2" y2="1710.0" stroke="#303030" stroke-width="3.4"/>
<circle cx="627.0" cy="1710.0" r="2.2" fill="#303030"/>
<text x="622.0" y="1714.2" font-size="11" font-weight="bold" text-anchor="end" fill="#2e2e2e" stroke="#2e2e2e" stroke-width="0.08" >-A21</text>
<text x="647.5" y="1706.0" font-size="10.4" font-weight="bold" text-anchor="start" fill="#2e2e2e" stroke="#2e2e2e" stroke-width="0.08" >BR/PT</text>
<text x="916.0" y="1689.3" font-size="14.9" font-weight="bold" text-anchor="start" fill="#2e2e2e" stroke="#2e2e2e" stroke-width="0.2" >Sensor de pressão</text>
<text x="916.0" y="1706.4" font-size="14.9" font-weight="bold" text-anchor="start" fill="#2e2e2e" stroke="#2e2e2e" stroke-width="0.2" >do AC</text>
<rect x="768.6" y="1742.4" width="6.9" height="32.6" fill="#fbe7f0" stroke="#303030" stroke-width="1.8" rx="0"/>
<rect x="775.5" y="1736.2" width="74.8" height="42.2" fill="#fbe7f0" stroke="#303030" stroke-width="2" rx="0"/>
<polyline points="772.0,1748.6 844.7,1748.6 844.7,1764.2 833.7,1764.2" fill="none" stroke="#303030" stroke-width="1.6" stroke-linejoin="miter"/>
<path d="M833.7,1764.2 C833.7,1754.2 822.4,1754.2 822.4,1764.2 C822.4,1754.2 811.2,1754.2 811.2,1764.2 C811.2,1754.2 799.9,1754.2 799.9,1764.2 C799.9,1754.2 788.6,1754.2 788.6,1764.2 " fill="none" stroke="#303030" stroke-width="2.3"/>
<line x1="772.0" y1="1764.2" x2="788.6" y2="1764.2" stroke="#303030" stroke-width="1.6"/>
<rect x="769.6" y="1746.2" width="4.8" height="4.8" fill="#fff" stroke="#303030" stroke-width="1.1"/>
<rect x="769.6" y="1761.8" width="4.8" height="4.8" fill="#fff" stroke="#303030" stroke-width="1.1"/>
<text x="779.0" y="1745.0" font-size="10.5" font-weight="bold" text-anchor="start" fill="#2e2e2e" stroke="#2e2e2e" stroke-width="0.08" >2</text>
<text x="779.0" y="1761.0" font-size="10.5" font-weight="bold" text-anchor="start" fill="#2e2e2e" stroke="#2e2e2e" stroke-width="0.08" >1</text>
<rect x="729.1" y="1739.0" width="1.8" height="19.2" fill="#303030"/>
<rect x="726.4" y="1742.1" width="1.4" height="13.0" fill="#303030"/>
<rect x="723.5" y="1743.6" width="1.4" height="10.0" fill="#303030"/>
<rect x="720.6" y="1745.1" width="1.4" height="7.0" fill="#303030"/>
<rect x="717.7" y="1746.6" width="1.4" height="4.0" fill="#303030"/>
<line x1="730.0" y1="1748.6" x2="768.6" y2="1748.6" stroke="#303030" stroke-width="2.8"/>
<polyline points="768.6,1764.2 717.7,1764.2 717.7,1813.0 767.9,1813.0" fill="none" stroke="#303030" stroke-width="1.8" stroke-linejoin="miter"/>
<text x="916.0" y="1754.0" font-size="14.9" font-weight="bold" text-anchor="start" fill="#2e2e2e" stroke="#2e2e2e" stroke-width="0.2" >Embreagem do compressor</text>
<text x="916.0" y="1770.0" font-size="14.9" font-weight="bold" text-anchor="start" fill="#2e2e2e" stroke="#2e2e2e" stroke-width="0.2" >de ar condicionado</text>
<text x="916.0" y="1784.7" font-size="10.5" font-weight="bold" text-anchor="start" fill="#2e2e2e" stroke="#2e2e2e" stroke-width="0.08" >87 de T05 e massa  =  4,0  Ω</text>
<rect x="767.9" y="1802.7" width="6.9" height="45.0" fill="#fbe7f0" stroke="#303030" stroke-width="1.8" rx="0"/>
<rect x="842.7" y="1802.7" width="6.9" height="45.0" fill="#fbe7f0" stroke="#303030" stroke-width="1.8" rx="0"/>
<rect x="774.8" y="1795.0" width="67.9" height="56.8" fill="#fbe7f0" stroke="#303030" stroke-width="2" rx="0"/>
<text x="778.3" y="1808.5" font-size="10" font-weight="bold" text-anchor="start" fill="#2e2e2e" stroke="#2e2e2e" stroke-width="0.08" >87</text>
<text x="839.2" y="1808.5" font-size="10" font-weight="bold" text-anchor="end" fill="#2e2e2e" stroke="#2e2e2e" stroke-width="0.08" >30</text>
<text x="778.3" y="1846.6" font-size="10" font-weight="bold" text-anchor="start" fill="#2e2e2e" stroke="#2e2e2e" stroke-width="0.08" >85</text>
<text x="839.2" y="1846.6" font-size="10" font-weight="bold" text-anchor="end" fill="#2e2e2e" stroke="#2e2e2e" stroke-width="0.08" >86</text>
<line x1="771.3" y1="1813.0" x2="801.8" y2="1813.0" stroke="#303030" stroke-width="3.1999999999999997"/>
<circle cx="801.8" cy="1813.0" r="1.4" fill="#303030"/>
<line x1="813.8" y1="1813.0" x2="846.2" y2="1813.0" stroke="#303030" stroke-width="3.1999999999999997"/>
<line x1="813.8" y1="1813.0" x2="801.8" y2="1801.5" stroke="#303030" stroke-width="1.6"/>
<polygon points="800.8,1800.5 806.3,1802 802.3,1806" fill="#303030"/>
<rect x="790.8" y="1820.1" width="33.9" height="6.4" fill="#333"/>
<line x1="771.3" y1="1835.6" x2="787.3" y2="1835.6" stroke="#303030" stroke-width="1.6"/>
<path d="M787.3,1835.6 C787.3,1825.6 798.6,1825.6 798.6,1835.6 C798.6,1825.6 810.0,1825.6 810.0,1835.6 C810.0,1825.6 821.4,1825.6 821.4,1835.6 C821.4,1825.6 832.7,1825.6 832.7,1835.6 " fill="none" stroke="#303030" stroke-width="2.3"/>
<line x1="832.7" y1="1835.6" x2="846.2" y2="1835.6" stroke="#303030" stroke-width="1.6"/>
<rect x="768.9" y="1810.6" width="4.8" height="4.8" fill="#fff" stroke="#303030" stroke-width="1.1"/>
<rect x="843.8" y="1810.6" width="4.8" height="4.8" fill="#fff" stroke="#303030" stroke-width="1.1"/>
<rect x="768.9" y="1833.2" width="4.8" height="4.8" fill="#fff" stroke="#303030" stroke-width="1.1"/>
<rect x="843.8" y="1833.2" width="4.8" height="4.8" fill="#fff" stroke="#303030" stroke-width="1.1"/>
<line x1="849.6" y1="1813.0" x2="860.5" y2="1813.0" stroke="#303030" stroke-width="2.8"/>
<rect x="860.5" y="1806.4" width="35.3" height="13.2" fill="#fff" stroke="#303030" stroke-width="1.8" rx="0"/>
<text x="878.1" y="1817.1" font-size="12" font-weight="bold" text-anchor="middle" fill="#2e2e2e" stroke="#2e2e2e" stroke-width="0.08" >F19</text>
<line x1="849.6" y1="1835.6" x2="860.5" y2="1835.6" stroke="#303030" stroke-width="2.8"/>
<rect x="860.5" y="1829.0" width="35.3" height="13.2" fill="#fff" stroke="#303030" stroke-width="1.8" rx="0"/>
<text x="878.1" y="1839.7" font-size="12" font-weight="bold" text-anchor="middle" fill="#2e2e2e" stroke="#2e2e2e" stroke-width="0.08" >F87</text>
<line x1="627.0" y1="1835.6" x2="767.9" y2="1835.6" stroke="#303030" stroke-width="3.4"/>
<circle cx="627.0" cy="1835.6" r="2.2" fill="#303030"/>
<text x="622.0" y="1839.8" font-size="11" font-weight="bold" text-anchor="end" fill="#2e2e2e" stroke="#2e2e2e" stroke-width="0.08" >A08</text>
<text x="647.5" y="1831.6" font-size="10.4" font-weight="bold" text-anchor="start" fill="#2e2e2e" stroke="#2e2e2e" stroke-width="0.08" >AM/AZes</text>
<text x="916.0" y="1820.0" font-size="14.9" font-weight="bold" text-anchor="start" fill="#2e2e2e" stroke="#2e2e2e" stroke-width="0.2" >T05 - Relé do compressor</text>
<text x="916.0" y="1837.0" font-size="14.9" font-weight="bold" text-anchor="start" fill="#2e2e2e" stroke="#2e2e2e" stroke-width="0.2" >do ar condicionado</text>
<text x="916.0" y="1850.3" font-size="10.5" font-weight="bold" text-anchor="start" fill="#2e2e2e" stroke="#2e2e2e" stroke-width="0.08" >A08 e 87 de T09  =  96,3 Ω</text>
<text x="900.7" y="1870.0" font-size="12.5" font-weight="normal" text-anchor="start" fill="#e0208c"  letter-spacing="0.7" stroke="#e0208c" stroke-width="0.3">COM AR CONDICIONADO</text>
<line x1="682" y1="1938" x2="932" y2="1938" stroke="#d6d6d6" stroke-width="1.2"/>
<path d="M720.6,1938.5 L921,1938.5 Q926.5,1938.5 925.8,1943.5 L924.8,1953.2 L720.6,1953.2 Z" fill="#1b1b1b"/>
<text x="730.8" y="1950.0" font-size="11.6" font-weight="bold" text-anchor="start" fill="#fff" stroke="#fff" stroke-width="0.08" letter-spacing="-0.45">CONECTOR B - CONECTOR CINZA</text>
<rect x="920.0" y="2004.3" width="32.0" height="63.0" fill="#121212"/>
<path d="M957.6,2000.2 L1027.5,2007.8 L1027.5,2068 L957.6,2075 C941,2070 935,2052 935.4,2037.5 C935,2023 941,2005 957.6,2000.2 Z" fill="#676767"/>
<rect x="717.3" y="1970.4" width="204.3" height="130.6" fill="#aaaaaa"/>
<rect x="923.0" y="1973.9" width="40.8" height="15.1" fill="#d2193a"/>
<rect x="923.0" y="2085.3" width="40.8" height="14.6" fill="#d2193a"/>
<rect x="724.0" y="1988.6" width="190.6" height="97.4" fill="#121212"/>
<rect x="724.7" y="1977.5" width="20.3" height="12.8" fill="#d2193a"/>
<rect x="811.0" y="1977.5" width="34.6" height="12.8" fill="#d2193a"/>
<rect x="893.6" y="1977.5" width="20.2" height="12.8" fill="#d2193a"/>
<rect x="724.7" y="2085.0" width="20.3" height="11.5" fill="#d2193a"/>
<rect x="820.0" y="2085.0" width="25.6" height="11.5" fill="#d2193a"/>
<rect x="893.6" y="2085.0" width="20.2" height="11.5" fill="#d2193a"/>
<rect x="745.0" y="1986.5" width="148.6" height="2.5" fill="#8a1a24"/>
<rect x="745.0" y="2085.0" width="148.6" height="2.5" fill="#8a1a24"/>
<rect x="729.5" y="1996" width="183.5" height="82.5" rx="24" fill="#c8d31e"/>
<rect x="736.5" y="2004" width="169.5" height="66.5" rx="14" fill="#1e1e1e"/>
<rect x="739" y="2006.5" width="164.5" height="61.5" rx="11" fill="#dcdcdf"/>
<rect x="771.0" y="2005.0" width="20.0" height="5.0" fill="#262626"/>
<rect x="853.0" y="2005.0" width="20.0" height="5.0" fill="#262626"/>
<rect x="764.0" y="2064.0" width="20.0" height="5.5" fill="#262626"/>
<rect x="860.0" y="2064.0" width="20.0" height="5.5" fill="#262626"/>
<rect x="818.5" y="1999.0" width="5.0" height="7.0" fill="#4a4a4a"/>
<rect x="818.5" y="2070.0" width="5.0" height="7.0" fill="#4a4a4a"/>
<rect x="750.5" y="2011.1" width="6.0" height="4.8" fill="#6a6a6e"/>
<rect x="751.4" y="2018.7" width="4.2" height="3.6" fill="#0e0e0e"/>
<rect x="759.3" y="2011.1" width="6.0" height="4.8" fill="#6a6a6e"/>
<rect x="760.2" y="2018.7" width="4.2" height="3.6" fill="#0e0e0e"/>
<rect x="768.1" y="2011.1" width="6.0" height="4.8" fill="#6a6a6e"/>
<rect x="769.0" y="2018.7" width="4.2" height="3.6" fill="#0e0e0e"/>
<rect x="776.9" y="2011.1" width="6.0" height="4.8" fill="#6a6a6e"/>
<rect x="777.8" y="2018.7" width="4.2" height="3.6" fill="#0e0e0e"/>
<rect x="785.7" y="2011.1" width="6.0" height="4.8" fill="#6a6a6e"/>
<rect x="786.6" y="2018.7" width="4.2" height="3.6" fill="#0e0e0e"/>
<rect x="794.5" y="2011.1" width="6.0" height="4.8" fill="#6a6a6e"/>
<rect x="795.4" y="2018.7" width="4.2" height="3.6" fill="#0e0e0e"/>
<rect x="803.3" y="2011.1" width="6.0" height="4.8" fill="#6a6a6e"/>
<rect x="804.2" y="2018.7" width="4.2" height="3.6" fill="#0e0e0e"/>
<rect x="812.1" y="2011.1" width="6.0" height="4.8" fill="#6a6a6e"/>
<rect x="813.0" y="2018.7" width="4.2" height="3.6" fill="#0e0e0e"/>
<rect x="820.9" y="2011.1" width="6.0" height="4.8" fill="#6a6a6e"/>
<rect x="821.8" y="2018.7" width="4.2" height="3.6" fill="#0e0e0e"/>
<rect x="829.7" y="2011.1" width="6.0" height="4.8" fill="#6a6a6e"/>
<rect x="830.6" y="2018.7" width="4.2" height="3.6" fill="#0e0e0e"/>
<rect x="838.5" y="2011.1" width="6.0" height="4.8" fill="#6a6a6e"/>
<rect x="839.4" y="2018.7" width="4.2" height="3.6" fill="#0e0e0e"/>
<rect x="847.3" y="2011.1" width="6.0" height="4.8" fill="#6a6a6e"/>
<rect x="848.2" y="2018.7" width="4.2" height="3.6" fill="#0e0e0e"/>
<rect x="856.1" y="2011.1" width="6.0" height="4.8" fill="#6a6a6e"/>
<rect x="857.0" y="2018.7" width="4.2" height="3.6" fill="#0e0e0e"/>
<rect x="864.9" y="2011.1" width="6.0" height="4.8" fill="#6a6a6e"/>
<rect x="865.8" y="2018.7" width="4.2" height="3.6" fill="#0e0e0e"/>
<rect x="873.7" y="2011.1" width="6.0" height="4.8" fill="#6a6a6e"/>
<rect x="874.6" y="2018.7" width="4.2" height="3.6" fill="#0e0e0e"/>
<rect x="882.5" y="2011.1" width="6.0" height="4.8" fill="#6a6a6e"/>
<rect x="883.4" y="2018.7" width="4.2" height="3.6" fill="#0e0e0e"/>
<rect x="891.3" y="2011.1" width="6.0" height="4.8" fill="#6a6a6e"/>
<rect x="892.2" y="2018.7" width="4.2" height="3.6" fill="#0e0e0e"/>
<rect x="746.0" y="2032.9" width="6.0" height="4.8" fill="#6a6a6e"/>
<rect x="746.9" y="2027.8" width="4.2" height="3.6" fill="#0e0e0e"/>
<rect x="754.8" y="2032.9" width="6.0" height="4.8" fill="#6a6a6e"/>
<rect x="755.7" y="2027.8" width="4.2" height="3.6" fill="#0e0e0e"/>
<rect x="763.6" y="2032.9" width="6.0" height="4.8" fill="#6a6a6e"/>
<rect x="764.5" y="2027.8" width="4.2" height="3.6" fill="#0e0e0e"/>
<rect x="772.4" y="2032.9" width="6.0" height="4.8" fill="#6a6a6e"/>
<rect x="773.3" y="2027.8" width="4.2" height="3.6" fill="#0e0e0e"/>
<rect x="781.2" y="2032.9" width="6.0" height="4.8" fill="#6a6a6e"/>
<rect x="782.1" y="2027.8" width="4.2" height="3.6" fill="#0e0e0e"/>
<rect x="790.0" y="2032.9" width="6.0" height="4.8" fill="#6a6a6e"/>
<rect x="790.9" y="2027.8" width="4.2" height="3.6" fill="#0e0e0e"/>
<rect x="798.8" y="2032.9" width="6.0" height="4.8" fill="#6a6a6e"/>
<rect x="799.7" y="2027.8" width="4.2" height="3.6" fill="#0e0e0e"/>
<rect x="807.6" y="2032.9" width="6.0" height="4.8" fill="#6a6a6e"/>
<rect x="808.5" y="2027.8" width="4.2" height="3.6" fill="#0e0e0e"/>
<rect x="816.4" y="2032.9" width="6.0" height="4.8" fill="#6a6a6e"/>
<rect x="817.3" y="2027.8" width="4.2" height="3.6" fill="#0e0e0e"/>
<rect x="825.2" y="2032.9" width="6.0" height="4.8" fill="#6a6a6e"/>
<rect x="826.1" y="2027.8" width="4.2" height="3.6" fill="#0e0e0e"/>
<rect x="834.0" y="2032.9" width="6.0" height="4.8" fill="#6a6a6e"/>
<rect x="834.9" y="2027.8" width="4.2" height="3.6" fill="#0e0e0e"/>
<rect x="842.8" y="2032.9" width="6.0" height="4.8" fill="#6a6a6e"/>
<rect x="843.7" y="2027.8" width="4.2" height="3.6" fill="#0e0e0e"/>
<rect x="851.6" y="2032.9" width="6.0" height="4.8" fill="#6a6a6e"/>
<rect x="852.5" y="2027.8" width="4.2" height="3.6" fill="#0e0e0e"/>
<rect x="860.4" y="2032.9" width="6.0" height="4.8" fill="#6a6a6e"/>
<rect x="861.3" y="2027.8" width="4.2" height="3.6" fill="#0e0e0e"/>
<rect x="869.2" y="2032.9" width="6.0" height="4.8" fill="#6a6a6e"/>
<rect x="870.1" y="2027.8" width="4.2" height="3.6" fill="#0e0e0e"/>
<rect x="878.0" y="2032.9" width="6.0" height="4.8" fill="#6a6a6e"/>
<rect x="878.9" y="2027.8" width="4.2" height="3.6" fill="#0e0e0e"/>
<rect x="886.8" y="2032.9" width="6.0" height="4.8" fill="#6a6a6e"/>
<rect x="887.7" y="2027.8" width="4.2" height="3.6" fill="#0e0e0e"/>
<rect x="750.5" y="2036.6" width="6.0" height="4.8" fill="#6a6a6e"/>
<rect x="751.4" y="2043.4" width="4.2" height="3.6" fill="#0e0e0e"/>
<rect x="759.3" y="2036.6" width="6.0" height="4.8" fill="#6a6a6e"/>
<rect x="760.2" y="2043.4" width="4.2" height="3.6" fill="#0e0e0e"/>
<rect x="768.1" y="2036.6" width="6.0" height="4.8" fill="#6a6a6e"/>
<rect x="769.0" y="2043.4" width="4.2" height="3.6" fill="#0e0e0e"/>
<rect x="776.9" y="2036.6" width="6.0" height="4.8" fill="#6a6a6e"/>
<rect x="777.8" y="2043.4" width="4.2" height="3.6" fill="#0e0e0e"/>
<rect x="785.7" y="2036.6" width="6.0" height="4.8" fill="#6a6a6e"/>
<rect x="786.6" y="2043.4" width="4.2" height="3.6" fill="#0e0e0e"/>
<rect x="794.5" y="2036.6" width="6.0" height="4.8" fill="#6a6a6e"/>
<rect x="795.4" y="2043.4" width="4.2" height="3.6" fill="#0e0e0e"/>
<rect x="803.3" y="2036.6" width="6.0" height="4.8" fill="#6a6a6e"/>
<rect x="804.2" y="2043.4" width="4.2" height="3.6" fill="#0e0e0e"/>
<rect x="812.1" y="2036.6" width="6.0" height="4.8" fill="#6a6a6e"/>
<rect x="813.0" y="2043.4" width="4.2" height="3.6" fill="#0e0e0e"/>
<rect x="820.9" y="2036.6" width="6.0" height="4.8" fill="#6a6a6e"/>
<rect x="821.8" y="2043.4" width="4.2" height="3.6" fill="#0e0e0e"/>
<rect x="829.7" y="2036.6" width="6.0" height="4.8" fill="#6a6a6e"/>
<rect x="830.6" y="2043.4" width="4.2" height="3.6" fill="#0e0e0e"/>
<rect x="838.5" y="2036.6" width="6.0" height="4.8" fill="#6a6a6e"/>
<rect x="839.4" y="2043.4" width="4.2" height="3.6" fill="#0e0e0e"/>
<rect x="847.3" y="2036.6" width="6.0" height="4.8" fill="#6a6a6e"/>
<rect x="848.2" y="2043.4" width="4.2" height="3.6" fill="#0e0e0e"/>
<rect x="856.1" y="2036.6" width="6.0" height="4.8" fill="#6a6a6e"/>
<rect x="857.0" y="2043.4" width="4.2" height="3.6" fill="#0e0e0e"/>
<rect x="864.9" y="2036.6" width="6.0" height="4.8" fill="#6a6a6e"/>
<rect x="865.8" y="2043.4" width="4.2" height="3.6" fill="#0e0e0e"/>
<rect x="873.7" y="2036.6" width="6.0" height="4.8" fill="#6a6a6e"/>
<rect x="874.6" y="2043.4" width="4.2" height="3.6" fill="#0e0e0e"/>
<rect x="882.5" y="2036.6" width="6.0" height="4.8" fill="#6a6a6e"/>
<rect x="883.4" y="2043.4" width="4.2" height="3.6" fill="#0e0e0e"/>
<rect x="891.3" y="2036.6" width="6.0" height="4.8" fill="#6a6a6e"/>
<rect x="892.2" y="2043.4" width="4.2" height="3.6" fill="#0e0e0e"/>
<rect x="746.0" y="2057.3" width="6.0" height="4.8" fill="#6a6a6e"/>
<rect x="746.9" y="2052.2" width="4.2" height="3.6" fill="#0e0e0e"/>
<rect x="754.8" y="2057.3" width="6.0" height="4.8" fill="#6a6a6e"/>
<rect x="755.7" y="2052.2" width="4.2" height="3.6" fill="#0e0e0e"/>
<rect x="763.6" y="2057.3" width="6.0" height="4.8" fill="#6a6a6e"/>
<rect x="764.5" y="2052.2" width="4.2" height="3.6" fill="#0e0e0e"/>
<rect x="772.4" y="2057.3" width="6.0" height="4.8" fill="#6a6a6e"/>
<rect x="773.3" y="2052.2" width="4.2" height="3.6" fill="#0e0e0e"/>
<rect x="781.2" y="2057.3" width="6.0" height="4.8" fill="#6a6a6e"/>
<rect x="782.1" y="2052.2" width="4.2" height="3.6" fill="#0e0e0e"/>
<rect x="790.0" y="2057.3" width="6.0" height="4.8" fill="#6a6a6e"/>
<rect x="790.9" y="2052.2" width="4.2" height="3.6" fill="#0e0e0e"/>
<rect x="798.8" y="2057.3" width="6.0" height="4.8" fill="#6a6a6e"/>
<rect x="799.7" y="2052.2" width="4.2" height="3.6" fill="#0e0e0e"/>
<rect x="807.6" y="2057.3" width="6.0" height="4.8" fill="#6a6a6e"/>
<rect x="808.5" y="2052.2" width="4.2" height="3.6" fill="#0e0e0e"/>
<rect x="816.4" y="2057.3" width="6.0" height="4.8" fill="#6a6a6e"/>
<rect x="817.3" y="2052.2" width="4.2" height="3.6" fill="#0e0e0e"/>
<rect x="825.2" y="2057.3" width="6.0" height="4.8" fill="#6a6a6e"/>
<rect x="826.1" y="2052.2" width="4.2" height="3.6" fill="#0e0e0e"/>
<rect x="834.0" y="2057.3" width="6.0" height="4.8" fill="#6a6a6e"/>
<rect x="834.9" y="2052.2" width="4.2" height="3.6" fill="#0e0e0e"/>
<rect x="842.8" y="2057.3" width="6.0" height="4.8" fill="#6a6a6e"/>
<rect x="843.7" y="2052.2" width="4.2" height="3.6" fill="#0e0e0e"/>
<rect x="851.6" y="2057.3" width="6.0" height="4.8" fill="#6a6a6e"/>
<rect x="852.5" y="2052.2" width="4.2" height="3.6" fill="#0e0e0e"/>
<rect x="860.4" y="2057.3" width="6.0" height="4.8" fill="#6a6a6e"/>
<rect x="861.3" y="2052.2" width="4.2" height="3.6" fill="#0e0e0e"/>
<rect x="869.2" y="2057.3" width="6.0" height="4.8" fill="#6a6a6e"/>
<rect x="870.1" y="2052.2" width="4.2" height="3.6" fill="#0e0e0e"/>
<rect x="878.0" y="2057.3" width="6.0" height="4.8" fill="#6a6a6e"/>
<rect x="878.9" y="2052.2" width="4.2" height="3.6" fill="#0e0e0e"/>
<rect x="886.8" y="2057.3" width="6.0" height="4.8" fill="#6a6a6e"/>
<rect x="887.7" y="2052.2" width="4.2" height="3.6" fill="#0e0e0e"/>
<rect x="745.0" y="2036.8" width="152.0" height="1.0" fill="#9a9a9e"/>
<line x1="718" y1="2001.5" x2="757" y2="2020.5" stroke="#e0a050" stroke-width="1.3" opacity="0.85"/>
<circle cx="757.0" cy="2020.5" r="3.2" fill="#e99a30" stroke="#c98020" stroke-width="0.6"/>
<line x1="708.8" y1="2026.8" x2="752" y2="2029" stroke="#e0a050" stroke-width="1.3" opacity="0.85"/>
<circle cx="752.0" cy="2029.0" r="3.2" fill="#e99a30" stroke="#c98020" stroke-width="0.6"/>
<line x1="717.3" y1="2048.7" x2="756" y2="2045" stroke="#e0a050" stroke-width="1.3" opacity="0.85"/>
<circle cx="756.0" cy="2045.0" r="3.2" fill="#e99a30" stroke="#c98020" stroke-width="0.6"/>
<line x1="708.8" y1="2074" x2="752" y2="2056" stroke="#e0a050" stroke-width="1.3" opacity="0.85"/>
<circle cx="752.0" cy="2056.0" r="3.2" fill="#e99a30" stroke="#c98020" stroke-width="0.6"/>
<line x1="930" y1="2001.5" x2="889" y2="2020.5" stroke="#e0a050" stroke-width="1.3" opacity="0.85"/>
<circle cx="889.0" cy="2020.5" r="3.2" fill="#e99a30" stroke="#c98020" stroke-width="0.6"/>
<line x1="921.6" y1="2026.8" x2="885" y2="2029" stroke="#e0a050" stroke-width="1.3" opacity="0.85"/>
<circle cx="885.0" cy="2029.0" r="3.2" fill="#e99a30" stroke="#c98020" stroke-width="0.6"/>
<line x1="930" y1="2048.7" x2="889" y2="2045" stroke="#e0a050" stroke-width="1.3" opacity="0.85"/>
<circle cx="889.0" cy="2045.0" r="3.2" fill="#e99a30" stroke="#c98020" stroke-width="0.6"/>
<line x1="921.6" y1="2074" x2="884" y2="2056" stroke="#e0a050" stroke-width="1.3" opacity="0.85"/>
<circle cx="884.0" cy="2056.0" r="3.2" fill="#e99a30" stroke="#c98020" stroke-width="0.6"/>
<circle cx="718.0" cy="2001.5" r="8.6" fill="#fdfbea" stroke="#c9b487" stroke-width="1.5"/>
<text x="718.0" y="2005.8" font-size="12.3" font-weight="normal" text-anchor="middle" fill="#1a1a1a"  stroke="#1a1a1a" stroke-width="0.25">64</text>
<circle cx="708.8" cy="2026.8" r="8.6" fill="#fdfbea" stroke="#c9b487" stroke-width="1.5"/>
<text x="708.8" y="2031.1" font-size="12.3" font-weight="normal" text-anchor="middle" fill="#1a1a1a"  stroke="#1a1a1a" stroke-width="0.25">48</text>
<circle cx="717.3" cy="2048.7" r="8.6" fill="#fdfbea" stroke="#c9b487" stroke-width="1.5"/>
<text x="717.3" y="2053.0" font-size="12.3" font-weight="normal" text-anchor="middle" fill="#1a1a1a"  stroke="#1a1a1a" stroke-width="0.25">32</text>
<circle cx="708.8" cy="2074.0" r="8.6" fill="#fdfbea" stroke="#c9b487" stroke-width="1.5"/>
<text x="708.8" y="2078.3" font-size="12.3" font-weight="normal" text-anchor="middle" fill="#1a1a1a"  stroke="#1a1a1a" stroke-width="0.25">16</text>
<circle cx="930.0" cy="2001.5" r="8.6" fill="#fdfbea" stroke="#c9b487" stroke-width="1.5"/>
<text x="930.0" y="2005.8" font-size="12.3" font-weight="normal" text-anchor="middle" fill="#1a1a1a"  stroke="#1a1a1a" stroke-width="0.25">49</text>
<circle cx="921.6" cy="2026.8" r="8.6" fill="#fdfbea" stroke="#c9b487" stroke-width="1.5"/>
<text x="921.6" y="2031.1" font-size="12.3" font-weight="normal" text-anchor="middle" fill="#1a1a1a"  stroke="#1a1a1a" stroke-width="0.25">33</text>
<circle cx="930.0" cy="2048.7" r="8.6" fill="#fdfbea" stroke="#c9b487" stroke-width="1.5"/>
<text x="930.0" y="2053.0" font-size="12.3" font-weight="normal" text-anchor="middle" fill="#1a1a1a"  stroke="#1a1a1a" stroke-width="0.25">17</text>
<circle cx="921.6" cy="2074.0" r="8.6" fill="#fdfbea" stroke="#c9b487" stroke-width="1.5"/>
<text x="921.6" y="2078.3" font-size="12.3" font-weight="normal" text-anchor="middle" fill="#1a1a1a"  stroke="#1a1a1a" stroke-width="0.25">01</text>
<line x1="700" y1="2127" x2="1035" y2="2127" stroke="#d6d6d6" stroke-width="1.2"/>
<path d="M721.3,2129.3 L926,2129.3 Q931.8,2129.3 931,2134 L930,2143.8 L721.3,2143.8 Z" fill="#1b1b1b"/>
<text x="731.5" y="2141.0" font-size="11.6" font-weight="bold" text-anchor="start" fill="#fff" stroke="#fff" stroke-width="0.08" letter-spacing="-0.45">CONECTOR A - CONECTOR PRETO</text>
<rect x="914.0" y="2191.0" width="31.0" height="65.0" fill="#121212"/>
<path d="M950,2186.5 L1017,2193 L1017,2253 L950,2258.5 C934,2254 929,2237 929.5,2222.5 C929,2208 934,2191 950,2186.5 Z" fill="#676767"/>
<rect x="720.6" y="2158.3" width="195.4" height="123.9" fill="#aaaaaa"/>
<rect x="917.5" y="2162.3" width="37.8" height="13.7" fill="#d2193a"/>
<rect x="917.5" y="2268.0" width="37.8" height="14.0" fill="#d2193a"/>
<rect x="726.7" y="2176.0" width="183.0" height="92.0" fill="#121212"/>
<rect x="728.0" y="2164.5" width="19.0" height="12.0" fill="#d2193a"/>
<rect x="728.0" y="2268.0" width="19.0" height="9.5" fill="#d2193a"/>
<rect x="811.0" y="2164.5" width="33.0" height="12.0" fill="#d2193a"/>
<rect x="811.0" y="2268.0" width="33.0" height="9.5" fill="#d2193a"/>
<rect x="890.0" y="2164.5" width="18.7" height="12.0" fill="#d2193a"/>
<rect x="890.0" y="2268.0" width="18.7" height="9.5" fill="#d2193a"/>
<rect x="747.0" y="2174.0" width="143.0" height="2.5" fill="#8a1a24"/>
<rect x="747.0" y="2267.5" width="143.0" height="2.5" fill="#8a1a24"/>
<rect x="730" y="2182.6" width="178" height="79.4" rx="24" fill="#c8d31e"/>
<rect x="737.5" y="2190" width="163" height="65" rx="13" fill="#1e1e1e"/>
<rect x="745" y="2194.4" width="148" height="55.6" rx="6" fill="#818187"/>
<rect x="770.0" y="2192.5" width="20.0" height="5.5" fill="#262626"/>
<rect x="850.0" y="2192.5" width="20.0" height="5.5" fill="#262626"/>
<rect x="765.0" y="2246.5" width="20.0" height="5.5" fill="#262626"/>
<rect x="856.0" y="2246.5" width="20.0" height="5.5" fill="#262626"/>
<rect x="816.5" y="2185.0" width="4.0" height="7.0" fill="#4a4a4a"/>
<rect x="816.5" y="2252.0" width="4.0" height="7.0" fill="#4a4a4a"/>
<ellipse cx="765.7" cy="2207.7" rx="3.3" ry="3" fill="#b2b2b6"/>
<ellipse cx="765.7" cy="2207.7" rx="1.9" ry="1.5" fill="#0e0e0e"/>
<ellipse cx="774.0" cy="2207.7" rx="3.3" ry="3" fill="#b2b2b6"/>
<ellipse cx="774.0" cy="2207.7" rx="1.9" ry="1.5" fill="#0e0e0e"/>
<ellipse cx="782.3" cy="2207.7" rx="3.3" ry="3" fill="#b2b2b6"/>
<ellipse cx="782.3" cy="2207.7" rx="1.9" ry="1.5" fill="#0e0e0e"/>
<ellipse cx="790.6" cy="2207.7" rx="3.3" ry="3" fill="#b2b2b6"/>
<ellipse cx="790.6" cy="2207.7" rx="1.9" ry="1.5" fill="#0e0e0e"/>
<ellipse cx="798.9" cy="2207.7" rx="3.3" ry="3" fill="#b2b2b6"/>
<ellipse cx="798.9" cy="2207.7" rx="1.9" ry="1.5" fill="#0e0e0e"/>
<ellipse cx="807.2" cy="2207.7" rx="3.3" ry="3" fill="#b2b2b6"/>
<ellipse cx="807.2" cy="2207.7" rx="1.9" ry="1.5" fill="#0e0e0e"/>
<ellipse cx="815.5" cy="2207.7" rx="3.3" ry="3" fill="#b2b2b6"/>
<ellipse cx="815.5" cy="2207.7" rx="1.9" ry="1.5" fill="#0e0e0e"/>
<ellipse cx="823.8" cy="2207.7" rx="3.3" ry="3" fill="#b2b2b6"/>
<ellipse cx="823.8" cy="2207.7" rx="1.9" ry="1.5" fill="#0e0e0e"/>
<ellipse cx="832.1" cy="2207.7" rx="3.3" ry="3" fill="#b2b2b6"/>
<ellipse cx="832.1" cy="2207.7" rx="1.9" ry="1.5" fill="#0e0e0e"/>
<ellipse cx="840.4" cy="2207.7" rx="3.3" ry="3" fill="#b2b2b6"/>
<ellipse cx="840.4" cy="2207.7" rx="1.9" ry="1.5" fill="#0e0e0e"/>
<ellipse cx="848.7" cy="2207.7" rx="3.3" ry="3" fill="#b2b2b6"/>
<ellipse cx="848.7" cy="2207.7" rx="1.9" ry="1.5" fill="#0e0e0e"/>
<ellipse cx="857.0" cy="2207.7" rx="3.3" ry="3" fill="#b2b2b6"/>
<ellipse cx="857.0" cy="2207.7" rx="1.9" ry="1.5" fill="#0e0e0e"/>
<ellipse cx="865.3" cy="2207.7" rx="3.3" ry="3" fill="#b2b2b6"/>
<ellipse cx="865.3" cy="2207.7" rx="1.9" ry="1.5" fill="#0e0e0e"/>
<ellipse cx="873.6" cy="2207.7" rx="3.3" ry="3" fill="#b2b2b6"/>
<ellipse cx="873.6" cy="2207.7" rx="1.9" ry="1.5" fill="#0e0e0e"/>
<ellipse cx="881.9" cy="2207.7" rx="3.3" ry="3" fill="#b2b2b6"/>
<ellipse cx="881.9" cy="2207.7" rx="1.9" ry="1.5" fill="#0e0e0e"/>
<ellipse cx="890.2" cy="2207.7" rx="3.3" ry="3" fill="#b2b2b6"/>
<ellipse cx="890.2" cy="2207.7" rx="1.9" ry="1.5" fill="#0e0e0e"/>
<ellipse cx="761.6" cy="2215.5" rx="3.3" ry="3" fill="#b2b2b6"/>
<ellipse cx="761.6" cy="2215.5" rx="1.9" ry="1.5" fill="#0e0e0e"/>
<ellipse cx="769.9" cy="2215.5" rx="3.3" ry="3" fill="#b2b2b6"/>
<ellipse cx="769.9" cy="2215.5" rx="1.9" ry="1.5" fill="#0e0e0e"/>
<ellipse cx="778.2" cy="2215.5" rx="3.3" ry="3" fill="#b2b2b6"/>
<ellipse cx="778.2" cy="2215.5" rx="1.9" ry="1.5" fill="#0e0e0e"/>
<ellipse cx="786.5" cy="2215.5" rx="3.3" ry="3" fill="#b2b2b6"/>
<ellipse cx="786.5" cy="2215.5" rx="1.9" ry="1.5" fill="#0e0e0e"/>
<ellipse cx="794.8" cy="2215.5" rx="3.3" ry="3" fill="#b2b2b6"/>
<ellipse cx="794.8" cy="2215.5" rx="1.9" ry="1.5" fill="#0e0e0e"/>
<ellipse cx="803.1" cy="2215.5" rx="3.3" ry="3" fill="#b2b2b6"/>
<ellipse cx="803.1" cy="2215.5" rx="1.9" ry="1.5" fill="#0e0e0e"/>
<ellipse cx="811.4" cy="2215.5" rx="3.3" ry="3" fill="#b2b2b6"/>
<ellipse cx="811.4" cy="2215.5" rx="1.9" ry="1.5" fill="#0e0e0e"/>
<ellipse cx="819.7" cy="2215.5" rx="3.3" ry="3" fill="#b2b2b6"/>
<ellipse cx="819.7" cy="2215.5" rx="1.9" ry="1.5" fill="#0e0e0e"/>
<ellipse cx="828.0" cy="2215.5" rx="3.3" ry="3" fill="#b2b2b6"/>
<ellipse cx="828.0" cy="2215.5" rx="1.9" ry="1.5" fill="#0e0e0e"/>
<ellipse cx="836.3" cy="2215.5" rx="3.3" ry="3" fill="#b2b2b6"/>
<ellipse cx="836.3" cy="2215.5" rx="1.9" ry="1.5" fill="#0e0e0e"/>
<ellipse cx="844.6" cy="2215.5" rx="3.3" ry="3" fill="#b2b2b6"/>
<ellipse cx="844.6" cy="2215.5" rx="1.9" ry="1.5" fill="#0e0e0e"/>
<ellipse cx="852.9" cy="2215.5" rx="3.3" ry="3" fill="#b2b2b6"/>
<ellipse cx="852.9" cy="2215.5" rx="1.9" ry="1.5" fill="#0e0e0e"/>
<ellipse cx="861.2" cy="2215.5" rx="3.3" ry="3" fill="#b2b2b6"/>
<ellipse cx="861.2" cy="2215.5" rx="1.9" ry="1.5" fill="#0e0e0e"/>
<ellipse cx="869.5" cy="2215.5" rx="3.3" ry="3" fill="#b2b2b6"/>
<ellipse cx="869.5" cy="2215.5" rx="1.9" ry="1.5" fill="#0e0e0e"/>
<ellipse cx="877.8" cy="2215.5" rx="3.3" ry="3" fill="#b2b2b6"/>
<ellipse cx="877.8" cy="2215.5" rx="1.9" ry="1.5" fill="#0e0e0e"/>
<ellipse cx="886.1" cy="2215.5" rx="3.3" ry="3" fill="#b2b2b6"/>
<ellipse cx="886.1" cy="2215.5" rx="1.9" ry="1.5" fill="#0e0e0e"/>
<ellipse cx="765.7" cy="2230.0" rx="3.3" ry="3" fill="#b2b2b6"/>
<ellipse cx="765.7" cy="2230.0" rx="1.9" ry="1.5" fill="#0e0e0e"/>
<ellipse cx="774.0" cy="2230.0" rx="3.3" ry="3" fill="#b2b2b6"/>
<ellipse cx="774.0" cy="2230.0" rx="1.9" ry="1.5" fill="#0e0e0e"/>
<ellipse cx="782.3" cy="2230.0" rx="3.3" ry="3" fill="#b2b2b6"/>
<ellipse cx="782.3" cy="2230.0" rx="1.9" ry="1.5" fill="#0e0e0e"/>
<ellipse cx="790.6" cy="2230.0" rx="3.3" ry="3" fill="#b2b2b6"/>
<ellipse cx="790.6" cy="2230.0" rx="1.9" ry="1.5" fill="#0e0e0e"/>
<ellipse cx="798.9" cy="2230.0" rx="3.3" ry="3" fill="#b2b2b6"/>
<ellipse cx="798.9" cy="2230.0" rx="1.9" ry="1.5" fill="#0e0e0e"/>
<ellipse cx="807.2" cy="2230.0" rx="3.3" ry="3" fill="#b2b2b6"/>
<ellipse cx="807.2" cy="2230.0" rx="1.9" ry="1.5" fill="#0e0e0e"/>
<ellipse cx="815.5" cy="2230.0" rx="3.3" ry="3" fill="#b2b2b6"/>
<ellipse cx="815.5" cy="2230.0" rx="1.9" ry="1.5" fill="#0e0e0e"/>
<ellipse cx="823.8" cy="2230.0" rx="3.3" ry="3" fill="#b2b2b6"/>
<ellipse cx="823.8" cy="2230.0" rx="1.9" ry="1.5" fill="#0e0e0e"/>
<ellipse cx="832.1" cy="2230.0" rx="3.3" ry="3" fill="#b2b2b6"/>
<ellipse cx="832.1" cy="2230.0" rx="1.9" ry="1.5" fill="#0e0e0e"/>
<ellipse cx="840.4" cy="2230.0" rx="3.3" ry="3" fill="#b2b2b6"/>
<ellipse cx="840.4" cy="2230.0" rx="1.9" ry="1.5" fill="#0e0e0e"/>
<ellipse cx="848.7" cy="2230.0" rx="3.3" ry="3" fill="#b2b2b6"/>
<ellipse cx="848.7" cy="2230.0" rx="1.9" ry="1.5" fill="#0e0e0e"/>
<ellipse cx="857.0" cy="2230.0" rx="3.3" ry="3" fill="#b2b2b6"/>
<ellipse cx="857.0" cy="2230.0" rx="1.9" ry="1.5" fill="#0e0e0e"/>
<ellipse cx="865.3" cy="2230.0" rx="3.3" ry="3" fill="#b2b2b6"/>
<ellipse cx="865.3" cy="2230.0" rx="1.9" ry="1.5" fill="#0e0e0e"/>
<ellipse cx="873.6" cy="2230.0" rx="3.3" ry="3" fill="#b2b2b6"/>
<ellipse cx="873.6" cy="2230.0" rx="1.9" ry="1.5" fill="#0e0e0e"/>
<ellipse cx="881.9" cy="2230.0" rx="3.3" ry="3" fill="#b2b2b6"/>
<ellipse cx="881.9" cy="2230.0" rx="1.9" ry="1.5" fill="#0e0e0e"/>
<ellipse cx="890.2" cy="2230.0" rx="3.3" ry="3" fill="#b2b2b6"/>
<ellipse cx="890.2" cy="2230.0" rx="1.9" ry="1.5" fill="#0e0e0e"/>
<ellipse cx="761.6" cy="2237.8" rx="3.3" ry="3" fill="#b2b2b6"/>
<ellipse cx="761.6" cy="2237.8" rx="1.9" ry="1.5" fill="#0e0e0e"/>
<ellipse cx="769.9" cy="2237.8" rx="3.3" ry="3" fill="#b2b2b6"/>
<ellipse cx="769.9" cy="2237.8" rx="1.9" ry="1.5" fill="#0e0e0e"/>
<ellipse cx="778.2" cy="2237.8" rx="3.3" ry="3" fill="#b2b2b6"/>
<ellipse cx="778.2" cy="2237.8" rx="1.9" ry="1.5" fill="#0e0e0e"/>
<ellipse cx="786.5" cy="2237.8" rx="3.3" ry="3" fill="#b2b2b6"/>
<ellipse cx="786.5" cy="2237.8" rx="1.9" ry="1.5" fill="#0e0e0e"/>
<ellipse cx="794.8" cy="2237.8" rx="3.3" ry="3" fill="#b2b2b6"/>
<ellipse cx="794.8" cy="2237.8" rx="1.9" ry="1.5" fill="#0e0e0e"/>
<ellipse cx="803.1" cy="2237.8" rx="3.3" ry="3" fill="#b2b2b6"/>
<ellipse cx="803.1" cy="2237.8" rx="1.9" ry="1.5" fill="#0e0e0e"/>
<ellipse cx="811.4" cy="2237.8" rx="3.3" ry="3" fill="#b2b2b6"/>
<ellipse cx="811.4" cy="2237.8" rx="1.9" ry="1.5" fill="#0e0e0e"/>
<ellipse cx="819.7" cy="2237.8" rx="3.3" ry="3" fill="#b2b2b6"/>
<ellipse cx="819.7" cy="2237.8" rx="1.9" ry="1.5" fill="#0e0e0e"/>
<ellipse cx="828.0" cy="2237.8" rx="3.3" ry="3" fill="#b2b2b6"/>
<ellipse cx="828.0" cy="2237.8" rx="1.9" ry="1.5" fill="#0e0e0e"/>
<ellipse cx="836.3" cy="2237.8" rx="3.3" ry="3" fill="#b2b2b6"/>
<ellipse cx="836.3" cy="2237.8" rx="1.9" ry="1.5" fill="#0e0e0e"/>
<ellipse cx="844.6" cy="2237.8" rx="3.3" ry="3" fill="#b2b2b6"/>
<ellipse cx="844.6" cy="2237.8" rx="1.9" ry="1.5" fill="#0e0e0e"/>
<ellipse cx="852.9" cy="2237.8" rx="3.3" ry="3" fill="#b2b2b6"/>
<ellipse cx="852.9" cy="2237.8" rx="1.9" ry="1.5" fill="#0e0e0e"/>
<ellipse cx="861.2" cy="2237.8" rx="3.3" ry="3" fill="#b2b2b6"/>
<ellipse cx="861.2" cy="2237.8" rx="1.9" ry="1.5" fill="#0e0e0e"/>
<ellipse cx="869.5" cy="2237.8" rx="3.3" ry="3" fill="#b2b2b6"/>
<ellipse cx="869.5" cy="2237.8" rx="1.9" ry="1.5" fill="#0e0e0e"/>
<ellipse cx="877.8" cy="2237.8" rx="3.3" ry="3" fill="#b2b2b6"/>
<ellipse cx="877.8" cy="2237.8" rx="1.9" ry="1.5" fill="#0e0e0e"/>
<ellipse cx="886.1" cy="2237.8" rx="3.3" ry="3" fill="#b2b2b6"/>
<ellipse cx="886.1" cy="2237.8" rx="1.9" ry="1.5" fill="#0e0e0e"/>
<rect x="750.0" y="2221.5" width="140.0" height="2.0" fill="#6f6f72"/>
<line x1="718" y1="2189.4" x2="757" y2="2208" stroke="#e0a050" stroke-width="1.3" opacity="0.85"/>
<circle cx="757.0" cy="2208.0" r="3.2" fill="#e99a30" stroke="#c98020" stroke-width="0.6"/>
<line x1="709.8" y1="2212.3" x2="752" y2="2216" stroke="#e0a050" stroke-width="1.3" opacity="0.85"/>
<circle cx="752.0" cy="2216.0" r="3.2" fill="#e99a30" stroke="#c98020" stroke-width="0.6"/>
<line x1="718" y1="2234" x2="757" y2="2230" stroke="#e0a050" stroke-width="1.3" opacity="0.85"/>
<circle cx="757.0" cy="2230.0" r="3.2" fill="#e99a30" stroke="#c98020" stroke-width="0.6"/>
<line x1="709.8" y1="2257" x2="752" y2="2238" stroke="#e0a050" stroke-width="1.3" opacity="0.85"/>
<circle cx="752.0" cy="2238.0" r="3.2" fill="#e99a30" stroke="#c98020" stroke-width="0.6"/>
<line x1="925" y1="2189.4" x2="884" y2="2208" stroke="#e0a050" stroke-width="1.3" opacity="0.85"/>
<circle cx="884.0" cy="2208.0" r="3.2" fill="#e99a30" stroke="#c98020" stroke-width="0.6"/>
<line x1="916.5" y1="2212.3" x2="880" y2="2216" stroke="#e0a050" stroke-width="1.3" opacity="0.85"/>
<circle cx="880.0" cy="2216.0" r="3.2" fill="#e99a30" stroke="#c98020" stroke-width="0.6"/>
<line x1="925" y1="2234" x2="884" y2="2230" stroke="#e0a050" stroke-width="1.3" opacity="0.85"/>
<circle cx="884.0" cy="2230.0" r="3.2" fill="#e99a30" stroke="#c98020" stroke-width="0.6"/>
<line x1="916.5" y1="2257" x2="880" y2="2238" stroke="#e0a050" stroke-width="1.3" opacity="0.85"/>
<circle cx="880.0" cy="2238.0" r="3.2" fill="#e99a30" stroke="#c98020" stroke-width="0.6"/>
<circle cx="718.0" cy="2189.4" r="8.6" fill="#fdfbea" stroke="#c9b487" stroke-width="1.5"/>
<text x="718.0" y="2193.7" font-size="12.3" font-weight="normal" text-anchor="middle" fill="#1a1a1a"  stroke="#1a1a1a" stroke-width="0.25">01</text>
<circle cx="709.8" cy="2212.3" r="8.6" fill="#fdfbea" stroke="#c9b487" stroke-width="1.5"/>
<text x="709.8" y="2216.6" font-size="12.3" font-weight="normal" text-anchor="middle" fill="#1a1a1a"  stroke="#1a1a1a" stroke-width="0.25">17</text>
<circle cx="718.0" cy="2234.0" r="8.6" fill="#fdfbea" stroke="#c9b487" stroke-width="1.5"/>
<text x="718.0" y="2238.3" font-size="12.3" font-weight="normal" text-anchor="middle" fill="#1a1a1a"  stroke="#1a1a1a" stroke-width="0.25">33</text>
<circle cx="709.8" cy="2257.0" r="8.6" fill="#fdfbea" stroke="#c9b487" stroke-width="1.5"/>
<text x="709.8" y="2261.3" font-size="12.3" font-weight="normal" text-anchor="middle" fill="#1a1a1a"  stroke="#1a1a1a" stroke-width="0.25">49</text>
<circle cx="925.0" cy="2189.4" r="8.6" fill="#fdfbea" stroke="#c9b487" stroke-width="1.5"/>
<text x="925.0" y="2193.7" font-size="12.3" font-weight="normal" text-anchor="middle" fill="#1a1a1a"  stroke="#1a1a1a" stroke-width="0.25">16</text>
<circle cx="916.5" cy="2212.3" r="8.6" fill="#fdfbea" stroke="#c9b487" stroke-width="1.5"/>
<text x="916.5" y="2216.6" font-size="12.3" font-weight="normal" text-anchor="middle" fill="#1a1a1a"  stroke="#1a1a1a" stroke-width="0.25">32</text>
<circle cx="925.0" cy="2234.0" r="8.6" fill="#fdfbea" stroke="#c9b487" stroke-width="1.5"/>
<text x="925.0" y="2238.3" font-size="12.3" font-weight="normal" text-anchor="middle" fill="#1a1a1a"  stroke="#1a1a1a" stroke-width="0.25">48</text>
<circle cx="916.5" cy="2257.0" r="8.6" fill="#fdfbea" stroke="#c9b487" stroke-width="1.5"/>
<text x="916.5" y="2261.3" font-size="12.3" font-weight="normal" text-anchor="middle" fill="#1a1a1a"  stroke="#1a1a1a" stroke-width="0.25">64</text>
</svg></body></html>
